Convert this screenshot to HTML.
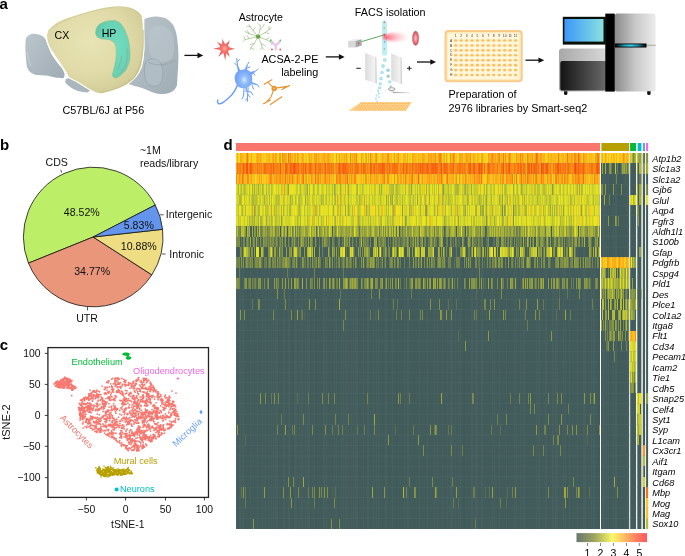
<!DOCTYPE html>
<html><head><meta charset="utf-8"><style>
html,body{margin:0;padding:0;background:#fff;width:685px;height:556px;overflow:hidden}
body{position:relative;font-family:"Liberation Sans", sans-serif;filter:blur(0.3px)}
</style></head><body>
<svg width="685" height="556" viewBox="0 0 685 556" style="position:absolute;left:0;top:0"><rect x="236.0" y="153.0" width="364.00" height="376.0" fill="#425c5c"/><rect x="601.2" y="153.0" width="28.00" height="376.0" fill="#425c5c"/><rect x="630.2" y="153.0" width="5.90" height="376.0" fill="#425c5c"/><rect x="637.3" y="153.0" width="4.20" height="376.0" fill="#425c5c"/><rect x="642.8" y="153.0" width="2.30" height="376.0" fill="#425c5c"/><rect x="646.1" y="153.0" width="2.00" height="376.0" fill="#425c5c"/><path stroke="#475f5f" stroke-width="1" d="M236.5 153.0V529.0M239.5 153.0V529.0M240.5 153.0V529.0M242.5 153.0V529.0M243.5 153.0V529.0M250.5 153.0V529.0M257.5 153.0V529.0M262.5 153.0V529.0M265.5 153.0V529.0M268.5 153.0V529.0M271.5 153.0V529.0M273.5 153.0V529.0M275.5 153.0V529.0M276.5 153.0V529.0M277.5 153.0V529.0M283.5 153.0V529.0M284.5 153.0V529.0M288.5 153.0V529.0M289.5 153.0V529.0M294.5 153.0V529.0M295.5 153.0V529.0M296.5 153.0V529.0M299.5 153.0V529.0M301.5 153.0V529.0M302.5 153.0V529.0M305.5 153.0V529.0M307.5 153.0V529.0M308.5 153.0V529.0M309.5 153.0V529.0M314.5 153.0V529.0M323.5 153.0V529.0M324.5 153.0V529.0M326.5 153.0V529.0M334.5 153.0V529.0M336.5 153.0V529.0M341.5 153.0V529.0M343.5 153.0V529.0M345.5 153.0V529.0M346.5 153.0V529.0M348.5 153.0V529.0M351.5 153.0V529.0M353.5 153.0V529.0M355.5 153.0V529.0M356.5 153.0V529.0M357.5 153.0V529.0M363.5 153.0V529.0M367.5 153.0V529.0M368.5 153.0V529.0M373.5 153.0V529.0M376.5 153.0V529.0M378.5 153.0V529.0M385.5 153.0V529.0M386.5 153.0V529.0M392.5 153.0V529.0M404.5 153.0V529.0M407.5 153.0V529.0M408.5 153.0V529.0M419.5 153.0V529.0M427.5 153.0V529.0M434.5 153.0V529.0M437.5 153.0V529.0M442.5 153.0V529.0M447.5 153.0V529.0M450.5 153.0V529.0M451.5 153.0V529.0M452.5 153.0V529.0M455.5 153.0V529.0M458.5 153.0V529.0M460.5 153.0V529.0M471.5 153.0V529.0M472.5 153.0V529.0M475.5 153.0V529.0M476.5 153.0V529.0M477.5 153.0V529.0M481.5 153.0V529.0M482.5 153.0V529.0M492.5 153.0V529.0M494.5 153.0V529.0M499.5 153.0V529.0M506.5 153.0V529.0M514.5 153.0V529.0M516.5 153.0V529.0M520.5 153.0V529.0M523.5 153.0V529.0M524.5 153.0V529.0M536.5 153.0V529.0M538.5 153.0V529.0M539.5 153.0V529.0M545.5 153.0V529.0M546.5 153.0V529.0M552.5 153.0V529.0M553.5 153.0V529.0M555.5 153.0V529.0M556.5 153.0V529.0M557.5 153.0V529.0M563.5 153.0V529.0M565.5 153.0V529.0M569.5 153.0V529.0M577.5 153.0V529.0M583.5 153.0V529.0M584.5 153.0V529.0M585.5 153.0V529.0M591.5 153.0V529.0M593.5 153.0V529.0M594.5 153.0V529.0M602.5 153.0V529.0M603.5 153.0V529.0M604.5 153.0V529.0M606.5 153.0V529.0M608.5 153.0V529.0M613.5 153.0V529.0M615.5 153.0V529.0M616.5 153.0V529.0M627.5 153.0V529.0M628.5 153.0V529.0M635.5 153.0V529.0"/><path stroke="#405a5a" stroke-width="1" d="M249.5 153.0V529.0M267.5 153.0V529.0M292.5 153.0V529.0M293.5 153.0V529.0M310.5 153.0V529.0M315.5 153.0V529.0M316.5 153.0V529.0M321.5 153.0V529.0M364.5 153.0V529.0M383.5 153.0V529.0M389.5 153.0V529.0M396.5 153.0V529.0M402.5 153.0V529.0M414.5 153.0V529.0M463.5 153.0V529.0M464.5 153.0V529.0M507.5 153.0V529.0M567.5 153.0V529.0M598.5 153.0V529.0M601.5 153.0V529.0M609.5 153.0V529.0M611.5 153.0V529.0M618.5 153.0V529.0M619.5 153.0V529.0M622.5 153.0V529.0"/><path stroke="#fad41c" stroke-width="10.444" shape-rendering="crispEdges" d="M236 158.22h1.0M249 158.22h1.0M253 158.22h1.0M265 158.22h1.0M304 158.22h1.0M335 158.22h1.0M340 158.22h1.0M357 158.22h2.0M373 158.22h1.0M392 158.22h1.0M395 158.22h1.0M401 158.22h2.0M408 158.22h1.0M486 158.22h1.0M513 158.22h1.0M515 158.22h1.0M545 158.22h2.0M588 158.22h1.0M262 179.11h1.0M335 179.11h1.0M364 179.11h1.0M395 179.11h2.0M445 179.11h1.0M457 179.11h1.0M484 179.11h1.0M554 179.11h1.0M589 179.11h1.0M293 189.56h1.0M373 189.56h1.0M439 189.56h1.0M492 189.56h1.0M501 189.56h1.0M339 200.00h1.0M511 200.00h1.0M585 200.00h1.0M372 210.44h1.0M398 210.44h1.0M422 210.44h1.0M440 210.44h1.0M488 210.44h1.0M558 210.44h1.0M572 210.44h1.0M584 210.44h1.0M591 210.44h1.0M329 220.89h1.0M338 220.89h1.0M509 220.89h1.0M511 220.89h1.0M603.2 158.22h1.0M609.2 158.22h1.0M612.2 158.22h1.0M615.2 158.22h1.0M617.2 158.22h1.0M621.2 158.22h1.0M611.2 262.67h1.0M624.2 262.67h1.0M635.1 346.22h1.0"/><path stroke="#fca818" stroke-width="10.444" shape-rendering="crispEdges" d="M237 158.22h1.0M240 158.22h1.0M251 158.22h1.0M260 158.22h1.0M269 158.22h1.0M283 158.22h1.0M294 158.22h2.0M298 158.22h1.0M302 158.22h1.0M311 158.22h1.0M315 158.22h1.0M318 158.22h1.0M327 158.22h1.0M344 158.22h1.0M352 158.22h1.0M368 158.22h1.0M407 158.22h1.0M423 158.22h1.0M430 158.22h1.0M433 158.22h1.0M444 158.22h1.0M446 158.22h1.0M460 158.22h3.0M467 158.22h2.0M473 158.22h1.0M481 158.22h1.0M489 158.22h1.0M493 158.22h1.0M497 158.22h1.0M530 158.22h1.0M548 158.22h1.0M572 158.22h1.0M584 158.22h1.0M596 158.22h1.0M262 168.67h1.0M284 168.67h1.0M466 168.67h1.0M483 168.67h1.0M485 168.67h2.0M552 168.67h1.0M240 179.11h1.0M245 179.11h1.0M275 179.11h1.0M277 179.11h1.0M283 179.11h1.0M291 179.11h1.0M293 179.11h1.0M298 179.11h2.0M301 179.11h1.0M305 179.11h1.0M312 179.11h1.0M326 179.11h2.0M342 179.11h1.0M344 179.11h1.0M363 179.11h1.0M377 179.11h1.0M380 179.11h1.0M398 179.11h1.0M406 179.11h1.0M414 179.11h1.0M431 179.11h1.0M440 179.11h1.0M462 179.11h1.0M466 179.11h1.0M468 179.11h1.0M472 179.11h1.0M488 179.11h2.0M493 179.11h1.0M495 179.11h2.0M508 179.11h1.0M524 179.11h1.0M529 179.11h1.0M531 179.11h1.0M537 179.11h1.0M540 179.11h1.0M566 179.11h1.0M568 179.11h1.0M580 179.11h1.0M592 179.11h1.0M595 179.11h2.0M394 210.44h1.0M605.2 158.22h1.0M624.2 158.22h1.0M602.2 262.67h1.0M615.2 262.67h1.0M618.2 262.67h1.0M626.2 262.67h1.0M631.2 335.78h1.0"/><path stroke="#f1de1f" stroke-width="10.444" shape-rendering="crispEdges" d="M238 158.22h1.0M337 158.22h1.0M359 158.22h2.0M367 158.22h1.0M369 158.22h1.0M442 158.22h1.0M448 158.22h1.0M594 158.22h1.0M458 179.11h1.0M518 179.11h1.0M277 189.56h1.0M308 189.56h1.0M370 189.56h1.0M376 189.56h1.0M407 189.56h1.0M425 189.56h1.0M497 189.56h1.0M511 189.56h1.0M547 189.56h1.0M243 200.00h1.0M247 200.00h1.0M286 200.00h1.0M367 200.00h1.0M430 200.00h1.0M460 200.00h1.0M496 200.00h1.0M508 200.00h1.0M527 200.00h1.0M246 210.44h1.0M272 210.44h1.0M336 210.44h1.0M343 210.44h2.0M362 210.44h2.0M383 210.44h1.0M432 210.44h1.0M436 210.44h1.0M499 210.44h1.0M533 210.44h1.0M542 210.44h1.0M575 210.44h1.0M241 220.89h1.0M306 220.89h1.0M327 220.89h1.0M331 220.89h1.0M347 220.89h1.0M377 220.89h1.0M422 220.89h1.0M433 220.89h1.0M453 220.89h1.0M527 220.89h1.0M491 252.22h2.0M550 252.22h1.0M607.2 158.22h1.0M610.2 158.22h1.0M626.2 273.11h1.0M632.2 200.00h1.0M637.3 398.44h1.1"/><path stroke="#f6d91e" stroke-width="10.444" shape-rendering="crispEdges" d="M239 158.22h1.0M255 158.22h1.0M262 158.22h1.0M278 158.22h1.0M287 158.22h1.0M299 158.22h1.0M348 158.22h2.0M406 158.22h1.0M449 158.22h1.0M457 158.22h2.0M471 158.22h1.0M476 158.22h1.0M526 158.22h1.0M582 158.22h1.0M307 179.11h1.0M362 179.11h1.0M379 179.11h1.0M393 179.11h1.0M420 179.11h1.0M454 179.11h1.0M461 179.11h1.0M513 179.11h1.0M280 189.56h1.0M406 189.56h1.0M433 189.56h1.0M440 189.56h1.0M479 189.56h1.0M481 189.56h1.0M555 189.56h1.0M565 189.56h1.0M572 189.56h1.0M280 200.00h1.0M336 200.00h1.0M423 200.00h1.0M427 200.00h1.0M437 200.00h1.0M470 200.00h1.0M520 200.00h1.0M280 210.44h1.0M324 210.44h1.0M370 210.44h1.0M373 210.44h1.0M376 210.44h1.0M403 210.44h1.0M408 210.44h1.0M424 210.44h1.0M477 210.44h1.0M494 210.44h1.0M597 210.44h1.0M317 220.89h1.0M344 220.89h1.0M356 220.89h1.0M398 220.89h1.0M401 220.89h1.0M414 220.89h1.0M488 220.89h1.0M542 220.89h1.0M598 220.89h1.0M618.2 158.22h1.0M606.2 262.67h1.0M631.2 346.22h1.0"/><path stroke="#fcaf19" stroke-width="10.444" shape-rendering="crispEdges" d="M241 158.22h1.0M248 158.22h1.0M258 158.22h1.0M272 158.22h1.0M276 158.22h1.0M286 158.22h1.0M289 158.22h1.0M292 158.22h1.0M303 158.22h1.0M323 158.22h1.0M355 158.22h1.0M365 158.22h1.0M397 158.22h1.0M404 158.22h2.0M414 158.22h1.0M418 158.22h1.0M424 158.22h1.0M429 158.22h1.0M434 158.22h1.0M452 158.22h1.0M465 158.22h1.0M477 158.22h1.0M494 158.22h1.0M501 158.22h1.0M518 158.22h1.0M523 158.22h1.0M538 158.22h1.0M543 158.22h2.0M551 158.22h1.0M563 158.22h1.0M565 158.22h1.0M568 158.22h2.0M580 158.22h1.0M586 158.22h1.0M589 158.22h1.0M599 158.22h1.0M334 168.67h1.0M540 168.67h1.0M272 179.11h1.0M284 179.11h1.0M286 179.11h1.0M288 179.11h1.0M290 179.11h1.0M294 179.11h1.0M296 179.11h1.0M308 179.11h2.0M316 179.11h1.0M322 179.11h1.0M331 179.11h1.0M333 179.11h1.0M341 179.11h1.0M352 179.11h1.0M361 179.11h1.0M368 179.11h1.0M371 179.11h2.0M378 179.11h1.0M410 179.11h1.0M416 179.11h2.0M419 179.11h1.0M428 179.11h1.0M430 179.11h1.0M433 179.11h1.0M438 179.11h1.0M449 179.11h1.0M451 179.11h2.0M455 179.11h1.0M463 179.11h1.0M475 179.11h1.0M480 179.11h1.0M497 179.11h1.0M519 179.11h1.0M548 179.11h1.0M553 179.11h1.0M557 179.11h1.0M560 179.11h1.0M581 179.11h1.0M590 179.11h1.0M354 210.44h1.0M602.2 158.22h1.0M611.2 158.22h1.0M627.2 158.22h1.0M612.2 262.67h3.0M622.2 262.67h2.0"/><path stroke="#fbb719" stroke-width="10.444" shape-rendering="crispEdges" d="M242 158.22h1.0M256 158.22h1.0M259 158.22h1.0M261 158.22h1.0M266 158.22h1.0M291 158.22h1.0M319 158.22h1.0M321 158.22h2.0M326 158.22h1.0M329 158.22h2.0M332 158.22h1.0M341 158.22h1.0M371 158.22h2.0M383 158.22h1.0M385 158.22h1.0M389 158.22h1.0M391 158.22h1.0M396 158.22h1.0M403 158.22h1.0M413 158.22h1.0M420 158.22h1.0M432 158.22h1.0M443 158.22h1.0M469 158.22h1.0M474 158.22h1.0M490 158.22h1.0M502 158.22h1.0M517 158.22h1.0M521 158.22h1.0M525 158.22h1.0M529 158.22h1.0M531 158.22h1.0M539 158.22h1.0M550 158.22h1.0M554 158.22h2.0M559 158.22h1.0M561 158.22h2.0M570 158.22h1.0M577 158.22h1.0M581 158.22h1.0M585 158.22h1.0M591 158.22h1.0M526 168.67h1.0M237 179.11h2.0M241 179.11h1.0M250 179.11h1.0M254 179.11h1.0M257 179.11h1.0M266 179.11h1.0M268 179.11h1.0M273 179.11h1.0M281 179.11h1.0M313 179.11h1.0M319 179.11h1.0M323 179.11h1.0M328 179.11h1.0M353 179.11h1.0M375 179.11h1.0M381 179.11h1.0M408 179.11h1.0M421 179.11h1.0M424 179.11h1.0M426 179.11h1.0M435 179.11h1.0M450 179.11h1.0M471 179.11h1.0M473 179.11h1.0M492 179.11h1.0M498 179.11h1.0M522 179.11h1.0M539 179.11h1.0M545 179.11h1.0M549 179.11h1.0M559 179.11h1.0M574 179.11h1.0M587 179.11h1.0M591 179.11h1.0M598 179.11h1.0M382 210.44h1.0M430 220.89h1.0M613.2 158.22h1.0M616.2 158.22h1.0M622.2 158.22h1.0M626.2 158.22h1.0M609.2 262.67h1.0M620.2 262.67h1.0M627.2 262.67h1.0M632.2 335.78h1.0"/><path stroke="#fbc51b" stroke-width="10.444" shape-rendering="crispEdges" d="M243 158.22h2.0M263 158.22h1.0M274 158.22h1.0M300 158.22h1.0M305 158.22h1.0M310 158.22h1.0M312 158.22h1.0M317 158.22h1.0M320 158.22h1.0M333 158.22h1.0M338 158.22h1.0M345 158.22h1.0M351 158.22h1.0M377 158.22h2.0M380 158.22h2.0M390 158.22h1.0M400 158.22h1.0M409 158.22h2.0M419 158.22h1.0M425 158.22h1.0M437 158.22h1.0M447 158.22h1.0M464 158.22h1.0M479 158.22h1.0M500 158.22h1.0M504 158.22h1.0M506 158.22h1.0M511 158.22h1.0M533 158.22h1.0M547 158.22h1.0M549 158.22h1.0M556 158.22h1.0M573 158.22h1.0M592 158.22h1.0M244 179.11h1.0M249 179.11h1.0M253 179.11h1.0M258 179.11h1.0M260 179.11h1.0M265 179.11h1.0M267 179.11h1.0M295 179.11h1.0M334 179.11h1.0M356 179.11h1.0M359 179.11h1.0M373 179.11h1.0M385 179.11h2.0M399 179.11h1.0M415 179.11h1.0M444 179.11h1.0M464 179.11h1.0M467 179.11h1.0M490 179.11h2.0M499 179.11h1.0M504 179.11h2.0M515 179.11h1.0M526 179.11h1.0M571 179.11h1.0M584 179.11h1.0M599 179.11h1.0M285 189.56h1.0M349 189.56h1.0M386 189.56h1.0M440 200.00h1.0M253 210.44h1.0M365 210.44h1.0M412 210.44h1.0M439 210.44h1.0M394 220.89h1.0M578 220.89h1.0M601.2 158.22h1.0M628.2 158.22h1.0M621.2 262.67h1.0M628.2 262.67h1.0M633.2 335.78h2.0M646.1 502.89h1.0M646.1 513.33h2.0"/><path stroke="#facd1b" stroke-width="10.444" shape-rendering="crispEdges" d="M245 158.22h1.0M250 158.22h1.0M252 158.22h1.0M254 158.22h1.0M264 158.22h1.0M270 158.22h2.0M277 158.22h1.0M293 158.22h1.0M296 158.22h1.0M313 158.22h1.0M331 158.22h1.0M374 158.22h1.0M393 158.22h1.0M399 158.22h1.0M417 158.22h1.0M421 158.22h1.0M427 158.22h1.0M455 158.22h1.0M463 158.22h1.0M472 158.22h1.0M483 158.22h3.0M507 158.22h1.0M524 158.22h1.0M560 158.22h1.0M564 158.22h1.0M256 179.11h1.0M264 179.11h1.0M300 179.11h1.0M304 179.11h1.0M310 179.11h1.0M314 179.11h1.0M348 179.11h1.0M358 179.11h1.0M367 179.11h1.0M369 179.11h1.0M390 179.11h1.0M392 179.11h1.0M402 179.11h1.0M483 179.11h1.0M485 179.11h2.0M494 179.11h1.0M517 179.11h1.0M534 179.11h1.0M546 179.11h1.0M563 179.11h1.0M570 179.11h1.0M593 179.11h1.0M343 189.56h1.0M423 189.56h1.0M578 189.56h1.0M343 200.00h1.0M363 200.00h1.0M576 200.00h1.0M270 210.44h1.0M294 210.44h1.0M339 210.44h1.0M444 210.44h1.0M453 210.44h1.0M509 210.44h1.0M523 210.44h1.0M590 210.44h1.0M310 220.89h1.0M572 220.89h1.0M583 220.89h1.0M590 220.89h1.0M597 220.89h1.0M604.2 158.22h1.0M625.2 158.22h1.0M601.2 262.67h1.0M603.2 262.67h1.0M605.2 262.67h1.0M625.2 262.67h1.0M647.1 502.89h1.0"/><path stroke="#fca017" stroke-width="10.444" shape-rendering="crispEdges" d="M246 158.22h1.0M257 158.22h1.0M273 158.22h1.0M275 158.22h1.0M279 158.22h1.0M284 158.22h2.0M297 158.22h1.0M309 158.22h1.0M314 158.22h1.0M324 158.22h1.0M328 158.22h1.0M336 158.22h1.0M339 158.22h1.0M346 158.22h1.0M354 158.22h1.0M361 158.22h1.0M366 158.22h1.0M375 158.22h1.0M382 158.22h1.0M412 158.22h1.0M422 158.22h1.0M431 158.22h1.0M438 158.22h1.0M459 158.22h1.0M466 158.22h1.0M482 158.22h1.0M488 158.22h1.0M495 158.22h1.0M508 158.22h1.0M510 158.22h1.0M528 158.22h1.0M541 158.22h1.0M576 158.22h1.0M236 168.67h1.0M323 168.67h1.0M326 168.67h1.0M353 168.67h1.0M366 168.67h1.0M369 168.67h1.0M454 168.67h1.0M500 168.67h1.0M504 168.67h1.0M551 168.67h1.0M586 168.67h1.0M251 179.11h1.0M259 179.11h1.0M261 179.11h1.0M269 179.11h1.0M274 179.11h1.0M278 179.11h1.0M338 179.11h1.0M343 179.11h1.0M346 179.11h1.0M349 179.11h1.0M374 179.11h1.0M376 179.11h1.0M382 179.11h1.0M400 179.11h2.0M403 179.11h1.0M409 179.11h1.0M427 179.11h1.0M434 179.11h1.0M442 179.11h1.0M453 179.11h1.0M470 179.11h1.0M476 179.11h1.0M478 179.11h1.0M509 179.11h1.0M520 179.11h1.0M530 179.11h1.0M542 179.11h1.0M565 179.11h1.0M573 179.11h1.0M582 179.11h1.0M585 179.11h1.0M597 179.11h1.0M608.2 262.67h1.0"/><path stroke="#fa7813" stroke-width="10.444" shape-rendering="crispEdges" d="M247 158.22h1.0M288 158.22h1.0M567 158.22h1.0M237 168.67h1.0M240 168.67h1.0M244 168.67h1.0M261 168.67h1.0M267 168.67h1.0M287 168.67h1.0M292 168.67h1.0M297 168.67h1.0M301 168.67h1.0M311 168.67h1.0M318 168.67h2.0M327 168.67h2.0M333 168.67h1.0M347 168.67h2.0M352 168.67h1.0M355 168.67h1.0M358 168.67h1.0M376 168.67h1.0M379 168.67h1.0M387 168.67h1.0M393 168.67h1.0M407 168.67h1.0M409 168.67h1.0M415 168.67h1.0M424 168.67h1.0M426 168.67h1.0M430 168.67h1.0M434 168.67h1.0M440 168.67h1.0M443 168.67h1.0M452 168.67h1.0M464 168.67h1.0M487 168.67h1.0M493 168.67h1.0M497 168.67h1.0M502 168.67h1.0M517 168.67h1.0M524 168.67h1.0M553 168.67h1.0M567 168.67h1.0M584 168.67h1.0M242 179.11h1.0M285 179.11h1.0M412 179.11h1.0M441 179.11h1.0M447 179.11h1.0M512 179.11h1.0M516 179.11h1.0M521 179.11h1.0M527 179.11h1.0"/><path stroke="#fbbe1a" stroke-width="10.444" shape-rendering="crispEdges" d="M267 158.22h2.0M301 158.22h1.0M306 158.22h1.0M308 158.22h1.0M325 158.22h1.0M342 158.22h2.0M347 158.22h1.0M353 158.22h1.0M362 158.22h2.0M384 158.22h1.0M386 158.22h1.0M415 158.22h2.0M426 158.22h1.0M436 158.22h1.0M451 158.22h1.0M456 158.22h1.0M475 158.22h1.0M478 158.22h1.0M496 158.22h1.0M512 158.22h1.0M514 158.22h1.0M519 158.22h1.0M534 158.22h1.0M542 158.22h1.0M552 158.22h2.0M557 158.22h1.0M566 158.22h1.0M587 158.22h1.0M590 158.22h1.0M593 158.22h1.0M246 179.11h1.0M252 179.11h1.0M263 179.11h1.0M321 179.11h1.0M330 179.11h1.0M332 179.11h1.0M350 179.11h1.0M357 179.11h1.0M360 179.11h1.0M389 179.11h1.0M391 179.11h1.0M404 179.11h1.0M407 179.11h1.0M413 179.11h1.0M423 179.11h1.0M425 179.11h1.0M432 179.11h1.0M436 179.11h1.0M443 179.11h1.0M448 179.11h1.0M460 179.11h1.0M469 179.11h1.0M482 179.11h1.0M501 179.11h1.0M532 179.11h1.0M538 179.11h1.0M544 179.11h1.0M569 179.11h1.0M586 179.11h1.0M588 179.11h1.0M282 189.56h1.0M532 189.56h1.0M456 210.44h1.0M530 210.44h1.0M541 210.44h1.0M578 210.44h1.0M606.2 158.22h1.0M608.2 158.22h1.0M614.2 158.22h1.0M619.2 158.22h2.0M604.2 262.67h1.0M610.2 262.67h1.0M616.2 262.67h1.0M630.2 335.78h1.0"/><path stroke="#fb9816" stroke-width="10.444" shape-rendering="crispEdges" d="M280 158.22h1.0M316 158.22h1.0M387 158.22h1.0M394 158.22h1.0M398 158.22h1.0M428 158.22h1.0M441 158.22h1.0M454 158.22h1.0M491 158.22h1.0M498 158.22h1.0M516 158.22h1.0M522 158.22h1.0M532 158.22h1.0M535 158.22h1.0M540 158.22h1.0M571 158.22h1.0M595 158.22h1.0M241 168.67h1.0M254 168.67h1.0M256 168.67h1.0M281 168.67h2.0M313 168.67h1.0M359 168.67h2.0M362 168.67h1.0M372 168.67h1.0M385 168.67h1.0M398 168.67h2.0M408 168.67h1.0M411 168.67h1.0M442 168.67h1.0M498 168.67h1.0M522 168.67h1.0M530 168.67h1.0M554 168.67h1.0M566 168.67h1.0M571 168.67h1.0M573 168.67h1.0M279 179.11h1.0M282 179.11h1.0M287 179.11h1.0M306 179.11h1.0M317 179.11h1.0M320 179.11h1.0M324 179.11h1.0M337 179.11h1.0M366 179.11h1.0M383 179.11h1.0M422 179.11h1.0M429 179.11h1.0M439 179.11h1.0M446 179.11h1.0M459 179.11h1.0M477 179.11h1.0M507 179.11h1.0M510 179.11h2.0M514 179.11h1.0M523 179.11h1.0M550 179.11h2.0M561 179.11h1.0M572 179.11h1.0M576 179.11h2.0M315 210.44h1.0M607.2 262.67h1.0M619.2 262.67h1.0M644 450.67h1.2"/><path stroke="#e8e822" stroke-width="10.444" shape-rendering="crispEdges" d="M281 158.22h1.0M334 158.22h1.0M411 158.22h1.0M251 189.56h1.0M274 189.56h1.0M292 189.56h1.0M298 189.56h1.0M310 189.56h2.0M315 189.56h1.0M320 189.56h1.0M338 189.56h1.0M365 189.56h1.0M368 189.56h1.0M431 189.56h1.0M435 189.56h1.0M437 189.56h1.0M452 189.56h1.0M503 189.56h1.0M515 189.56h1.0M557 189.56h1.0M561 189.56h1.0M568 189.56h1.0M588 189.56h1.0M242 200.00h1.0M270 200.00h1.0M272 200.00h1.0M297 200.00h1.0M303 200.00h1.0M333 200.00h1.0M352 200.00h1.0M389 200.00h1.0M406 200.00h1.0M422 200.00h1.0M453 200.00h1.0M521 200.00h1.0M559 200.00h1.0M240 210.44h1.0M293 210.44h1.0M295 210.44h1.0M302 210.44h2.0M329 210.44h1.0M331 210.44h1.0M346 210.44h1.0M355 210.44h1.0M374 210.44h1.0M391 210.44h1.0M396 210.44h2.0M417 210.44h1.0M446 210.44h2.0M468 210.44h1.0M506 210.44h1.0M537 210.44h1.0M546 210.44h1.0M565 210.44h1.0M577 210.44h1.0M579 210.44h1.0M583 210.44h1.0M292 220.89h2.0M345 220.89h1.0M400 220.89h1.0M413 220.89h1.0M417 220.89h1.0M423 220.89h1.0M438 220.89h1.0M497 220.89h2.0M514 220.89h1.0M519 220.89h1.0M528 220.89h1.0M546 220.89h1.0M555 220.89h1.0M558 220.89h1.0M565 220.89h1.0M575 220.89h1.0M594 220.89h2.0M257 252.22h1.0M399 252.22h1.0M626.2 283.56h1.0M631.2 262.67h1.0"/><path stroke="#fb8815" stroke-width="10.444" shape-rendering="crispEdges" d="M282 158.22h1.0M350 158.22h1.0M356 158.22h1.0M370 158.22h1.0M439 158.22h1.0M453 158.22h1.0M492 158.22h1.0M509 158.22h1.0M520 158.22h1.0M527 158.22h1.0M574 158.22h1.0M238 168.67h1.0M252 168.67h1.0M255 168.67h1.0M269 168.67h1.0M275 168.67h1.0M278 168.67h2.0M283 168.67h1.0M304 168.67h1.0M312 168.67h1.0M330 168.67h1.0M332 168.67h1.0M336 168.67h1.0M341 168.67h1.0M375 168.67h1.0M377 168.67h1.0M388 168.67h1.0M402 168.67h1.0M413 168.67h2.0M417 168.67h1.0M421 168.67h1.0M429 168.67h1.0M455 168.67h2.0M463 168.67h1.0M471 168.67h2.0M475 168.67h1.0M494 168.67h1.0M505 168.67h1.0M510 168.67h2.0M516 168.67h1.0M519 168.67h1.0M525 168.67h1.0M532 168.67h1.0M537 168.67h1.0M561 168.67h1.0M564 168.67h1.0M585 168.67h1.0M587 168.67h1.0M590 168.67h1.0M594 168.67h2.0M247 179.11h1.0M280 179.11h1.0M289 179.11h1.0M318 179.11h1.0M325 179.11h1.0M339 179.11h2.0M354 179.11h2.0M465 179.11h1.0M474 179.11h1.0M479 179.11h1.0M555 179.11h1.0M575 179.11h1.0M579 179.11h1.0M594 179.11h1.0"/><path stroke="#fb9015" stroke-width="10.444" shape-rendering="crispEdges" d="M290 158.22h1.0M376 158.22h1.0M388 158.22h1.0M435 158.22h1.0M450 158.22h1.0M470 158.22h1.0M505 158.22h1.0M575 158.22h1.0M579 158.22h1.0M583 158.22h1.0M245 168.67h1.0M248 168.67h1.0M258 168.67h1.0M260 168.67h1.0M272 168.67h1.0M288 168.67h1.0M299 168.67h2.0M307 168.67h1.0M314 168.67h1.0M317 168.67h1.0M321 168.67h1.0M335 168.67h1.0M337 168.67h1.0M349 168.67h1.0M351 168.67h1.0M368 168.67h1.0M391 168.67h1.0M401 168.67h1.0M405 168.67h1.0M438 168.67h1.0M448 168.67h2.0M461 168.67h1.0M467 168.67h1.0M477 168.67h1.0M491 168.67h1.0M495 168.67h2.0M499 168.67h1.0M507 168.67h1.0M512 168.67h2.0M515 168.67h1.0M539 168.67h1.0M544 168.67h1.0M549 168.67h1.0M588 168.67h1.0M593 168.67h1.0M236 179.11h1.0M239 179.11h1.0M243 179.11h1.0M248 179.11h1.0M271 179.11h1.0M276 179.11h1.0M302 179.11h1.0M311 179.11h1.0M329 179.11h1.0M345 179.11h1.0M351 179.11h1.0M365 179.11h1.0M370 179.11h1.0M387 179.11h2.0M394 179.11h1.0M397 179.11h1.0M411 179.11h1.0M437 179.11h1.0M456 179.11h1.0M487 179.11h1.0M500 179.11h1.0M502 179.11h2.0M506 179.11h1.0M525 179.11h1.0M528 179.11h1.0M533 179.11h1.0M535 179.11h1.0M543 179.11h1.0M547 179.11h1.0M558 179.11h1.0M562 179.11h1.0M567 179.11h1.0M623.2 158.22h1.0M635.1 335.78h1.0M642.8 450.67h1.2"/><path stroke="#ece320" stroke-width="10.444" shape-rendering="crispEdges" d="M307 158.22h1.0M364 158.22h1.0M379 158.22h1.0M480 158.22h1.0M255 179.11h1.0M239 189.56h1.0M248 189.56h1.0M275 189.56h1.0M289 189.56h1.0M291 189.56h1.0M325 189.56h1.0M346 189.56h1.0M353 189.56h1.0M355 189.56h1.0M358 189.56h1.0M427 189.56h1.0M482 189.56h1.0M499 189.56h1.0M512 189.56h1.0M519 189.56h1.0M574 189.56h1.0M586 189.56h1.0M311 200.00h1.0M330 200.00h1.0M416 200.00h1.0M432 200.00h1.0M461 200.00h1.0M565 200.00h1.0M239 210.44h1.0M261 210.44h1.0M264 210.44h1.0M311 210.44h1.0M321 210.44h2.0M326 210.44h1.0M330 210.44h1.0M335 210.44h1.0M361 210.44h1.0M389 210.44h1.0M399 210.44h1.0M401 210.44h1.0M462 210.44h1.0M470 210.44h1.0M479 210.44h1.0M512 210.44h1.0M527 210.44h1.0M529 210.44h1.0M569 210.44h1.0M237 220.89h1.0M273 220.89h1.0M311 220.89h1.0M325 220.89h1.0M333 220.89h1.0M354 220.89h1.0M382 220.89h1.0M424 220.89h1.0M428 220.89h1.0M439 220.89h1.0M441 220.89h1.0M456 220.89h1.0M530 220.89h1.0M541 220.89h1.0M584 220.89h1.0M343 252.22h2.0M475 252.22h1.0M500 252.22h1.0M512 252.22h1.0M630.2 200.00h1.0M639.4 398.44h1.1"/><path stroke="#fb8014" stroke-width="10.444" shape-rendering="crispEdges" d="M440 158.22h1.0M499 158.22h1.0M503 158.22h1.0M537 158.22h1.0M558 158.22h1.0M597 158.22h2.0M239 168.67h1.0M242 168.67h1.0M249 168.67h1.0M253 168.67h1.0M259 168.67h1.0M263 168.67h1.0M266 168.67h1.0M268 168.67h1.0M274 168.67h1.0M276 168.67h2.0M289 168.67h1.0M302 168.67h1.0M306 168.67h1.0M308 168.67h1.0M316 168.67h1.0M322 168.67h1.0M324 168.67h1.0M354 168.67h1.0M367 168.67h1.0M386 168.67h1.0M390 168.67h1.0M400 168.67h1.0M404 168.67h1.0M410 168.67h1.0M419 168.67h1.0M439 168.67h1.0M451 168.67h1.0M457 168.67h2.0M465 168.67h1.0M476 168.67h1.0M490 168.67h1.0M492 168.67h1.0M548 168.67h1.0M550 168.67h1.0M556 168.67h1.0M559 168.67h1.0M562 168.67h1.0M569 168.67h2.0M572 168.67h1.0M577 168.67h1.0M579 168.67h1.0M581 168.67h1.0M589 168.67h1.0M599 168.67h1.0M270 179.11h1.0M292 179.11h1.0M297 179.11h1.0M336 179.11h1.0M384 179.11h1.0M405 179.11h1.0M536 179.11h1.0M541 179.11h1.0M556 179.11h1.0M564 179.11h1.0M578 179.11h1.0"/><path stroke="#e2e324" stroke-width="10.444" shape-rendering="crispEdges" d="M445 158.22h1.0M487 158.22h1.0M236 189.56h1.0M264 189.56h2.0M267 189.56h1.0M270 189.56h1.0M290 189.56h1.0M294 189.56h1.0M319 189.56h1.0M324 189.56h1.0M352 189.56h1.0M354 189.56h1.0M367 189.56h1.0M385 189.56h1.0M416 189.56h1.0M418 189.56h1.0M461 189.56h1.0M485 189.56h1.0M495 189.56h2.0M528 189.56h1.0M549 189.56h1.0M571 189.56h1.0M583 189.56h2.0M590 189.56h1.0M596 189.56h2.0M599 189.56h1.0M261 200.00h1.0M268 200.00h1.0M294 200.00h1.0M304 200.00h1.0M315 200.00h1.0M324 200.00h1.0M346 200.00h1.0M354 200.00h1.0M365 200.00h1.0M371 200.00h1.0M385 200.00h1.0M393 200.00h1.0M473 200.00h1.0M495 200.00h1.0M503 200.00h1.0M554 200.00h1.0M561 200.00h1.0M580 200.00h1.0M583 200.00h1.0M591 200.00h1.0M247 210.44h1.0M250 210.44h1.0M260 210.44h1.0M282 210.44h1.0M285 210.44h1.0M296 210.44h1.0M306 210.44h1.0M318 210.44h1.0M325 210.44h1.0M353 210.44h1.0M356 210.44h1.0M371 210.44h1.0M377 210.44h1.0M407 210.44h1.0M414 210.44h1.0M431 210.44h1.0M466 210.44h1.0M473 210.44h2.0M484 210.44h1.0M538 210.44h1.0M595 210.44h1.0M246 220.89h1.0M259 220.89h1.0M264 220.89h1.0M301 220.89h2.0M315 220.89h1.0M319 220.89h1.0M324 220.89h1.0M403 220.89h1.0M435 220.89h1.0M437 220.89h1.0M440 220.89h1.0M450 220.89h1.0M470 220.89h1.0M481 220.89h1.0M500 220.89h1.0M517 220.89h1.0M520 220.89h1.0M524 220.89h1.0M532 220.89h1.0M548 220.89h1.0M591 220.89h1.0M596 220.89h1.0M575 231.33h1.0M256 252.22h1.0M258 252.22h1.0M341 252.22h1.0M380 252.22h1.0M402 252.22h1.0M551 252.22h1.0M559 252.22h1.0M617.2 262.67h1.0M635.1 200.00h1.0M630.2 346.22h1.0M632.2 356.67h1.0M640.5 398.44h1.1M647.1 200.00h1.0"/><path stroke="#fa6a12" stroke-width="10.444" shape-rendering="crispEdges" d="M536 158.22h1.0M578 158.22h1.0M264 168.67h1.0M291 168.67h1.0M295 168.67h1.0M298 168.67h1.0M303 168.67h1.0M342 168.67h1.0M344 168.67h1.0M356 168.67h1.0M361 168.67h1.0M380 168.67h1.0M389 168.67h1.0M418 168.67h1.0M428 168.67h1.0M431 168.67h1.0M436 168.67h2.0M445 168.67h2.0M460 168.67h1.0M478 168.67h1.0M484 168.67h1.0M506 168.67h1.0M508 168.67h1.0M521 168.67h1.0M523 168.67h1.0M527 168.67h1.0M533 168.67h1.0M535 168.67h1.0M542 168.67h1.0M545 168.67h1.0M560 168.67h1.0M565 168.67h1.0M568 168.67h1.0M576 168.67h1.0M583 179.11h1.0"/><path stroke="#fa5f11" stroke-width="10.444" shape-rendering="crispEdges" d="M243 168.67h1.0M286 168.67h1.0M290 168.67h1.0M293 168.67h1.0M305 168.67h1.0M310 168.67h1.0M315 168.67h1.0M343 168.67h1.0M403 168.67h1.0M406 168.67h1.0M412 168.67h1.0M427 168.67h1.0M453 168.67h1.0M469 168.67h2.0M474 168.67h1.0M488 168.67h1.0M543 168.67h1.0M546 168.67h1.0M583 168.67h1.0"/><path stroke="#fa5310" stroke-width="10.444" shape-rendering="crispEdges" d="M246 168.67h2.0M250 168.67h1.0M420 168.67h1.0M441 168.67h1.0M479 168.67h1.0M503 168.67h1.0M509 168.67h1.0M531 168.67h1.0"/><path stroke="#fa6411" stroke-width="10.444" shape-rendering="crispEdges" d="M251 168.67h1.0M285 168.67h1.0M345 168.67h1.0M363 168.67h1.0M371 168.67h1.0M374 168.67h1.0M383 168.67h2.0M394 168.67h1.0M432 168.67h1.0M444 168.67h1.0M473 168.67h1.0M520 168.67h1.0M528 168.67h1.0M534 168.67h1.0M536 168.67h1.0M596 168.67h1.0M598 168.67h1.0M418 179.11h1.0"/><path stroke="#fa7012" stroke-width="10.444" shape-rendering="crispEdges" d="M257 168.67h1.0M265 168.67h1.0M270 168.67h2.0M296 168.67h1.0M309 168.67h1.0M320 168.67h1.0M329 168.67h1.0M331 168.67h1.0M338 168.67h1.0M340 168.67h1.0M346 168.67h1.0M350 168.67h1.0M357 168.67h1.0M364 168.67h2.0M373 168.67h1.0M378 168.67h1.0M381 168.67h1.0M392 168.67h1.0M395 168.67h3.0M416 168.67h1.0M423 168.67h1.0M425 168.67h1.0M447 168.67h1.0M450 168.67h1.0M459 168.67h1.0M462 168.67h1.0M468 168.67h1.0M480 168.67h1.0M482 168.67h1.0M489 168.67h1.0M501 168.67h1.0M514 168.67h1.0M518 168.67h1.0M538 168.67h1.0M555 168.67h1.0M563 168.67h1.0M580 168.67h1.0M582 168.67h1.0M591 168.67h2.0M303 179.11h1.0M315 179.11h1.0M347 179.11h1.0M481 179.11h1.0M646.1 492.44h2.0"/><path stroke="#fa5910" stroke-width="10.444" shape-rendering="crispEdges" d="M273 168.67h1.0M280 168.67h1.0M325 168.67h1.0M339 168.67h1.0M370 168.67h1.0M382 168.67h1.0M422 168.67h1.0M433 168.67h1.0M435 168.67h1.0M481 168.67h1.0M529 168.67h1.0M547 168.67h1.0M557 168.67h2.0M574 168.67h1.0M578 168.67h1.0"/><path stroke="#fa480f" stroke-width="10.444" shape-rendering="crispEdges" d="M294 168.67h1.0M575 168.67h1.0"/><path stroke="#fa420e" stroke-width="10.444" shape-rendering="crispEdges" d="M541 168.67h1.0"/><path stroke="#fa4d0f" stroke-width="10.444" shape-rendering="crispEdges" d="M597 168.67h1.0"/><path stroke="#dddf26" stroke-width="10.444" shape-rendering="crispEdges" d="M552 179.11h1.0M250 189.56h1.0M261 189.56h1.0M273 189.56h1.0M279 189.56h1.0M295 189.56h1.0M302 189.56h1.0M312 189.56h1.0M316 189.56h1.0M327 189.56h1.0M331 189.56h1.0M333 189.56h1.0M342 189.56h1.0M344 189.56h1.0M361 189.56h1.0M372 189.56h1.0M377 189.56h2.0M383 189.56h1.0M387 189.56h1.0M394 189.56h1.0M401 189.56h1.0M404 189.56h1.0M413 189.56h1.0M421 189.56h1.0M430 189.56h1.0M441 189.56h1.0M453 189.56h1.0M472 189.56h1.0M488 189.56h2.0M508 189.56h1.0M510 189.56h1.0M518 189.56h1.0M533 189.56h1.0M536 189.56h1.0M540 189.56h2.0M558 189.56h1.0M569 189.56h1.0M236 200.00h1.0M245 200.00h1.0M250 200.00h1.0M258 200.00h1.0M274 200.00h1.0M282 200.00h1.0M285 200.00h1.0M293 200.00h1.0M317 200.00h1.0M327 200.00h1.0M370 200.00h1.0M376 200.00h2.0M382 200.00h1.0M384 200.00h1.0M398 200.00h1.0M407 200.00h1.0M411 200.00h1.0M418 200.00h1.0M436 200.00h1.0M441 200.00h1.0M459 200.00h1.0M469 200.00h1.0M489 200.00h1.0M492 200.00h1.0M525 200.00h1.0M541 200.00h1.0M543 200.00h1.0M562 200.00h1.0M575 200.00h1.0M582 200.00h1.0M594 200.00h1.0M244 210.44h1.0M248 210.44h1.0M269 210.44h1.0M288 210.44h1.0M292 210.44h1.0M323 210.44h1.0M327 210.44h1.0M341 210.44h1.0M351 210.44h1.0M380 210.44h1.0M387 210.44h1.0M416 210.44h1.0M421 210.44h1.0M430 210.44h1.0M452 210.44h1.0M461 210.44h1.0M472 210.44h1.0M521 210.44h1.0M547 210.44h1.0M553 210.44h1.0M566 210.44h1.0M574 210.44h1.0M587 210.44h1.0M592 210.44h1.0M596 210.44h1.0M242 220.89h2.0M245 220.89h1.0M280 220.89h1.0M283 220.89h2.0M291 220.89h1.0M303 220.89h1.0M336 220.89h1.0M341 220.89h1.0M348 220.89h2.0M361 220.89h1.0M374 220.89h1.0M383 220.89h2.0M396 220.89h1.0M411 220.89h2.0M415 220.89h1.0M427 220.89h1.0M434 220.89h1.0M459 220.89h1.0M466 220.89h1.0M468 220.89h2.0M472 220.89h1.0M477 220.89h1.0M504 220.89h1.0M522 220.89h1.0M525 220.89h1.0M535 220.89h1.0M549 220.89h1.0M567 220.89h1.0M580 220.89h1.0M587 220.89h2.0M354 231.33h1.0M461 231.33h1.0M350 252.22h1.0M352 252.22h1.0M494 252.22h1.0M503 252.22h1.0M561 252.22h1.0M620.2 273.11h1.0M608.2 283.56h1.0M620.2 283.56h1.0M630.2 367.11h1.0M646.1 200.00h1.0"/><path stroke="#ccd12c" stroke-width="10.444" shape-rendering="crispEdges" d="M237 189.56h1.0M246 189.56h1.0M257 189.56h1.0M276 189.56h1.0M299 189.56h1.0M321 189.56h1.0M328 189.56h1.0M337 189.56h1.0M341 189.56h1.0M360 189.56h1.0M363 189.56h1.0M371 189.56h1.0M410 189.56h1.0M422 189.56h1.0M424 189.56h1.0M446 189.56h1.0M450 189.56h1.0M463 189.56h1.0M466 189.56h1.0M500 189.56h1.0M520 189.56h1.0M529 189.56h1.0M546 189.56h1.0M556 189.56h1.0M598 189.56h1.0M246 200.00h1.0M259 200.00h1.0M262 200.00h2.0M289 200.00h1.0M296 200.00h1.0M309 200.00h1.0M314 200.00h1.0M320 200.00h1.0M345 200.00h1.0M351 200.00h1.0M375 200.00h1.0M378 200.00h1.0M381 200.00h1.0M394 200.00h1.0M408 200.00h1.0M412 200.00h1.0M451 200.00h1.0M454 200.00h1.0M457 200.00h1.0M465 200.00h1.0M471 200.00h1.0M487 200.00h1.0M494 200.00h1.0M501 200.00h1.0M504 200.00h1.0M528 200.00h1.0M533 200.00h1.0M536 200.00h1.0M539 200.00h1.0M544 200.00h1.0M547 200.00h2.0M551 200.00h1.0M560 200.00h1.0M568 200.00h1.0M572 200.00h1.0M579 200.00h1.0M592 200.00h1.0M597 200.00h2.0M251 210.44h1.0M257 210.44h1.0M262 210.44h2.0M275 210.44h1.0M284 210.44h1.0M297 210.44h1.0M317 210.44h1.0M342 210.44h1.0M347 210.44h1.0M357 210.44h1.0M360 210.44h1.0M368 210.44h1.0M404 210.44h1.0M415 210.44h1.0M435 210.44h1.0M443 210.44h1.0M459 210.44h1.0M489 210.44h2.0M493 210.44h1.0M495 210.44h1.0M511 210.44h1.0M522 210.44h1.0M528 210.44h1.0M540 210.44h1.0M544 210.44h1.0M571 210.44h1.0M576 210.44h1.0M588 210.44h2.0M255 220.89h1.0M265 220.89h1.0M278 220.89h1.0M286 220.89h1.0M288 220.89h2.0M304 220.89h1.0M309 220.89h1.0M322 220.89h1.0M332 220.89h1.0M363 220.89h1.0M365 220.89h1.0M378 220.89h1.0M389 220.89h1.0M399 220.89h1.0M443 220.89h1.0M457 220.89h1.0M467 220.89h1.0M478 220.89h1.0M480 220.89h1.0M485 220.89h1.0M491 220.89h2.0M501 220.89h1.0M505 220.89h1.0M510 220.89h1.0M515 220.89h2.0M531 220.89h1.0M551 220.89h1.0M553 220.89h1.0M568 220.89h1.0M592 220.89h1.0M318 231.33h1.0M420 231.33h1.0M536 231.33h1.0M598 231.33h1.0M244 252.22h1.0M296 252.22h1.0M421 252.22h2.0M424 252.22h1.0M463 252.22h2.0M535 252.22h1.0M626.2 314.89h1.0M631.2 200.00h1.0M634.1 346.22h1.0M642.8 482.00h1.2"/><path stroke="#abb537" stroke-width="10.444" shape-rendering="crispEdges" d="M238 189.56h1.0M252 189.56h1.0M262 189.56h1.0M357 189.56h1.0M442 189.56h1.0M457 189.56h1.0M577 189.56h1.0M240 200.00h1.0M252 200.00h2.0M264 200.00h1.0M269 200.00h1.0M321 200.00h1.0M335 200.00h1.0M348 200.00h1.0M359 200.00h1.0M388 200.00h1.0M425 200.00h1.0M438 200.00h1.0M507 200.00h1.0M524 200.00h1.0M537 200.00h1.0M258 210.44h1.0M271 210.44h1.0M290 210.44h1.0M299 210.44h1.0M340 210.44h1.0M369 210.44h1.0M420 210.44h1.0M434 210.44h1.0M445 210.44h1.0M457 210.44h1.0M525 210.44h2.0M552 210.44h1.0M554 210.44h1.0M249 220.89h1.0M258 220.89h1.0M260 220.89h2.0M271 220.89h1.0M300 220.89h1.0M387 220.89h1.0M406 220.89h1.0M560 220.89h1.0M249 231.33h1.0M302 231.33h1.0M308 231.33h1.0M322 231.33h1.0M339 231.33h1.0M344 231.33h1.0M357 231.33h1.0M361 231.33h1.0M363 231.33h1.0M416 231.33h1.0M433 231.33h1.0M469 231.33h1.0M497 231.33h1.0M501 231.33h1.0M503 231.33h1.0M533 231.33h1.0M537 231.33h1.0M540 231.33h2.0M543 231.33h1.0M546 231.33h1.0M548 231.33h1.0M552 231.33h1.0M588 231.33h1.0M591 231.33h2.0M344 241.78h1.0M441 241.78h1.0M584 241.78h1.0M279 252.22h1.0M314 252.22h1.0M367 252.22h1.0M409 252.22h1.0M593 252.22h1.0M339 283.56h1.0M622.2 273.11h1.0M615.2 283.56h1.0M601.2 294.00h1.0M608.2 294.00h1.0M610.2 304.44h1.0M619.2 314.89h1.0M626.2 325.33h1.0M635.1 158.22h1.0M630.2 304.44h1.0M631.2 314.89h1.0M634.1 367.11h1.0M640.5 189.56h1.1M637.3 440.22h1.1"/><path stroke="#c7cc2e" stroke-width="10.444" shape-rendering="crispEdges" d="M240 189.56h1.0M272 189.56h1.0M296 189.56h2.0M304 189.56h1.0M314 189.56h1.0M322 189.56h1.0M329 189.56h1.0M347 189.56h1.0M369 189.56h1.0M374 189.56h1.0M395 189.56h1.0M398 189.56h2.0M408 189.56h1.0M415 189.56h1.0M428 189.56h1.0M436 189.56h1.0M447 189.56h1.0M451 189.56h1.0M454 189.56h1.0M462 189.56h1.0M468 189.56h1.0M475 189.56h3.0M487 189.56h1.0M493 189.56h1.0M516 189.56h1.0M524 189.56h1.0M531 189.56h1.0M542 189.56h1.0M559 189.56h1.0M576 189.56h1.0M592 189.56h1.0M251 200.00h1.0M257 200.00h1.0M265 200.00h3.0M284 200.00h1.0M287 200.00h1.0M291 200.00h1.0M308 200.00h1.0M313 200.00h1.0M316 200.00h1.0M325 200.00h1.0M341 200.00h1.0M357 200.00h1.0M395 200.00h1.0M399 200.00h2.0M404 200.00h1.0M415 200.00h1.0M439 200.00h1.0M446 200.00h1.0M452 200.00h1.0M474 200.00h2.0M477 200.00h1.0M490 200.00h1.0M506 200.00h1.0M509 200.00h1.0M517 200.00h1.0M529 200.00h1.0M538 200.00h1.0M542 200.00h1.0M586 200.00h1.0M588 200.00h1.0M595 200.00h1.0M268 210.44h1.0M278 210.44h1.0M309 210.44h1.0M313 210.44h2.0M328 210.44h1.0M367 210.44h1.0M381 210.44h1.0M395 210.44h1.0M406 210.44h1.0M491 210.44h1.0M531 210.44h1.0M539 210.44h1.0M545 210.44h1.0M549 210.44h1.0M240 220.89h1.0M244 220.89h1.0M256 220.89h2.0M277 220.89h1.0M295 220.89h1.0M308 220.89h1.0M313 220.89h1.0M328 220.89h1.0M339 220.89h1.0M346 220.89h1.0M351 220.89h1.0M360 220.89h1.0M373 220.89h1.0M379 220.89h1.0M409 220.89h1.0M419 220.89h1.0M421 220.89h1.0M429 220.89h1.0M449 220.89h1.0M455 220.89h1.0M460 220.89h1.0M476 220.89h1.0M483 220.89h1.0M495 220.89h2.0M506 220.89h1.0M518 220.89h1.0M521 220.89h1.0M538 220.89h1.0M545 220.89h1.0M554 220.89h1.0M561 220.89h1.0M589 220.89h1.0M291 231.33h1.0M355 231.33h1.0M412 231.33h1.0M525 231.33h1.0M558 231.33h1.0M565 231.33h1.0M574 231.33h1.0M309 252.22h1.0M340 252.22h1.0M351 252.22h1.0M401 252.22h1.0M423 252.22h1.0M474 252.22h1.0M495 252.22h1.0M502 252.22h1.0M505 252.22h1.0M510 252.22h1.0M522 252.22h1.0M569 252.22h1.0M610.2 273.11h1.0M623.2 273.11h1.0M608.2 314.89h1.0M623.2 314.89h1.0M630.2 158.22h1.0M634.1 200.00h1.0M633.2 367.11h1.0M637.3 158.22h1.1M640.5 200.00h1.1M639.4 419.33h2.1M639.4 429.78h1.1"/><path stroke="#b6be33" stroke-width="10.444" shape-rendering="crispEdges" d="M241 189.56h1.0M271 189.56h1.0M326 189.56h1.0M332 189.56h1.0M335 189.56h1.0M362 189.56h1.0M391 189.56h2.0M397 189.56h1.0M405 189.56h1.0M409 189.56h1.0M417 189.56h1.0M429 189.56h1.0M484 189.56h1.0M517 189.56h1.0M522 189.56h1.0M526 189.56h1.0M537 189.56h1.0M543 189.56h2.0M553 189.56h1.0M241 200.00h1.0M256 200.00h1.0M271 200.00h1.0M276 200.00h1.0M278 200.00h1.0M292 200.00h1.0M295 200.00h1.0M307 200.00h1.0M323 200.00h1.0M380 200.00h1.0M391 200.00h1.0M396 200.00h1.0M413 200.00h1.0M420 200.00h1.0M483 200.00h1.0M513 200.00h1.0M515 200.00h1.0M518 200.00h1.0M549 200.00h2.0M574 200.00h1.0M245 210.44h1.0M252 210.44h1.0M259 210.44h1.0M289 210.44h1.0M319 210.44h1.0M358 210.44h1.0M378 210.44h1.0M386 210.44h1.0M388 210.44h1.0M464 210.44h1.0M519 210.44h1.0M269 220.89h1.0M275 220.89h1.0M321 220.89h1.0M362 220.89h1.0M380 220.89h1.0M393 220.89h1.0M402 220.89h1.0M445 220.89h1.0M471 220.89h1.0M487 220.89h1.0M490 220.89h1.0M552 220.89h1.0M569 220.89h1.0M586 220.89h1.0M237 231.33h1.0M242 231.33h1.0M273 231.33h1.0M289 231.33h1.0M309 231.33h1.0M350 231.33h1.0M384 231.33h1.0M386 231.33h1.0M406 231.33h1.0M421 231.33h2.0M431 231.33h1.0M439 231.33h1.0M452 231.33h1.0M473 231.33h1.0M492 231.33h1.0M499 231.33h1.0M554 231.33h1.0M247 252.22h1.0M312 252.22h1.0M373 252.22h1.0M395 252.22h1.0M417 252.22h1.0M472 252.22h1.0M511 252.22h1.0M532 252.22h1.0M557 252.22h1.0M560 252.22h1.0M595 252.22h1.0M610.2 283.56h1.0M612.2 283.56h1.0M614.2 283.56h1.0M621.2 294.00h1.0M602.2 304.44h1.0M608.2 304.44h1.0M620.2 304.44h1.0M626.2 304.44h1.0M614.2 314.89h1.0M633.2 356.67h1.0M640.5 429.78h1.1M647.1 523.78h1.0"/><path stroke="#d7da28" stroke-width="10.444" shape-rendering="crispEdges" d="M242 189.56h1.0M247 189.56h1.0M255 189.56h1.0M259 189.56h1.0M283 189.56h1.0M301 189.56h1.0M330 189.56h1.0M336 189.56h1.0M339 189.56h1.0M350 189.56h1.0M359 189.56h1.0M364 189.56h1.0M384 189.56h1.0M388 189.56h1.0M403 189.56h1.0M414 189.56h1.0M449 189.56h1.0M460 189.56h1.0M507 189.56h1.0M509 189.56h1.0M525 189.56h1.0M527 189.56h1.0M530 189.56h1.0M554 189.56h1.0M562 189.56h1.0M566 189.56h1.0M580 189.56h1.0M591 189.56h1.0M595 189.56h1.0M248 200.00h1.0M273 200.00h1.0M281 200.00h1.0M288 200.00h1.0M306 200.00h1.0M310 200.00h1.0M328 200.00h1.0M331 200.00h1.0M342 200.00h1.0M347 200.00h1.0M349 200.00h1.0M353 200.00h1.0M355 200.00h1.0M368 200.00h1.0M373 200.00h1.0M379 200.00h1.0M401 200.00h1.0M403 200.00h1.0M405 200.00h1.0M419 200.00h1.0M428 200.00h1.0M431 200.00h1.0M433 200.00h1.0M435 200.00h1.0M444 200.00h1.0M456 200.00h1.0M482 200.00h1.0M484 200.00h1.0M488 200.00h1.0M512 200.00h1.0M530 200.00h1.0M534 200.00h1.0M555 200.00h1.0M558 200.00h1.0M566 200.00h2.0M569 200.00h1.0M573 200.00h1.0M590 200.00h1.0M237 210.44h1.0M243 210.44h1.0M249 210.44h1.0M273 210.44h1.0M277 210.44h1.0M286 210.44h1.0M291 210.44h1.0M301 210.44h1.0M305 210.44h1.0M308 210.44h1.0M312 210.44h1.0M334 210.44h1.0M385 210.44h1.0M390 210.44h1.0M400 210.44h1.0M418 210.44h1.0M428 210.44h1.0M433 210.44h1.0M438 210.44h1.0M441 210.44h1.0M448 210.44h2.0M454 210.44h1.0M460 210.44h1.0M471 210.44h1.0M478 210.44h1.0M503 210.44h1.0M510 210.44h1.0M517 210.44h1.0M532 210.44h1.0M551 210.44h1.0M555 210.44h1.0M560 210.44h1.0M562 210.44h1.0M567 210.44h1.0M593 210.44h1.0M236 220.89h1.0M248 220.89h1.0M263 220.89h1.0M290 220.89h1.0M294 220.89h1.0M299 220.89h1.0M320 220.89h1.0M330 220.89h1.0M350 220.89h1.0M355 220.89h1.0M364 220.89h1.0M367 220.89h1.0M369 220.89h1.0M372 220.89h1.0M376 220.89h1.0M386 220.89h1.0M395 220.89h1.0M397 220.89h1.0M407 220.89h2.0M410 220.89h1.0M418 220.89h1.0M425 220.89h1.0M431 220.89h1.0M447 220.89h1.0M461 220.89h2.0M465 220.89h1.0M475 220.89h1.0M493 220.89h1.0M523 220.89h1.0M529 220.89h1.0M536 220.89h1.0M539 220.89h1.0M543 220.89h1.0M547 220.89h1.0M550 220.89h1.0M559 220.89h1.0M574 220.89h1.0M577 220.89h1.0M581 220.89h1.0M585 220.89h1.0M593 220.89h1.0M310 231.33h1.0M329 231.33h1.0M337 231.33h1.0M245 252.22h1.0M271 252.22h1.0M310 252.22h1.0M490 252.22h1.0M501 252.22h1.0M520 252.22h1.0M533 252.22h1.0M570 252.22h1.0M599 252.22h1.0M623.2 283.56h1.0M632.2 346.22h1.0M631.2 367.11h1.0M631.2 377.56h1.0M637.3 408.89h1.1M640.5 408.89h1.1"/><path stroke="#c1c730" stroke-width="10.444" shape-rendering="crispEdges" d="M243 189.56h1.0M245 189.56h1.0M256 189.56h1.0M260 189.56h1.0M269 189.56h1.0M278 189.56h1.0M281 189.56h1.0M305 189.56h1.0M317 189.56h1.0M375 189.56h1.0M389 189.56h2.0M419 189.56h1.0M432 189.56h1.0M444 189.56h1.0M474 189.56h1.0M480 189.56h1.0M490 189.56h2.0M498 189.56h1.0M506 189.56h1.0M538 189.56h1.0M545 189.56h1.0M548 189.56h1.0M563 189.56h1.0M570 189.56h1.0M573 189.56h1.0M589 189.56h1.0M244 200.00h1.0M260 200.00h1.0M275 200.00h1.0M300 200.00h2.0M312 200.00h1.0M322 200.00h1.0M360 200.00h2.0M366 200.00h1.0M374 200.00h1.0M409 200.00h1.0M421 200.00h1.0M424 200.00h1.0M434 200.00h1.0M445 200.00h1.0M450 200.00h1.0M462 200.00h2.0M472 200.00h1.0M478 200.00h1.0M500 200.00h1.0M505 200.00h1.0M510 200.00h1.0M526 200.00h1.0M532 200.00h1.0M540 200.00h1.0M545 200.00h1.0M556 200.00h1.0M563 200.00h1.0M599 200.00h1.0M238 210.44h1.0M241 210.44h1.0M266 210.44h1.0M300 210.44h1.0M338 210.44h1.0M349 210.44h1.0M359 210.44h1.0M364 210.44h1.0M410 210.44h1.0M413 210.44h1.0M427 210.44h1.0M442 210.44h1.0M455 210.44h1.0M469 210.44h1.0M485 210.44h1.0M501 210.44h1.0M508 210.44h1.0M534 210.44h2.0M557 210.44h1.0M559 210.44h1.0M570 210.44h1.0M573 210.44h1.0M580 210.44h1.0M586 210.44h1.0M247 220.89h1.0M250 220.89h2.0M262 220.89h1.0M267 220.89h1.0M282 220.89h1.0M298 220.89h1.0M314 220.89h1.0M323 220.89h1.0M340 220.89h1.0M352 220.89h1.0M357 220.89h1.0M375 220.89h1.0M385 220.89h1.0M388 220.89h1.0M446 220.89h1.0M448 220.89h1.0M464 220.89h1.0M482 220.89h1.0M499 220.89h1.0M562 220.89h2.0M570 220.89h1.0M582 220.89h1.0M294 231.33h1.0M373 231.33h1.0M441 231.33h1.0M474 231.33h1.0M494 231.33h1.0M547 231.33h1.0M549 231.33h1.0M564 231.33h1.0M270 252.22h1.0M308 252.22h1.0M342 252.22h1.0M418 252.22h1.0M451 252.22h1.0M513 252.22h1.0M534 252.22h1.0M547 252.22h1.0M615.2 168.67h1.0M613.2 273.11h1.0M628.2 283.56h1.0M612.2 294.00h1.0M623.2 304.44h1.0M602.2 314.89h1.0M624.2 314.89h1.0M631.2 356.67h1.0M634.1 356.67h1.0M635.1 367.11h1.0M635.1 377.56h1.0"/><path stroke="#b1b935" stroke-width="10.444" shape-rendering="crispEdges" d="M244 189.56h1.0M266 189.56h1.0M284 189.56h1.0M300 189.56h1.0M309 189.56h1.0M313 189.56h1.0M393 189.56h1.0M396 189.56h1.0M438 189.56h1.0M448 189.56h1.0M455 189.56h2.0M458 189.56h1.0M464 189.56h1.0M467 189.56h1.0M502 189.56h1.0M505 189.56h1.0M581 189.56h1.0M239 200.00h1.0M299 200.00h1.0M337 200.00h1.0M340 200.00h1.0M364 200.00h1.0M397 200.00h1.0M402 200.00h1.0M410 200.00h1.0M448 200.00h1.0M468 200.00h1.0M491 200.00h1.0M522 200.00h1.0M570 200.00h1.0M593 200.00h1.0M242 210.44h1.0M255 210.44h1.0M274 210.44h1.0M276 210.44h1.0M281 210.44h1.0M283 210.44h1.0M352 210.44h1.0M411 210.44h1.0M451 210.44h1.0M463 210.44h1.0M475 210.44h1.0M492 210.44h1.0M515 210.44h1.0M518 210.44h1.0M543 210.44h1.0M556 210.44h1.0M297 220.89h1.0M307 220.89h1.0M318 220.89h1.0M326 220.89h1.0M359 220.89h1.0M370 220.89h1.0M381 220.89h1.0M392 220.89h1.0M426 220.89h1.0M503 220.89h1.0M507 220.89h1.0M544 220.89h1.0M571 220.89h1.0M247 231.33h1.0M296 231.33h1.0M312 231.33h2.0M326 231.33h1.0M331 231.33h1.0M378 231.33h1.0M390 231.33h1.0M395 231.33h1.0M398 231.33h1.0M423 231.33h1.0M435 231.33h1.0M451 231.33h1.0M453 231.33h1.0M472 231.33h1.0M481 231.33h1.0M490 231.33h1.0M496 231.33h1.0M523 231.33h1.0M560 231.33h1.0M583 231.33h1.0M361 241.78h1.0M527 241.78h1.0M246 252.22h1.0M262 252.22h1.0M307 252.22h1.0M374 252.22h1.0M379 252.22h1.0M392 252.22h1.0M432 252.22h1.0M443 252.22h1.0M483 252.22h1.0M507 252.22h1.0M571 252.22h1.0M346 283.56h1.0M398 283.56h1.0M403 492.44h1.0M602.2 273.11h3.0M612.2 273.11h1.0M628.2 273.11h1.0M601.2 283.56h1.0M622.2 283.56h1.0M603.2 304.44h1.0M617.2 304.44h1.0M621.2 304.44h1.0M612.2 314.89h2.0M625.2 314.89h1.0M633.2 200.00h1.0M633.2 262.67h1.0M630.2 377.56h1.0M639.4 168.67h1.1M642.8 461.11h1.2"/><path stroke="#bcc331" stroke-width="10.444" shape-rendering="crispEdges" d="M249 189.56h1.0M263 189.56h1.0M268 189.56h1.0M287 189.56h1.0M306 189.56h1.0M318 189.56h1.0M345 189.56h1.0M356 189.56h1.0M420 189.56h1.0M434 189.56h1.0M494 189.56h1.0M504 189.56h1.0M534 189.56h2.0M539 189.56h1.0M560 189.56h1.0M567 189.56h1.0M582 189.56h1.0M249 200.00h1.0M254 200.00h2.0M277 200.00h1.0M279 200.00h1.0M283 200.00h1.0M298 200.00h1.0M326 200.00h1.0M329 200.00h1.0M332 200.00h1.0M334 200.00h1.0M344 200.00h1.0M356 200.00h1.0M369 200.00h1.0M372 200.00h1.0M443 200.00h1.0M449 200.00h1.0M455 200.00h1.0M480 200.00h2.0M485 200.00h1.0M546 200.00h1.0M557 200.00h1.0M571 200.00h1.0M581 200.00h1.0M587 200.00h1.0M265 210.44h1.0M267 210.44h1.0M287 210.44h1.0M298 210.44h1.0M304 210.44h1.0M307 210.44h1.0M316 210.44h1.0M337 210.44h1.0M375 210.44h1.0M392 210.44h1.0M467 210.44h1.0M481 210.44h1.0M500 210.44h1.0M514 210.44h1.0M516 210.44h1.0M524 210.44h1.0M548 210.44h1.0M561 210.44h1.0M568 210.44h1.0M585 210.44h1.0M594 210.44h1.0M238 220.89h1.0M253 220.89h1.0M272 220.89h1.0M276 220.89h1.0M279 220.89h1.0M312 220.89h1.0M334 220.89h1.0M342 220.89h1.0M353 220.89h1.0M368 220.89h1.0M390 220.89h1.0M416 220.89h1.0M436 220.89h1.0M454 220.89h1.0M473 220.89h2.0M484 220.89h1.0M526 220.89h1.0M533 220.89h1.0M540 220.89h1.0M566 220.89h1.0M573 220.89h1.0M599 220.89h1.0M241 231.33h1.0M243 231.33h1.0M259 231.33h1.0M282 231.33h1.0M285 231.33h1.0M304 231.33h1.0M315 231.33h1.0M323 231.33h1.0M330 231.33h1.0M367 231.33h1.0M372 231.33h1.0M382 231.33h1.0M389 231.33h1.0M392 231.33h1.0M394 231.33h1.0M397 231.33h1.0M529 231.33h1.0M531 231.33h1.0M576 231.33h2.0M579 231.33h1.0M261 252.22h1.0M403 252.22h1.0M489 252.22h1.0M521 252.22h1.0M531 252.22h1.0M548 252.22h2.0M615.2 273.11h1.0M602.2 283.56h1.0M632.2 367.11h1.0M640.5 158.22h1.1M638.3 398.44h1.1M638.3 419.33h1.1M637.3 429.78h1.1M644 461.11h1.2M646.1 523.78h1.0"/><path stroke="#d2d52a" stroke-width="10.444" shape-rendering="crispEdges" d="M253 189.56h1.0M286 189.56h1.0M303 189.56h1.0M323 189.56h1.0M351 189.56h1.0M366 189.56h1.0M380 189.56h1.0M382 189.56h1.0M400 189.56h1.0M402 189.56h1.0M412 189.56h1.0M445 189.56h1.0M459 189.56h1.0M469 189.56h2.0M473 189.56h1.0M478 189.56h1.0M483 189.56h1.0M514 189.56h1.0M523 189.56h1.0M550 189.56h2.0M564 189.56h1.0M575 189.56h1.0M585 189.56h1.0M587 189.56h1.0M593 189.56h2.0M237 200.00h2.0M302 200.00h1.0M318 200.00h2.0M338 200.00h1.0M350 200.00h1.0M358 200.00h1.0M362 200.00h1.0M383 200.00h1.0M387 200.00h1.0M414 200.00h1.0M426 200.00h1.0M447 200.00h1.0M458 200.00h1.0M464 200.00h1.0M466 200.00h1.0M476 200.00h1.0M493 200.00h1.0M497 200.00h2.0M514 200.00h1.0M516 200.00h1.0M519 200.00h1.0M523 200.00h1.0M531 200.00h1.0M535 200.00h1.0M552 200.00h2.0M564 200.00h1.0M577 200.00h2.0M584 200.00h1.0M589 200.00h1.0M596 200.00h1.0M236 210.44h1.0M256 210.44h1.0M279 210.44h1.0M310 210.44h1.0M320 210.44h1.0M332 210.44h1.0M350 210.44h1.0M379 210.44h1.0M384 210.44h1.0M405 210.44h1.0M419 210.44h1.0M423 210.44h1.0M429 210.44h1.0M450 210.44h1.0M458 210.44h1.0M487 210.44h1.0M496 210.44h3.0M507 210.44h1.0M520 210.44h1.0M536 210.44h1.0M564 210.44h1.0M582 210.44h1.0M598 210.44h2.0M239 220.89h1.0M268 220.89h1.0M270 220.89h1.0M274 220.89h1.0M285 220.89h1.0M287 220.89h1.0M296 220.89h1.0M305 220.89h1.0M316 220.89h1.0M337 220.89h1.0M343 220.89h1.0M366 220.89h1.0M371 220.89h1.0M391 220.89h1.0M404 220.89h1.0M420 220.89h1.0M432 220.89h1.0M442 220.89h1.0M451 220.89h2.0M463 220.89h1.0M479 220.89h1.0M489 220.89h1.0M508 220.89h1.0M512 220.89h1.0M534 220.89h1.0M537 220.89h1.0M556 220.89h2.0M564 220.89h1.0M576 220.89h1.0M579 220.89h1.0M528 231.33h1.0M555 231.33h1.0M557 231.33h1.0M294 252.22h2.0M375 252.22h1.0M377 252.22h1.0M393 252.22h1.0M400 252.22h1.0M415 252.22h2.0M433 252.22h1.0M504 252.22h1.0M506 252.22h1.0M536 252.22h1.0M558 252.22h1.0M562 252.22h1.0M605.2 283.56h1.0M611.2 283.56h1.0M631.2 158.22h1.0M633.2 346.22h1.0M630.2 356.67h1.0M635.1 356.67h1.0M638.3 408.89h2.1M644 482.00h1.2"/><path stroke="#a6b039" stroke-width="10.444" shape-rendering="crispEdges" d="M254 189.56h1.0M258 189.56h1.0M340 189.56h1.0M348 189.56h1.0M379 189.56h1.0M381 189.56h1.0M426 189.56h1.0M471 189.56h1.0M486 189.56h1.0M579 189.56h1.0M290 200.00h1.0M390 200.00h1.0M442 200.00h1.0M467 200.00h1.0M479 200.00h1.0M499 200.00h1.0M333 210.44h1.0M366 210.44h1.0M409 210.44h1.0M437 210.44h1.0M476 210.44h1.0M505 210.44h1.0M252 220.89h1.0M254 220.89h1.0M266 220.89h1.0M335 220.89h1.0M494 220.89h1.0M252 231.33h1.0M257 231.33h1.0M270 231.33h2.0M274 231.33h1.0M279 231.33h1.0M303 231.33h1.0M325 231.33h1.0M417 231.33h1.0M427 231.33h1.0M440 231.33h1.0M454 231.33h1.0M457 231.33h1.0M459 231.33h1.0M466 231.33h1.0M505 231.33h1.0M508 231.33h1.0M512 231.33h1.0M521 231.33h1.0M532 231.33h1.0M542 231.33h1.0M556 231.33h1.0M561 231.33h2.0M567 231.33h1.0M582 231.33h1.0M590 231.33h1.0M374 241.78h1.0M523 241.78h1.0M536 241.78h1.0M419 252.22h1.0M428 252.22h1.0M438 252.22h1.0M589 252.22h1.0M302 283.56h1.0M372 283.56h1.0M423 283.56h1.0M433 283.56h1.0M435 283.56h1.0M339 304.44h1.0M605.2 168.67h1.0M604.2 200.00h1.0M621.2 273.11h1.0M609.2 283.56h1.0M617.2 283.56h1.0M621.2 283.56h1.0M628.2 304.44h1.0M618.2 335.78h1.0M632.2 158.22h1.0M630.2 262.67h1.0M635.1 304.44h1.0M637.3 200.00h1.1M638.3 440.22h1.1M647.1 168.67h1.0"/><path stroke="#95a23f" stroke-width="10.444" shape-rendering="crispEdges" d="M288 189.56h1.0M443 189.56h1.0M254 210.44h1.0M425 210.44h1.0M281 220.89h1.0M458 220.89h1.0M277 231.33h1.0M281 231.33h1.0M307 231.33h1.0M321 231.33h1.0M328 231.33h1.0M336 231.33h1.0M340 231.33h1.0M353 231.33h1.0M381 231.33h1.0M404 231.33h1.0M409 231.33h1.0M424 231.33h1.0M448 231.33h1.0M470 231.33h1.0M491 231.33h1.0M506 231.33h1.0M553 231.33h1.0M573 231.33h1.0M285 241.78h1.0M294 241.78h1.0M324 241.78h1.0M407 241.78h1.0M422 241.78h1.0M431 241.78h1.0M472 241.78h1.0M530 241.78h1.0M533 241.78h1.0M575 241.78h2.0M597 241.78h1.0M291 252.22h1.0M311 252.22h1.0M336 252.22h1.0M353 252.22h1.0M358 252.22h1.0M385 252.22h1.0M407 252.22h1.0M412 252.22h1.0M430 252.22h1.0M439 252.22h1.0M441 252.22h1.0M450 252.22h1.0M482 252.22h1.0M508 252.22h1.0M523 252.22h2.0M529 252.22h1.0M541 252.22h1.0M546 252.22h1.0M259 262.67h1.0M285 262.67h1.0M413 262.67h1.0M421 262.67h1.0M495 262.67h1.0M508 262.67h1.0M523 262.67h1.0M528 262.67h1.0M574 262.67h1.0M291 283.56h1.0M295 283.56h1.0M333 283.56h1.0M345 283.56h1.0M354 283.56h1.0M382 283.56h1.0M386 283.56h1.0M392 283.56h1.0M427 283.56h1.0M430 283.56h1.0M439 283.56h1.0M532 283.56h1.0M548 283.56h1.0M551 283.56h1.0M554 283.56h1.0M578 283.56h1.0M489 314.89h1.0M285 429.78h1.0M492 492.44h1.0M626.2 168.67h1.0M615.2 220.89h1.0M601.2 273.11h1.0M617.2 273.11h1.0M625.2 273.11h1.0M603.2 283.56h1.0M620.2 294.00h1.0M605.2 304.44h1.0M605.2 314.89h1.0M618.2 314.89h1.0M627.2 314.89h1.0M610.2 335.78h1.0M613.2 335.78h2.0M632.2 262.67h1.0M634.1 262.67h1.0M632.2 283.56h1.0M631.2 304.44h1.0M639.4 158.22h1.1M637.3 168.67h1.1M639.4 252.22h1.1M640.5 440.22h1.1"/><path stroke="#a0ab3b" stroke-width="10.444" shape-rendering="crispEdges" d="M307 189.56h1.0M513 189.56h1.0M521 189.56h1.0M305 200.00h1.0M386 200.00h1.0M429 200.00h1.0M348 210.44h1.0M393 210.44h1.0M482 210.44h1.0M486 210.44h1.0M550 210.44h1.0M358 220.89h1.0M444 220.89h1.0M502 220.89h1.0M263 231.33h2.0M298 231.33h1.0M301 231.33h1.0M333 231.33h1.0M343 231.33h1.0M345 231.33h1.0M347 231.33h1.0M351 231.33h1.0M356 231.33h1.0M368 231.33h1.0M371 231.33h1.0M374 231.33h1.0M377 231.33h1.0M380 231.33h1.0M415 231.33h1.0M428 231.33h1.0M430 231.33h1.0M432 231.33h1.0M447 231.33h1.0M460 231.33h1.0M479 231.33h1.0M489 231.33h1.0M502 231.33h1.0M511 231.33h1.0M515 231.33h1.0M522 231.33h1.0M527 231.33h1.0M530 231.33h1.0M534 231.33h1.0M550 231.33h1.0M568 231.33h1.0M572 231.33h1.0M584 231.33h1.0M594 231.33h1.0M250 241.78h1.0M301 241.78h1.0M308 241.78h1.0M376 241.78h1.0M415 241.78h1.0M468 241.78h1.0M547 241.78h1.0M599 241.78h1.0M328 252.22h1.0M332 252.22h1.0M364 252.22h1.0M376 252.22h1.0M394 252.22h1.0M429 252.22h1.0M497 252.22h1.0M538 252.22h1.0M329 262.67h1.0M363 262.67h1.0M373 262.67h1.0M527 262.67h1.0M329 283.56h1.0M352 283.56h1.0M355 283.56h1.0M367 283.56h1.0M371 283.56h1.0M437 283.56h1.0M452 283.56h1.0M488 283.56h1.0M501 283.56h1.0M515 283.56h1.0M525 283.56h1.0M541 283.56h1.0M543 283.56h1.0M564 492.44h1.0M614.2 273.11h1.0M624.2 273.11h1.0M627.2 273.11h1.0M604.2 283.56h1.0M607.2 283.56h1.0M616.2 283.56h1.0M624.2 283.56h2.0M627.2 283.56h1.0M620.2 314.89h1.0M628.2 314.89h1.0M605.2 325.33h1.0M620.2 325.33h1.0M633.2 377.56h1.0M638.3 158.22h1.1M637.3 189.56h1.1M639.4 200.00h1.1M637.3 419.33h1.1"/><path stroke="#9ba73d" stroke-width="10.444" shape-rendering="crispEdges" d="M334 189.56h1.0M411 189.56h1.0M465 189.56h1.0M392 200.00h1.0M417 200.00h1.0M486 200.00h1.0M502 200.00h1.0M345 210.44h1.0M465 210.44h1.0M480 210.44h1.0M483 210.44h1.0M563 210.44h1.0M581 210.44h1.0M244 231.33h1.0M266 231.33h1.0M283 231.33h1.0M286 231.33h1.0M288 231.33h1.0M314 231.33h1.0M338 231.33h1.0M342 231.33h1.0M348 231.33h1.0M360 231.33h1.0M365 231.33h2.0M369 231.33h1.0M387 231.33h1.0M401 231.33h1.0M411 231.33h1.0M414 231.33h1.0M418 231.33h1.0M446 231.33h1.0M450 231.33h1.0M482 231.33h1.0M544 231.33h1.0M581 231.33h1.0M589 231.33h1.0M256 241.78h1.0M349 241.78h1.0M442 241.78h1.0M462 241.78h1.0M275 252.22h1.0M286 252.22h1.0M366 252.22h1.0M431 252.22h1.0M462 252.22h1.0M477 252.22h1.0M544 252.22h1.0M572 252.22h1.0M596 252.22h1.0M286 262.67h1.0M318 262.67h1.0M370 262.67h1.0M285 283.56h1.0M294 283.56h1.0M350 283.56h1.0M412 283.56h1.0M440 283.56h1.0M469 283.56h1.0M510 283.56h1.0M523 283.56h1.0M527 283.56h1.0M557 283.56h1.0M297 314.89h1.0M565 314.89h1.0M441 398.44h1.0M594 398.44h1.0M374 419.33h1.0M303 482.00h1.0M372 492.44h1.0M435 492.44h1.0M565 492.44h1.0M578 492.44h1.0M602.2 168.67h1.0M622.2 168.67h1.0M624.2 168.67h1.0M606.2 283.56h1.0M613.2 283.56h1.0M619.2 283.56h1.0M605.2 294.00h1.0M609.2 294.00h3.0M614.2 294.00h1.0M616.2 294.00h1.0M618.2 294.00h1.0M615.2 304.44h1.0M622.2 314.89h1.0M601.2 325.33h1.0M615.2 325.33h1.0M614.2 482.00h1.0M634.1 158.22h1.0M632.2 314.89h1.0M639.4 189.56h1.1M637.3 210.44h1.1M638.3 429.78h1.1M646.1 168.67h1.0"/><path stroke="#8f9d41" stroke-width="10.444" shape-rendering="crispEdges" d="M552 189.56h1.0M402 210.44h1.0M426 210.44h1.0M504 210.44h1.0M405 220.89h1.0M236 231.33h1.0M248 231.33h1.0M254 231.33h1.0M272 231.33h1.0M290 231.33h1.0M293 231.33h1.0M305 231.33h2.0M311 231.33h1.0M320 231.33h1.0M349 231.33h1.0M376 231.33h1.0M403 231.33h1.0M413 231.33h1.0M437 231.33h1.0M443 231.33h1.0M455 231.33h1.0M458 231.33h1.0M462 231.33h2.0M471 231.33h1.0M475 231.33h1.0M477 231.33h1.0M498 231.33h1.0M500 231.33h1.0M509 231.33h1.0M513 231.33h1.0M518 231.33h1.0M563 231.33h1.0M569 231.33h1.0M593 231.33h1.0M253 241.78h1.0M270 241.78h1.0M303 241.78h1.0M310 241.78h1.0M347 241.78h1.0M375 241.78h1.0M413 241.78h1.0M417 241.78h1.0M430 241.78h1.0M440 241.78h1.0M501 241.78h2.0M537 241.78h1.0M541 241.78h2.0M550 241.78h1.0M572 241.78h1.0M589 241.78h1.0M243 252.22h1.0M248 252.22h2.0M254 252.22h1.0M274 252.22h1.0M304 252.22h1.0M319 252.22h1.0M479 252.22h1.0M516 252.22h1.0M554 252.22h1.0M574 252.22h1.0M241 262.67h1.0M243 262.67h1.0M246 262.67h1.0M260 262.67h1.0M296 262.67h1.0M302 262.67h1.0M418 262.67h1.0M431 262.67h1.0M468 262.67h1.0M498 262.67h1.0M537 262.67h1.0M558 262.67h1.0M564 262.67h2.0M246 283.56h1.0M258 283.56h1.0M260 283.56h1.0M274 283.56h1.0M297 283.56h1.0M319 283.56h1.0M343 283.56h1.0M347 283.56h1.0M361 283.56h1.0M411 283.56h1.0M416 283.56h1.0M419 283.56h1.0M481 283.56h1.0M512 283.56h1.0M529 283.56h1.0M531 283.56h1.0M553 283.56h1.0M584 283.56h1.0M586 283.56h1.0M537 304.44h1.0M240 314.89h1.0M440 314.89h1.0M435 429.78h1.0M264 492.44h1.0M456 492.44h1.0M623.2 168.67h1.0M628.2 168.67h1.0M605.2 189.56h1.0M608.2 220.89h1.0M611.2 273.11h1.0M618.2 283.56h1.0M613.2 294.00h1.0M623.2 294.00h1.0M611.2 304.44h1.0M613.2 346.22h1.0M635.1 262.67h1.0M632.2 294.00h1.0M632.2 388.00h1.0M635.1 388.00h1.0M644 168.67h1.2M646.1 158.22h1.0M646.1 398.44h1.0"/><path stroke="#798b49" stroke-width="10.444" shape-rendering="crispEdges" d="M502 210.44h1.0M260 231.33h1.0M297 231.33h1.0M335 231.33h1.0M385 231.33h1.0M388 231.33h1.0M393 231.33h1.0M429 231.33h1.0M467 231.33h1.0M514 231.33h1.0M587 231.33h1.0M595 231.33h1.0M237 241.78h2.0M243 241.78h2.0M254 241.78h1.0M264 241.78h1.0M272 241.78h1.0M288 241.78h1.0M306 241.78h1.0M326 241.78h1.0M332 241.78h1.0M345 241.78h2.0M352 241.78h1.0M365 241.78h1.0M367 241.78h1.0M370 241.78h1.0M382 241.78h1.0M385 241.78h1.0M388 241.78h1.0M395 241.78h1.0M403 241.78h1.0M425 241.78h1.0M450 241.78h1.0M455 241.78h1.0M482 241.78h1.0M488 241.78h1.0M516 241.78h1.0M538 241.78h1.0M569 241.78h1.0M574 241.78h1.0M596 241.78h1.0M369 252.22h1.0M408 252.22h1.0M446 252.22h1.0M564 252.22h1.0M236 262.67h1.0M239 262.67h1.0M270 262.67h1.0M272 262.67h2.0M279 262.67h1.0M284 262.67h1.0M307 262.67h1.0M374 262.67h1.0M376 262.67h1.0M378 262.67h1.0M392 262.67h1.0M415 262.67h1.0M434 262.67h1.0M442 262.67h1.0M457 262.67h1.0M475 262.67h2.0M487 262.67h1.0M512 262.67h1.0M515 262.67h1.0M535 262.67h1.0M543 262.67h1.0M555 262.67h1.0M560 262.67h2.0M578 262.67h1.0M589 262.67h1.0M479 273.11h1.0M249 283.56h1.0M264 283.56h1.0M298 283.56h1.0M330 283.56h1.0M356 283.56h1.0M364 283.56h1.0M424 283.56h1.0M497 283.56h1.0M530 283.56h1.0M558 283.56h1.0M580 283.56h1.0M587 283.56h1.0M597 283.56h1.0M259 304.44h1.0M484 304.44h1.0M490 304.44h1.0M273 314.89h1.0M409 314.89h1.0M422 314.89h1.0M505 314.89h1.0M539 314.89h1.0M343 325.33h1.0M265 398.44h1.0M278 398.44h1.0M334 398.44h1.0M557 398.44h1.0M534 408.89h1.0M303 419.33h1.0M506 419.33h1.0M590 419.33h1.0M294 429.78h1.0M312 429.78h1.0M374 429.78h1.0M587 429.78h1.0M558 440.22h1.0M451 450.67h1.0M533 450.67h1.0M560 450.67h1.0M432 482.00h1.0M573 482.00h1.0M298 492.44h1.0M312 492.44h1.0M321 492.44h1.0M548 492.44h1.0M625.2 168.67h1.0M616.2 220.89h1.0M608.2 273.11h1.0M609.2 325.33h1.0M623.2 325.33h1.0M625.2 325.33h1.0M621.2 346.22h1.0M633.2 158.22h1.0M634.1 304.44h1.0M642.8 471.56h1.2"/><path stroke="#7f8f47" stroke-width="10.444" shape-rendering="crispEdges" d="M513 210.44h1.0M238 231.33h2.0M255 231.33h1.0M262 231.33h1.0M269 231.33h1.0M278 231.33h1.0M383 231.33h1.0M400 231.33h1.0M425 231.33h2.0M438 231.33h1.0M504 231.33h1.0M526 231.33h1.0M570 231.33h1.0M236 241.78h1.0M239 241.78h1.0M260 241.78h1.0M268 241.78h1.0M280 241.78h1.0M300 241.78h1.0M322 241.78h1.0M404 241.78h1.0M418 241.78h1.0M421 241.78h1.0M496 241.78h1.0M498 241.78h1.0M505 241.78h1.0M508 241.78h1.0M514 241.78h1.0M540 241.78h1.0M564 241.78h1.0M578 241.78h1.0M582 241.78h1.0M240 252.22h1.0M252 252.22h1.0M263 252.22h1.0M269 252.22h1.0M290 252.22h1.0M297 252.22h1.0M299 252.22h1.0M362 252.22h1.0M386 252.22h1.0M389 252.22h1.0M398 252.22h1.0M444 252.22h1.0M509 252.22h1.0M518 252.22h1.0M540 252.22h1.0M247 262.67h1.0M252 262.67h1.0M255 262.67h3.0M275 262.67h1.0M287 262.67h1.0M294 262.67h1.0M303 262.67h1.0M316 262.67h1.0M325 262.67h1.0M350 262.67h1.0M368 262.67h1.0M382 262.67h1.0M398 262.67h1.0M424 262.67h1.0M464 262.67h1.0M470 262.67h1.0M492 262.67h1.0M502 262.67h1.0M534 262.67h1.0M548 262.67h1.0M556 262.67h1.0M566 262.67h1.0M572 262.67h1.0M597 262.67h1.0M238 283.56h1.0M250 283.56h1.0M259 283.56h1.0M310 283.56h1.0M314 283.56h1.0M317 283.56h1.0M323 283.56h1.0M326 283.56h1.0M332 283.56h1.0M365 283.56h2.0M368 283.56h1.0M370 283.56h1.0M380 283.56h2.0M448 283.56h1.0M464 283.56h1.0M479 283.56h1.0M566 283.56h1.0M585 283.56h1.0M589 283.56h1.0M501 294.00h1.0M579 294.00h1.0M258 304.44h1.0M285 304.44h1.0M315 304.44h1.0M439 304.44h1.0M244 314.89h1.0M291 314.89h1.0M378 314.89h1.0M322 398.44h1.0M472 398.44h1.0M561 398.44h1.0M590 398.44h1.0M530 408.89h1.0M548 419.33h1.0M325 429.78h1.0M559 429.78h1.0M423 450.67h1.0M293 482.00h1.0M283 492.44h1.0M314 492.44h1.0M327 492.44h1.0M415 492.44h1.0M334 502.89h1.0M602.2 189.56h1.0M619.2 273.11h1.0M622.2 294.00h1.0M603.2 325.33h1.0M605.2 335.78h1.0M611.2 335.78h1.0M622.2 335.78h1.0M628.2 335.78h1.0M617.2 492.44h1.0M630.2 388.00h1.0M633.2 388.00h1.0M647.1 158.22h1.0"/><path stroke="#849445" stroke-width="10.444" shape-rendering="crispEdges" d="M486 220.89h1.0M513 220.89h1.0M265 231.33h1.0M268 231.33h1.0M276 231.33h1.0M324 231.33h1.0M370 231.33h1.0M405 231.33h1.0M407 231.33h2.0M442 231.33h1.0M464 231.33h1.0M510 231.33h1.0M520 231.33h1.0M524 231.33h1.0M535 231.33h1.0M538 231.33h2.0M559 231.33h1.0M571 231.33h1.0M585 231.33h1.0M266 241.78h1.0M273 241.78h1.0M276 241.78h1.0M292 241.78h1.0M298 241.78h1.0M315 241.78h1.0M325 241.78h1.0M363 241.78h1.0M379 241.78h1.0M393 241.78h1.0M439 241.78h1.0M478 241.78h1.0M503 241.78h1.0M510 241.78h1.0M546 241.78h1.0M554 241.78h1.0M562 241.78h1.0M268 252.22h1.0M282 252.22h1.0M333 252.22h1.0M360 252.22h1.0M368 252.22h1.0M396 252.22h1.0M461 252.22h1.0M465 252.22h1.0M471 252.22h1.0M539 252.22h1.0M553 252.22h1.0M567 252.22h1.0M598 252.22h1.0M250 262.67h1.0M269 262.67h1.0M288 262.67h1.0M332 262.67h1.0M339 262.67h1.0M343 262.67h1.0M347 262.67h1.0M385 262.67h1.0M391 262.67h1.0M394 262.67h1.0M397 262.67h1.0M429 262.67h1.0M440 262.67h1.0M519 262.67h1.0M544 262.67h1.0M557 262.67h1.0M562 262.67h1.0M575 262.67h3.0M580 262.67h1.0M237 283.56h1.0M245 283.56h1.0M288 283.56h1.0M306 283.56h1.0M351 283.56h1.0M353 283.56h1.0M357 283.56h1.0M375 283.56h2.0M390 283.56h1.0M395 283.56h1.0M418 283.56h1.0M472 283.56h1.0M476 283.56h1.0M535 283.56h1.0M538 283.56h1.0M540 283.56h1.0M564 283.56h1.0M579 283.56h1.0M596 283.56h1.0M277 294.00h1.0M430 304.44h1.0M494 304.44h1.0M526 304.44h1.0M345 314.89h1.0M441 314.89h1.0M451 314.89h1.0M535 314.89h1.0M274 398.44h1.0M237 429.78h1.0M430 429.78h1.0M572 429.78h1.0M576 429.78h1.0M288 482.00h1.0M319 492.44h1.0M414 492.44h1.0M567 492.44h1.0M331 523.78h1.0M339 523.78h1.0M609.2 168.67h1.0M621.2 189.56h1.0M605.2 273.11h1.0M603.2 294.00h1.0M607.2 294.00h1.0M612.2 325.33h1.0M616.2 325.33h1.0M618.2 325.33h1.0M609.2 335.78h1.0M620.2 335.78h1.0M625.2 335.78h1.0M630.2 294.00h2.0M633.2 294.00h2.0M633.2 304.44h1.0M634.1 314.89h1.0M638.3 220.89h1.1M637.3 304.44h1.1M646.1 189.56h1.0"/><path stroke="#6e814d" stroke-width="10.444" shape-rendering="crispEdges" d="M240 231.33h1.0M261 231.33h1.0M295 231.33h1.0M379 231.33h1.0M248 241.78h1.0M271 241.78h1.0M305 241.78h1.0M333 241.78h1.0M359 241.78h2.0M364 241.78h1.0M380 241.78h2.0M398 241.78h1.0M406 241.78h1.0M428 241.78h1.0M432 241.78h1.0M447 241.78h1.0M451 241.78h1.0M507 241.78h1.0M511 241.78h1.0M521 241.78h1.0M525 241.78h1.0M532 241.78h1.0M561 241.78h1.0M277 252.22h1.0M280 252.22h1.0M322 252.22h1.0M338 252.22h1.0M349 252.22h1.0M381 252.22h1.0M383 252.22h2.0M468 252.22h2.0M517 252.22h1.0M543 252.22h1.0M237 262.67h1.0M258 262.67h1.0M264 262.67h1.0M268 262.67h1.0M274 262.67h1.0M280 262.67h1.0M292 262.67h1.0M315 262.67h1.0M320 262.67h1.0M326 262.67h2.0M330 262.67h1.0M344 262.67h1.0M349 262.67h1.0M351 262.67h1.0M416 262.67h1.0M437 262.67h1.0M456 262.67h1.0M458 262.67h2.0M479 262.67h1.0M490 262.67h1.0M493 262.67h1.0M505 262.67h1.0M511 262.67h1.0M563 262.67h1.0M568 262.67h1.0M570 262.67h1.0M586 262.67h1.0M588 262.67h1.0M590 262.67h1.0M254 283.56h1.0M267 283.56h1.0M311 283.56h2.0M336 283.56h1.0M349 283.56h1.0M385 283.56h1.0M388 283.56h1.0M396 283.56h1.0M425 283.56h1.0M445 283.56h1.0M457 283.56h1.0M475 283.56h1.0M502 283.56h1.0M536 283.56h1.0M571 283.56h1.0M573 283.56h1.0M284 294.00h1.0M393 304.44h1.0M559 304.44h1.0M592 304.44h1.0M302 314.89h1.0M396 314.89h1.0M400 398.44h1.0M568 408.89h1.0M497 419.33h1.0M342 429.78h1.0M544 429.78h1.0M436 492.44h1.0M512 492.44h1.0M314 502.89h1.0M500 502.89h1.0M617.2 168.67h1.0M609.2 200.00h1.0M627.2 304.44h1.0M635.1 294.00h1.0M638.3 210.44h1.1M642.8 158.22h1.2"/><path stroke="#8a9943" stroke-width="10.444" shape-rendering="crispEdges" d="M245 231.33h1.0M300 231.33h1.0M317 231.33h1.0M327 231.33h1.0M334 231.33h1.0M341 231.33h1.0M346 231.33h1.0M352 231.33h1.0M358 231.33h1.0M362 231.33h1.0M364 231.33h1.0M375 231.33h1.0M391 231.33h1.0M410 231.33h1.0M436 231.33h1.0M476 231.33h1.0M478 231.33h1.0M483 231.33h2.0M487 231.33h2.0M493 231.33h1.0M495 231.33h1.0M507 231.33h1.0M566 231.33h1.0M580 231.33h1.0M586 231.33h1.0M597 231.33h1.0M247 241.78h1.0M263 241.78h1.0M282 241.78h1.0M302 241.78h1.0M311 241.78h1.0M383 241.78h1.0M434 241.78h1.0M469 241.78h1.0M528 241.78h1.0M555 241.78h1.0M558 241.78h2.0M579 241.78h1.0M590 241.78h1.0M595 241.78h1.0M251 252.22h1.0M272 252.22h1.0M289 252.22h1.0M293 252.22h1.0M300 252.22h1.0M334 252.22h1.0M365 252.22h1.0M449 252.22h1.0M460 252.22h1.0M478 252.22h1.0M485 252.22h1.0M487 252.22h1.0M530 252.22h1.0M566 252.22h1.0M590 252.22h1.0M277 262.67h1.0M283 262.67h1.0M312 262.67h1.0M346 262.67h1.0M355 262.67h1.0M361 262.67h1.0M367 262.67h1.0M371 262.67h2.0M427 262.67h1.0M438 262.67h2.0M444 262.67h1.0M466 262.67h1.0M499 262.67h1.0M501 262.67h1.0M529 262.67h1.0M541 262.67h1.0M567 262.67h1.0M583 262.67h1.0M585 262.67h1.0M236 283.56h1.0M268 283.56h1.0M276 283.56h1.0M282 283.56h1.0M324 283.56h1.0M344 283.56h1.0M415 283.56h1.0M429 283.56h1.0M434 283.56h1.0M441 283.56h1.0M444 283.56h1.0M471 283.56h1.0M473 283.56h2.0M491 283.56h1.0M511 283.56h1.0M556 283.56h1.0M562 283.56h1.0M567 283.56h1.0M576 283.56h1.0M379 294.00h1.0M309 304.44h1.0M446 314.89h1.0M503 314.89h1.0M488 335.78h1.0M551 335.78h1.0M465 346.22h1.0M260 398.44h1.0M398 398.44h1.0M530 398.44h1.0M584 398.44h1.0M561 419.33h1.0M536 429.78h1.0M599 429.78h1.0M388 440.22h1.0M418 440.22h1.0M243 492.44h1.0M290 492.44h1.0M324 492.44h1.0M384 492.44h1.0M515 492.44h1.0M291 502.89h1.0M565 502.89h1.0M253 523.78h1.0M610.2 168.67h1.0M613.2 189.56h1.0M614.2 304.44h1.0M625.2 304.44h1.0M606.2 314.89h1.0M613.2 325.33h1.0M608.2 346.22h1.0M632.2 304.44h1.0M630.2 314.89h1.0M633.2 314.89h1.0M632.2 377.56h1.0M631.2 388.00h1.0M642.8 168.67h1.2M647.1 398.44h1.0"/><path stroke="#4d6558" stroke-width="10.444" shape-rendering="crispEdges" d="M256 231.33h1.0M332 231.33h1.0M297 241.78h1.0M321 241.78h1.0M362 241.78h1.0M373 241.78h1.0M464 241.78h1.0M526 241.78h1.0M545 241.78h1.0M585 241.78h1.0M335 262.67h1.0M362 262.67h1.0M411 262.67h1.0M486 262.67h1.0M552 262.67h1.0M304 314.89h1.0M375 314.89h1.0M486 314.89h1.0M332 492.44h1.0M625.2 179.11h1.0"/><path stroke="#697d4e" stroke-width="10.444" shape-rendering="crispEdges" d="M258 231.33h1.0M292 231.33h1.0M402 231.33h1.0M419 231.33h1.0M434 231.33h1.0M445 231.33h1.0M480 231.33h1.0M516 231.33h1.0M519 231.33h1.0M545 231.33h1.0M275 241.78h1.0M279 241.78h1.0M319 241.78h1.0M327 241.78h1.0M338 241.78h1.0M342 241.78h1.0M356 241.78h1.0M368 241.78h1.0M378 241.78h1.0M402 241.78h1.0M424 241.78h1.0M435 241.78h2.0M446 241.78h1.0M453 241.78h1.0M456 241.78h1.0M474 241.78h2.0M479 241.78h1.0M481 241.78h1.0M518 241.78h1.0M548 241.78h1.0M568 241.78h1.0M571 241.78h1.0M281 252.22h1.0M298 252.22h1.0M346 252.22h1.0M476 252.22h1.0M575 252.22h1.0M238 262.67h1.0M248 262.67h2.0M251 262.67h1.0M261 262.67h1.0M305 262.67h1.0M314 262.67h1.0M342 262.67h1.0M356 262.67h1.0M366 262.67h1.0M389 262.67h1.0M400 262.67h1.0M404 262.67h1.0M433 262.67h1.0M449 262.67h1.0M489 262.67h1.0M494 262.67h1.0M517 262.67h1.0M522 262.67h1.0M530 262.67h1.0M598 262.67h1.0M239 273.11h1.0M287 273.11h1.0M343 273.11h1.0M248 283.56h1.0M334 283.56h1.0M362 283.56h1.0M400 283.56h1.0M410 283.56h1.0M417 283.56h1.0M449 283.56h1.0M454 283.56h1.0M465 283.56h1.0M503 283.56h1.0M411 294.00h1.0M543 304.44h1.0M370 314.89h1.0M476 314.89h1.0M570 314.89h1.0M527 325.33h1.0M271 398.44h1.0M308 398.44h1.0M409 398.44h1.0M510 398.44h1.0M281 419.33h1.0M292 429.78h1.0M332 429.78h1.0M364 429.78h1.0M413 429.78h1.0M451 429.78h1.0M491 429.78h1.0M462 450.67h1.0M409 482.00h1.0M308 492.44h1.0M473 492.44h2.0M245 502.89h1.0M453 502.89h1.0M475 523.78h1.0M611.2 168.67h1.0M602.2 294.00h1.0M619.2 294.00h1.0M625.2 294.00h1.0M612.2 335.78h1.0M607.2 346.22h1.0M647.1 189.56h1.0"/><path stroke="#74864b" stroke-width="10.444" shape-rendering="crispEdges" d="M267 231.33h1.0M275 231.33h1.0M284 231.33h1.0M299 231.33h1.0M319 231.33h1.0M449 231.33h1.0M468 231.33h1.0M517 231.33h1.0M596 231.33h1.0M599 231.33h1.0M246 241.78h1.0M265 241.78h1.0M277 241.78h1.0M312 241.78h1.0M329 241.78h1.0M339 241.78h1.0M384 241.78h1.0M396 241.78h1.0M399 241.78h1.0M408 241.78h1.0M410 241.78h1.0M412 241.78h1.0M420 241.78h1.0M463 241.78h1.0M470 241.78h1.0M473 241.78h1.0M497 241.78h1.0M520 241.78h1.0M543 241.78h1.0M588 241.78h1.0M241 252.22h1.0M329 252.22h1.0M388 252.22h1.0M480 252.22h1.0M591 252.22h1.0M266 262.67h1.0M282 262.67h1.0M289 262.67h1.0M293 262.67h1.0M308 262.67h1.0M310 262.67h1.0M319 262.67h1.0M336 262.67h1.0M338 262.67h1.0M353 262.67h1.0M390 262.67h1.0M409 262.67h1.0M432 262.67h1.0M443 262.67h1.0M448 262.67h1.0M450 262.67h1.0M482 262.67h1.0M496 262.67h1.0M521 262.67h1.0M526 262.67h1.0M549 262.67h1.0M571 262.67h1.0M587 262.67h1.0M592 262.67h1.0M314 273.11h1.0M239 283.56h1.0M244 283.56h1.0M252 283.56h1.0M255 283.56h1.0M278 283.56h1.0M296 283.56h1.0M337 283.56h1.0M377 283.56h1.0M406 283.56h1.0M420 283.56h1.0M443 283.56h1.0M492 283.56h1.0M507 283.56h1.0M522 283.56h1.0M542 283.56h1.0M563 283.56h1.0M595 283.56h1.0M371 294.00h1.0M485 304.44h1.0M519 304.44h1.0M401 314.89h1.0M420 314.89h1.0M474 314.89h1.0M525 314.89h1.0M328 398.44h1.0M367 398.44h1.0M473 398.44h1.0M519 398.44h1.0M528 398.44h1.0M548 398.44h1.0M335 419.33h1.0M348 419.33h1.0M277 429.78h1.0M338 429.78h1.0M436 429.78h1.0M545 429.78h1.0M567 429.78h1.0M553 440.22h1.0M557 440.22h1.0M543 450.67h1.0M452 482.00h1.0M406 492.44h1.0M576 492.44h1.0M579 492.44h1.0M616.2 179.11h1.0M601.2 189.56h1.0M618.2 220.89h1.0M617.2 294.00h1.0M626.2 294.00h1.0M610.2 325.33h2.0M628.2 325.33h1.0M607.2 335.78h1.0M619.2 335.78h1.0M626.2 346.22h1.0M614.2 356.67h1.0M634.1 377.56h1.0M640.5 179.11h1.1M637.3 294.00h1.1"/><path stroke="#536a56" stroke-width="10.444" shape-rendering="crispEdges" d="M316 231.33h1.0M249 241.78h1.0M262 241.78h1.0M337 241.78h1.0M348 241.78h1.0M350 241.78h1.0M355 241.78h1.0M414 241.78h1.0M438 241.78h1.0M477 241.78h1.0M539 241.78h1.0M573 241.78h1.0M359 262.67h1.0M364 262.67h1.0M445 262.67h1.0M513 262.67h1.0M518 262.67h1.0M256 283.56h1.0M262 283.56h1.0M513 283.56h1.0M476 294.00h1.0M587 440.22h1.0M507 492.44h1.0M606.2 325.33h1.0M627.2 325.33h1.0M616.2 335.78h1.0"/><path stroke="#5e7352" stroke-width="10.444" shape-rendering="crispEdges" d="M359 231.33h1.0M241 241.78h1.0M252 241.78h1.0M257 241.78h2.0M267 241.78h1.0M274 241.78h1.0M281 241.78h1.0M284 241.78h1.0M296 241.78h1.0M304 241.78h1.0M328 241.78h1.0M334 241.78h1.0M392 241.78h1.0M401 241.78h1.0M416 241.78h1.0M429 241.78h1.0M458 241.78h1.0M486 241.78h1.0M494 241.78h1.0M504 241.78h1.0M512 241.78h1.0M544 241.78h1.0M556 241.78h1.0M566 241.78h2.0M570 241.78h1.0M581 241.78h1.0M354 252.22h1.0M414 252.22h1.0M527 252.22h1.0M254 262.67h1.0M278 262.67h1.0M290 262.67h1.0M297 262.67h1.0M313 262.67h1.0M341 262.67h1.0M348 262.67h1.0M377 262.67h1.0M380 262.67h1.0M419 262.67h1.0M426 262.67h1.0M441 262.67h1.0M454 262.67h1.0M500 262.67h1.0M539 262.67h1.0M404 283.56h1.0M534 283.56h1.0M448 304.44h1.0M456 304.44h1.0M241 492.44h1.0M489 492.44h1.0M589 492.44h1.0M640.5 294.00h1.1M644 158.22h1.2"/><path stroke="#586f54" stroke-width="10.444" shape-rendering="crispEdges" d="M396 231.33h1.0M486 231.33h1.0M261 241.78h1.0M289 241.78h1.0M316 241.78h1.0M343 241.78h1.0M353 241.78h1.0M394 241.78h1.0M397 241.78h1.0M400 241.78h1.0M459 241.78h1.0M467 241.78h1.0M480 241.78h1.0M493 241.78h1.0M517 241.78h1.0M519 241.78h1.0M552 241.78h2.0M557 241.78h1.0M594 241.78h1.0M359 252.22h1.0M488 252.22h1.0M262 262.67h1.0M295 262.67h1.0M300 262.67h1.0M304 262.67h1.0M323 262.67h1.0M381 262.67h1.0M384 262.67h1.0M420 262.67h1.0M469 262.67h1.0M484 262.67h1.0M582 262.67h1.0M253 283.56h1.0M451 283.56h1.0M485 283.56h1.0M526 283.56h1.0M559 294.00h1.0M556 314.89h1.0M458 335.78h1.0M297 398.44h1.0M395 429.78h1.0M500 429.78h1.0M245 440.22h1.0M335 492.44h1.0M485 492.44h1.0M458 502.89h1.0M506 502.89h1.0M627.2 294.00h1.0M616.2 304.44h1.0M621.2 335.78h1.0"/><path stroke="#48615a" stroke-width="10.444" shape-rendering="crispEdges" d="M255 241.78h1.0M278 241.78h1.0M309 241.78h1.0M351 241.78h1.0M457 241.78h1.0M563 241.78h1.0M399 262.67h1.0M281 283.56h1.0M458 283.56h1.0M249 492.44h1.0M366 492.44h1.0"/><path stroke="#637850" stroke-width="10.444" shape-rendering="crispEdges" d="M269 241.78h1.0M291 241.78h1.0M293 241.78h1.0M295 241.78h1.0M323 241.78h1.0M366 241.78h1.0M390 241.78h1.0M405 241.78h1.0M411 241.78h1.0M433 241.78h1.0M476 241.78h1.0M487 241.78h1.0M560 241.78h1.0M591 241.78h1.0M456 252.22h1.0M245 262.67h1.0M265 262.67h1.0M281 262.67h1.0M334 262.67h1.0M369 262.67h1.0M395 262.67h1.0M478 262.67h1.0M550 262.67h1.0M595 262.67h1.0M277 283.56h1.0M409 283.56h1.0M483 283.56h1.0M559 283.56h1.0M588 283.56h1.0M590 283.56h1.0M340 294.00h1.0M567 294.00h1.0M252 304.44h1.0M397 304.44h1.0M301 314.89h1.0M593 398.44h1.0M357 429.78h1.0M434 429.78h1.0M448 429.78h1.0M245 492.44h1.0M621.2 168.67h1.0M627.2 168.67h1.0M604.2 294.00h1.0M607.2 325.33h1.0M606.2 346.22h1.0M639.4 179.11h1.1"/><path stroke="#6a8080" stroke-opacity="0.25" stroke-width="0.6" d="M236 163.44H648.1M236 173.89H648.1M236 184.33H648.1M236 194.78H648.1M236 205.22H648.1M236 215.67H648.1M236 226.11H648.1M236 236.56H648.1M236 247.00H648.1M236 257.44H648.1M236 267.89H648.1M236 278.33H648.1M236 288.78H648.1M236 299.22H648.1M236 309.67H648.1M236 320.11H648.1M236 330.56H648.1M236 341.00H648.1M236 351.44H648.1M236 361.89H648.1M236 372.33H648.1M236 382.78H648.1M236 393.22H648.1M236 403.67H648.1M236 414.11H648.1M236 424.56H648.1M236 435.00H648.1M236 445.44H648.1M236 455.89H648.1M236 466.33H648.1M236 476.78H648.1M236 487.22H648.1M236 497.67H648.1M236 508.11H648.1M236 518.56H648.1"/><rect x="641.5" y="153.0" width="1.3" height="376.0" fill="#dcd6d0"/><rect x="236.0" y="143" width="364.00" height="8" fill="#f8766d"/><rect x="601.4" y="143" width="27.70" height="8" fill="#b79f00"/><rect x="630.1" y="143" width="5.90" height="8" fill="#00ba38"/><rect x="637.6" y="143" width="3.80" height="8" fill="#00bfc4"/><rect x="642.9" y="143" width="2.10" height="8" fill="#619cff"/><rect x="646.1" y="143" width="2.00" height="8" fill="#f564e3"/><text transform="translate(652.3,161.84) scale(0.95,1)" font-family='"Liberation Sans", sans-serif' font-style="italic" font-size="9.7" fill="#000">Atp1b2</text><text transform="translate(652.3,172.29) scale(0.95,1)" font-family='"Liberation Sans", sans-serif' font-style="italic" font-size="9.7" fill="#000">Slc1a3</text><text transform="translate(652.3,182.73) scale(0.95,1)" font-family='"Liberation Sans", sans-serif' font-style="italic" font-size="9.7" fill="#000">Slc1a2</text><text transform="translate(652.3,193.18) scale(0.95,1)" font-family='"Liberation Sans", sans-serif' font-style="italic" font-size="9.7" fill="#000">Gjb6</text><text transform="translate(652.3,203.62) scale(0.95,1)" font-family='"Liberation Sans", sans-serif' font-style="italic" font-size="9.7" fill="#000">Glul</text><text transform="translate(652.3,214.07) scale(0.95,1)" font-family='"Liberation Sans", sans-serif' font-style="italic" font-size="9.7" fill="#000">Aqp4</text><text transform="translate(652.3,224.51) scale(0.95,1)" font-family='"Liberation Sans", sans-serif' font-style="italic" font-size="9.7" fill="#000">Fgfr3</text><text transform="translate(652.3,234.96) scale(0.95,1)" font-family='"Liberation Sans", sans-serif' font-style="italic" font-size="9.7" fill="#000">Aldh1l1</text><text transform="translate(652.3,245.40) scale(0.95,1)" font-family='"Liberation Sans", sans-serif' font-style="italic" font-size="9.7" fill="#000">S100b</text><text transform="translate(652.3,255.84) scale(0.95,1)" font-family='"Liberation Sans", sans-serif' font-style="italic" font-size="9.7" fill="#000">Gfap</text><text transform="translate(652.3,266.29) scale(0.95,1)" font-family='"Liberation Sans", sans-serif' font-style="italic" font-size="9.7" fill="#000">Pdgfrb</text><text transform="translate(652.3,276.73) scale(0.95,1)" font-family='"Liberation Sans", sans-serif' font-style="italic" font-size="9.7" fill="#000">Cspg4</text><text transform="translate(652.3,287.18) scale(0.95,1)" font-family='"Liberation Sans", sans-serif' font-style="italic" font-size="9.7" fill="#000">Pld1</text><text transform="translate(652.3,297.62) scale(0.95,1)" font-family='"Liberation Sans", sans-serif' font-style="italic" font-size="9.7" fill="#000">Des</text><text transform="translate(652.3,308.07) scale(0.95,1)" font-family='"Liberation Sans", sans-serif' font-style="italic" font-size="9.7" fill="#000">Plce1</text><text transform="translate(652.3,318.51) scale(0.95,1)" font-family='"Liberation Sans", sans-serif' font-style="italic" font-size="9.7" fill="#000">Col1a2</text><text transform="translate(652.3,328.96) scale(0.95,1)" font-family='"Liberation Sans", sans-serif' font-style="italic" font-size="9.7" fill="#000">Itga8</text><text transform="translate(652.3,339.40) scale(0.95,1)" font-family='"Liberation Sans", sans-serif' font-style="italic" font-size="9.7" fill="#000">Flt1</text><text transform="translate(652.3,349.84) scale(0.95,1)" font-family='"Liberation Sans", sans-serif' font-style="italic" font-size="9.7" fill="#000">Cd34</text><text transform="translate(652.3,360.29) scale(0.95,1)" font-family='"Liberation Sans", sans-serif' font-style="italic" font-size="9.7" fill="#000">Pecam1</text><text transform="translate(652.3,370.73) scale(0.95,1)" font-family='"Liberation Sans", sans-serif' font-style="italic" font-size="9.7" fill="#000">Icam2</text><text transform="translate(652.3,381.18) scale(0.95,1)" font-family='"Liberation Sans", sans-serif' font-style="italic" font-size="9.7" fill="#000">Tie1</text><text transform="translate(652.3,391.62) scale(0.95,1)" font-family='"Liberation Sans", sans-serif' font-style="italic" font-size="9.7" fill="#000">Cdh5</text><text transform="translate(652.3,402.07) scale(0.95,1)" font-family='"Liberation Sans", sans-serif' font-style="italic" font-size="9.7" fill="#000">Snap25</text><text transform="translate(652.3,412.51) scale(0.95,1)" font-family='"Liberation Sans", sans-serif' font-style="italic" font-size="9.7" fill="#000">Celf4</text><text transform="translate(652.3,422.96) scale(0.95,1)" font-family='"Liberation Sans", sans-serif' font-style="italic" font-size="9.7" fill="#000">Syt1</text><text transform="translate(652.3,433.40) scale(0.95,1)" font-family='"Liberation Sans", sans-serif' font-style="italic" font-size="9.7" fill="#000">Syp</text><text transform="translate(652.3,443.84) scale(0.95,1)" font-family='"Liberation Sans", sans-serif' font-style="italic" font-size="9.7" fill="#000">L1cam</text><text transform="translate(652.3,454.29) scale(0.95,1)" font-family='"Liberation Sans", sans-serif' font-style="italic" font-size="9.7" fill="#000">Cx3cr1</text><text transform="translate(652.3,464.73) scale(0.95,1)" font-family='"Liberation Sans", sans-serif' font-style="italic" font-size="9.7" fill="#000">Aif1</text><text transform="translate(652.3,475.18) scale(0.95,1)" font-family='"Liberation Sans", sans-serif' font-style="italic" font-size="9.7" fill="#000">Itgam</text><text transform="translate(652.3,485.62) scale(0.95,1)" font-family='"Liberation Sans", sans-serif' font-style="italic" font-size="9.7" fill="#000">Cd68</text><text transform="translate(652.3,496.07) scale(0.95,1)" font-family='"Liberation Sans", sans-serif' font-style="italic" font-size="9.7" fill="#000">Mbp</text><text transform="translate(652.3,506.51) scale(0.95,1)" font-family='"Liberation Sans", sans-serif' font-style="italic" font-size="9.7" fill="#000">Mog</text><text transform="translate(652.3,516.96) scale(0.95,1)" font-family='"Liberation Sans", sans-serif' font-style="italic" font-size="9.7" fill="#000">Mag</text><text transform="translate(652.3,527.40) scale(0.95,1)" font-family='"Liberation Sans", sans-serif' font-style="italic" font-size="9.7" fill="#000">Sox10</text><defs><linearGradient id="cb" x1="0" x2="1" y1="0" y2="0"><stop offset="0" stop-color="#6a7570"/><stop offset="0.25" stop-color="#9ea45e"/><stop offset="0.51" stop-color="#f8f86a"/><stop offset="0.7" stop-color="#ffb462"/><stop offset="0.86" stop-color="#ff7a62"/><stop offset="1" stop-color="#ff5a5a"/></linearGradient></defs><rect x="576.5" y="533.1" width="70.5" height="9" fill="url(#cb)"/><line x1="587.5" x2="587.5" y1="543" y2="546" stroke="#333" stroke-width="0.6"/><text x="587.5" y="557.3" text-anchor="middle" font-family='"Liberation Sans", sans-serif' font-size="10.5" fill="#000">1</text><line x1="600.5" x2="600.5" y1="543" y2="546" stroke="#333" stroke-width="0.6"/><text x="600.5" y="557.3" text-anchor="middle" font-family='"Liberation Sans", sans-serif' font-size="10.5" fill="#000">2</text><line x1="613.4" x2="613.4" y1="543" y2="546" stroke="#333" stroke-width="0.6"/><text x="613.4" y="557.3" text-anchor="middle" font-family='"Liberation Sans", sans-serif' font-size="10.5" fill="#000">3</text><line x1="626.5" x2="626.5" y1="543" y2="546" stroke="#333" stroke-width="0.6"/><text x="626.5" y="557.3" text-anchor="middle" font-family='"Liberation Sans", sans-serif' font-size="10.5" fill="#000">4</text><line x1="639.3" x2="639.3" y1="543" y2="546" stroke="#333" stroke-width="0.6"/><text x="639.3" y="557.3" text-anchor="middle" font-family='"Liberation Sans", sans-serif' font-size="10.5" fill="#000">5</text><defs>
<radialGradient id="cxg" cx="0.45" cy="0.4" r="0.72"><stop offset="0" stop-color="#e8e4b4"/><stop offset="0.5" stop-color="#e0dba8"/><stop offset="0.8" stop-color="#d4cf9a"/><stop offset="1" stop-color="#beb880"/></radialGradient>
<linearGradient id="gyg" x1="0" y1="0" x2="1" y2="1"><stop offset="0" stop-color="#bac6cc"/><stop offset="1" stop-color="#a0acb3"/></linearGradient>
<radialGradient id="hpg" cx="0.6" cy="0.45" r="0.7"><stop offset="0" stop-color="#74dcc0"/><stop offset="0.7" stop-color="#66d2b2"/><stop offset="1" stop-color="#5cc2a0"/></radialGradient>
<linearGradient id="scr" x1="0" x2="1"><stop offset="0" stop-color="#3a98f8"/><stop offset="1" stop-color="#8ae0e2"/></linearGradient>
<linearGradient id="cab" x1="0" x2="1"><stop offset="0" stop-color="#8a8a8a"/><stop offset="0.5" stop-color="#c8c8c8"/><stop offset="1" stop-color="#ececec"/></linearGradient>
<linearGradient id="lowt" x1="0" x2="1"><stop offset="0" stop-color="#a8a8a8"/><stop offset="1" stop-color="#d8d8d8"/></linearGradient>
<linearGradient id="lowd" x1="0" x2="1"><stop offset="0" stop-color="#141414"/><stop offset="1" stop-color="#6a6a6a"/></linearGradient>
<radialGradient id="slot" cx="0.5" cy="0.5" r="0.5"><stop offset="0" stop-color="#40d0e8"/><stop offset="0.6" stop-color="#107080"/><stop offset="1" stop-color="#000"/></radialGradient>
<radialGradient id="redg" cx="0.05" cy="0.5" r="0.95"><stop offset="0" stop-color="#ff4058" stop-opacity="0.95"/><stop offset="0.5" stop-color="#ff8090" stop-opacity="0.5"/><stop offset="1" stop-color="#ffa0b0" stop-opacity="0"/></radialGradient><filter id="bl1" x="-20%" y="-50%" width="140%" height="200%"><feGaussianBlur stdDeviation="1.2"/></filter>
<radialGradient id="ell" cx="0.5" cy="0.5" r="0.5"><stop offset="0" stop-color="#ffd0d0"/><stop offset="0.7" stop-color="#f06070"/><stop offset="1" stop-color="#c04050"/></radialGradient>
<radialGradient id="neu" cx="0.42" cy="0.55" r="0.5"><stop offset="0" stop-color="#d0ecff"/><stop offset="0.3" stop-color="#92bcfa"/><stop offset="0.7" stop-color="#74a4f6"/><stop offset="1" stop-color="#6c9ef4"/></radialGradient>
<radialGradient id="redc" cx="0.5" cy="0.5" r="0.5"><stop offset="0" stop-color="#ffb090"/><stop offset="0.6" stop-color="#f67a70"/><stop offset="1" stop-color="#f46666"/></radialGradient>
</defs>
<!-- brain -->
<path d="M26.1,37.8 C28.5,35 31,33.8 33.5,33.8 C36.5,33.8 38.5,34.4 40.2,35.1 C42.5,36 44,37.2 45,38.5 C46.5,41 47,43.5 47.8,45.5 C49,48.5 51,53.3 51,53.3 C53,57 56.4,61.4 56.4,61.4 L61.8,68.2 C63.2,70 64.5,73.6 64.5,73.6 C64.8,75.5 64.2,77.5 63.2,78.3 C60,78.2 57.5,78 55.1,77.6 C52,77 49.5,76 47,75.6 C43,75 39.5,75.3 36.2,74.9 C32,74 29.5,71.8 28.1,69.5 C26.5,66.5 26.3,63.5 26.1,60.1 C25.6,55 25.2,50 25.4,45.2 C25.5,42 25.6,39.5 26.1,37.8 Z" fill="url(#gyg)"/>
<path d="M27,52 C28,58 29,63 31,66" stroke="#c2ced4" stroke-width="2" fill="none" opacity="0.6"/>
<path d="M65.9,79 L71.3,77.6 C74,78.8 77,80.2 79.4,81.7 C83,84.5 87,87.5 90.2,89.8 C89.6,91 88.6,92 87.5,92.5 C84,92.3 81,91.8 78,91.1 C74.5,89.6 71,87.8 68.6,85.7 C66.8,84.3 65.5,82.8 65.2,81.7 Z" fill="#aab6bd"/>
<path d="M144.4,18.9 C148,17.5 152,16.5 155.7,16.5 C160,16.6 164,17.3 167,18.9 C171,21.5 174,25.5 175.2,29.4 C176.6,33.5 177.3,38 177.6,42.4 C178.2,48 178.5,53 178.4,58.5 C178.3,64 178,69.5 177.6,74.7 C177.3,79 177.3,82.5 176.8,86 C175.2,89.5 173,91.5 170.3,92.5 C167,93.8 164,94.2 160.6,94.1 C156.5,93.6 152.5,92.3 149.3,90.9 C146.5,89.8 144,88.6 141.2,87.7 C139,87.1 136.8,86.5 134.7,86 C132,85.4 129.5,84.6 127.4,83.6 L131.5,81.2 C134.5,78 137.5,74.5 139.6,71.5 C141.5,67 143,62.5 143.6,58.5 C144.3,53 144.5,47.5 144.4,42.4 C144.4,34 144.3,26 144.4,18.9 Z" fill="url(#gyg)"/>
<path d="M150,30 C154,24 166,24 171,32 C175,40 175,52 172,58 C168,63 158,63 153,58 C148,52 147,38 150,30 Z" fill="#bcc8ce" opacity="0.55"/>
<path d="M146,62 C150,57 158,58 161,64 C164,71 163,80 160,84 C156,88 149,86 146.5,82 C144,76 143.5,67 146,62 Z" fill="#b2bec5" stroke="#94a0a8" stroke-width="0.7" opacity="0.9"/>
<path d="M148,62 C155,66 166,66 176,60" stroke="#8e9aa2" stroke-width="0.8" fill="none" opacity="0.7"/>
<path d="M46.4,35.3 C46.8,33.5 47.2,32 48,30.5 C50.5,27 53,24.5 56,22.5 C61,19.5 66.5,17.6 72.1,16 C77.5,14.2 83,12.6 88.2,11.2 C93.5,9.6 99,8.2 104.2,7.2 C108.5,6.5 113,6.1 117.1,6.1 C121.5,6.1 126,6.4 130,7.2 C133.5,8.2 136,9.6 138,11.2 C140,13 141.3,14.5 142,16 C142.8,18.5 143,21.5 143.2,24.1 C143.7,32 144,40 143.9,48.2 C143.6,55 142.8,61 141.6,66.6 C140,71 138,74.5 135.5,77.3 C132.5,80.5 129.5,82.8 126.3,85 C122.8,87 119.3,88.4 115.6,89.5 C111.5,90.8 107.5,92 103.3,93.3 C100,93.7 97,93.5 95,92.5 C92,91.2 89.8,89.8 87.5,88.4 C84,86.2 80.3,84 76.7,81.7 C73.5,80 70.8,78.8 68.6,77.6 C67.6,76 66.8,74 65.9,72.2 C64,69.5 62.3,66.8 60.5,64.1 C58.7,61.5 56.8,58.8 55,56 C53,52.8 50.8,49.8 49,46.6 C48,44.5 47.4,42 47,39.8 C46.7,38.3 46.5,36.8 46.4,35.3 Z" fill="url(#cxg)" stroke="#fff" stroke-width="1.1"/>
<path d="M48,31 C60,20 90,10 117,6.5 C128,6.4 138,9.5 142.2,17" stroke="#c8c28a" stroke-width="0.8" fill="none" opacity="0.7"/>
<path d="M143.5,30 C144,50 142,66 134,78 C125,86 112,91 100,93" stroke="#c0ba84" stroke-width="1.2" fill="none" opacity="0.6"/>
<path d="M96.5,28.3 C97.5,26 98.8,24.8 100.3,23.8 C102.8,22.2 105.3,21.4 107.9,21 C110.5,20.6 113,20.5 115.6,20.7 C117.8,21.3 119.5,22.3 120.9,23.8 C122.8,26 124.3,28.6 125.5,31.4 C126.8,34.4 127.9,37.5 128.6,40.6 C129.5,44.6 130,48.6 130.1,52.8 C130.2,56 130,59 129.3,62 C128.5,64.8 127.5,67.3 126.3,69.6 C124.5,72 122.4,74.1 120.2,75.7 C118.8,76.8 117.2,77.7 115.6,78 C114.2,78 113.1,77 112.5,75.7 C112.3,74.2 112.7,72.7 113.3,71.2 C114.3,67.8 115.1,64 115.6,60.5 C116.1,57 116.4,53.4 116.3,49.8 C116.1,47.6 115.6,45.5 114.8,43.6 C113.3,41.6 111.5,40.4 109.5,39.8 C107,39.2 104.4,39 101.8,39 C100,38.5 98.3,37.8 97.2,36.8 C96.2,35.6 95.8,34.4 95.7,33 C95.7,31.3 96,29.7 96.5,28.3 Z" fill="url(#hpg)" stroke="#9ab88a" stroke-width="0.8" stroke-opacity="0.7"/>
<path d="M127,48.2 C127.5,54 127.2,59 126.3,63.5 C124.5,68.5 122,72 119.4,74.2 M121.7,55.9 C121,61 119.8,65.5 117.9,69.6" stroke="#8aa890" stroke-width="0.9" fill="none" opacity="0.8"/>
<text x="54.6" y="39" font-size="10.6" font-family='"Liberation Sans", sans-serif'>CX</text>
<text x="101.7" y="36.9" font-size="10.6" font-family='"Liberation Sans", sans-serif'>HP</text>
<text x="62.5" y="113.7" font-size="10.8" font-family='"Liberation Sans", sans-serif'>C57BL/6J at P56</text>
<!-- arrows -->
<g stroke="#111" stroke-width="1.3" fill="#111">
<line x1="184.4" y1="55.4" x2="200" y2="55.4"/><path d="M203.2,55.4 L197.5,52.6 L197.5,58.2 Z" stroke="none"/>
<line x1="325.8" y1="56.9" x2="341.5" y2="56.9"/><path d="M344.6,56.9 L338.9,54.1 L338.9,59.7 Z" stroke="none"/>
<line x1="417" y1="62" x2="433" y2="62"/><path d="M436,62 L430.3,59.2 L430.3,64.8 Z" stroke="none"/>
<line x1="525.5" y1="60.2" x2="541" y2="60.2"/><path d="M544.2,60.2 L538.5,57.4 L538.5,63 Z" stroke="none"/>
</g>
<!-- cells -->
<text x="238.7" y="20.8" font-size="10.6" font-family='"Liberation Sans", sans-serif'>Astrocyte</text>
<text x="318.4" y="63" text-anchor="end" font-size="10.8" font-family='"Liberation Sans", sans-serif'>ACSA-2-PE</text>
<text x="318.4" y="75.5" text-anchor="end" font-size="10.8" font-family='"Liberation Sans", sans-serif'>labeling</text>
<!-- red cell -->
<polygon points="222.1,45.0 222.2,38.8 225.1,44.2 225.4,44.3 229.9,40.3 228.0,46.0 228.5,47.1 235.2,49.1 228.3,50.2 227.9,50.9 229.9,57.1 225.2,52.5 226.3,52.2 225.3,60.5 223.2,52.4 223.5,52.5 218.4,57.1 221.0,50.7 220.6,50.1 213.1,48.7 220.6,46.9 220.5,47.0 216.9,41.8 222.6,44.7" fill="#f46666"/>
<circle cx="224.5" cy="48.4" r="4.6" fill="url(#redc)"/>
<!-- green astrocyte -->
<g transform="translate(258.1,36.6)" stroke="#8cb068" stroke-width="0.6" fill="none" stroke-linecap="round">
<path d="M0,0 L-5,-6 L-8,-10 L-9,-12 M-5,-6 L-3,-9 M-8,-10 L-11,-10 M0,0 L2,-7 L2,-11 M2,-7 L5,-10 L6,-12 M2,-11 L0,-13 M0,0 L7,-4 L11,-7 L13,-9 M7,-4 L11,-3 M11,-7 L11,-10 M0,0 L8,3 L12,5 L14,8 M8,3 L11,1 M12,5 L13,3 M0,0 L3,7 L4,11 L6,13 M3,7 L7,9 M4,11 L2,13 M0,0 L-4,7 L-7,11 L-8,13 M-4,7 L-8,8 M-7,11 L-4,13 M0,0 L-9,2 L-13,3 L-15,5 M-9,2 L-11,-1 M-13,3 L-14,0 M0,0 L-9,-3 L-13,-5 M-9,-3 L-11,-6"/>
<circle r="2.2" fill="#66a448" stroke="none"/>
</g>
<!-- antibody -->
<g transform="translate(275.7,45.6)" fill="none" stroke-linecap="round">
<path d="M0,4 L0,0 L-4,-4 M0,0 L4,-4" stroke="#e2c6ea" stroke-width="2.2"/>
<circle cx="-5" cy="-5.3" r="0.9" fill="#50c070"/><circle cx="4.6" cy="-5.3" r="0.9" fill="#50c070"/>
<circle cx="-3.8" cy="3.9" r="0.95" fill="#f05a5a"/><circle cx="4.6" cy="3.9" r="0.95" fill="#f05a5a"/>
</g>
<!-- blue neuron -->
<g stroke="#6c9ef4" stroke-width="1" fill="none" stroke-linecap="round">
<path d="M239,75 L237.5,66 L236.7,58.6 M237.5,66 L234.5,63 M237,62 L239.5,59.5 M245,74 L247.4,64.7 L249,62 M247.4,68 L250,67 M249,77 L255.8,70.8 L258,69 M253,73 L255,75 M249.5,83 L257.4,84.6 L259,87 M248.2,87.7 L247.6,95 L247.4,101.4 M247.6,94 L250,97 M247.8,98 L245.5,100 M244,88 L243.5,96 L242,99 M245,91 L251,92 L253,95 M252,85 L253.5,89"/>
<path d="M237.5,85 C235.5,90 233,94 229.9,96.8 C227,99.5 224.5,101.8 222.2,103 C220.5,103.8 219,103.9 218.2,103.3 C217.4,102.5 217.4,101 217.8,100" stroke-width="1.5"/>
</g>
<path d="M234.6,78.5 C234.5,75.5 236,72.5 238.3,70.8 L237.2,64 L240.2,70.2 C241.5,69.6 243,69.4 244.5,69.5 L247.2,64.5 L246.6,69.8 C248.2,70.2 249.6,71 250.5,72 L255.8,70.6 L251.5,74.6 C252.3,76.8 252.4,79.5 252,82 L257.5,84.6 L251.3,84 C250.3,85.8 248.8,87 247,87.7 L247.6,93 L245,88.1 C243,88.4 241,88.1 239.2,87.2 C236.8,85.5 235,82.5 234.6,78.5 Z" fill="url(#neu)"/>
<!-- orange cell -->
<g stroke="#e8922c" stroke-width="1.1" fill="none" stroke-linecap="round">
<path d="M274.2,88.4 L268,82.3 M264.2,84.3 L271.9,79.8 M274.2,88.4 L288.7,86.1 M281.8,89.4 L289.5,85.4 M274.2,88.4 L271.1,96.8 L265.8,102.9 M263.5,103.7 L270.4,99.9 M270.4,104.5 L281.8,96.8"/>
</g>
<circle cx="274.2" cy="88.4" r="2.7" fill="#e8922c"/>
<circle cx="274.2" cy="88.4" r="1.1" fill="#f4b860"/>
<!-- FACS -->
<text x="354.8" y="15.5" font-size="10.8" font-family='"Liberation Sans", sans-serif'>FACS isolation</text>
<rect x="382" y="20.2" width="5" height="35.5" rx="2.5" fill="#bdeff3"/>
<circle cx="384.4" cy="22.4" r="0.8" fill="#f06060"/><circle cx="384.3" cy="28" r="0.9" fill="#e8b060"/><circle cx="384.6" cy="42" r="0.8" fill="#7090f0"/><circle cx="384.4" cy="49" r="0.8" fill="#90c080"/>
<path d="M348.1,41 L355.5,41 L355.5,47.5 L348.1,47.5 Z" fill="#d8d8d8"/>
<path d="M348.1,41 L354.5,39 L361.7,39.2 L355.5,41 Z" fill="#ececec"/>
<path d="M355.5,41 L361.7,39.2 L361.7,45.5 L355.5,47.5 Z" fill="#a8a8a8"/>
<circle cx="358.6" cy="43.2" r="0.8" fill="#e04040"/>
<line x1="361.7" y1="41.6" x2="384.5" y2="34.8" stroke="#4aa04a" stroke-width="0.9"/>
<ellipse cx="396" cy="37.2" rx="13" ry="4.6" fill="url(#redg)" filter="url(#bl1)"/>
<ellipse cx="415.6" cy="38.3" rx="3.2" ry="7.2" fill="url(#ell)" stroke="#b0a0a0" stroke-width="0.6"/>
<circle cx="384.5" cy="34.8" r="1" fill="#e04040"/>
<defs><linearGradient id="plt" x1="0" x2="1"><stop offset="0" stop-color="#dcdcdc"/><stop offset="0.8" stop-color="#f2f2f2"/><stop offset="1" stop-color="#c4c4c4"/></linearGradient>
<radialGradient id="drp" cx="0.5" cy="0.5" r="0.5"><stop offset="0" stop-color="#d4f4f4"/><stop offset="0.6" stop-color="#a0e4e8"/><stop offset="1" stop-color="#74d2da"/></radialGradient>
<linearGradient id="shd" x1="0" x2="1"><stop offset="0" stop-color="#a0a0a0"/><stop offset="1" stop-color="#e8e8e8"/></linearGradient></defs>
<path d="M365.1,53 L376.3,56.9 L376.8,83.7 L365.1,79.7 Z" fill="url(#plt)"/>
<path d="M391.2,53.5 L401.6,57.4 L402.1,84.2 L391.2,80.2 Z" fill="url(#plt)"/>
<line x1="356.3" y1="68.3" x2="360.8" y2="68.3" stroke="#222" stroke-width="1"/>
<path d="M407,68.3 h4.6 M409.3,66 v4.6" stroke="#222" stroke-width="1"/>
<g fill="url(#drp)"><circle cx="384.8" cy="59.9" r="1.7"/><circle cx="383" cy="66" r="1.7"/><circle cx="382" cy="72.6" r="1.7"/><circle cx="381" cy="78.7" r="1.6"/><circle cx="380.3" cy="83.7" r="1.5"/><circle cx="379.6" cy="87.9" r="1.4"/><circle cx="378.1" cy="91.1" r="1.0"/><circle cx="378.8" cy="93.6" r="1.0"/><circle cx="376.6" cy="95.5" r="0.9"/><circle cx="378.8" cy="97.3" r="0.9"/><circle cx="375.8" cy="98.7" r="0.9"/><circle cx="377.3" cy="101.5" r="0.9"/><circle cx="388" cy="70.3" r="1.7"/><circle cx="388.2" cy="76.2" r="1.6"/><circle cx="389.7" cy="81.7" r="1.5"/><circle cx="390.7" cy="86.4" r="1.1"/></g>
<circle cx="388" cy="70.3" r="0.6" fill="#7090f0"/><circle cx="388.2" cy="76.2" r="0.6" fill="#e05a50"/><circle cx="390.7" cy="86.2" r="0.4" fill="#e05a50"/>
<path d="M392.7,91.8 L410,92.2 L410,93.2 L392.7,93 Z" fill="url(#shd)"/>
<path d="M388.4,89.1 L390.5,92 L393,92 L395,89.1 Z" fill="#e8e8e8"/>
<ellipse cx="391.7" cy="89.1" rx="3.4" ry="1.4" fill="#fafafa" stroke="#777" stroke-width="0.7"/>
<path d="M361.4,101.9 L411.8,101.9 L405.8,110.7 L348.3,110.7 Z" fill="#fdd08a"/>
<g stroke="#f8b050" stroke-width="0.9" stroke-dasharray="1.6 1.2">
<path d="M360,103.6 L410.6,103.6 M358.3,105.8 L409.1,105.8 M356.6,108 L407.6,108 M354.8,110 L406.1,110"/>
</g>
<!-- plate -->
<rect x="445.5" y="31.1" width="76.2" height="50.1" rx="3" fill="#fdebc0" stroke="#f8cc88" stroke-width="2"/>
<rect x="448" y="33.5" width="71" height="45.5" rx="1.5" fill="#fff6dc"/>
<g fill="#fbc060"><ellipse cx="455.70" cy="40.50" rx="1.75" ry="1.3"/><ellipse cx="455.70" cy="45.43" rx="1.75" ry="1.3"/><ellipse cx="455.70" cy="50.36" rx="1.75" ry="1.3"/><ellipse cx="455.70" cy="55.29" rx="1.75" ry="1.3"/><ellipse cx="455.70" cy="60.22" rx="1.75" ry="1.3"/><ellipse cx="455.70" cy="65.15" rx="1.75" ry="1.3"/><ellipse cx="455.70" cy="70.08" rx="1.75" ry="1.3"/><ellipse cx="455.70" cy="75.01" rx="1.75" ry="1.3"/><ellipse cx="461.14" cy="40.50" rx="1.75" ry="1.3"/><ellipse cx="461.14" cy="45.43" rx="1.75" ry="1.3"/><ellipse cx="461.14" cy="50.36" rx="1.75" ry="1.3"/><ellipse cx="461.14" cy="55.29" rx="1.75" ry="1.3"/><ellipse cx="461.14" cy="60.22" rx="1.75" ry="1.3"/><ellipse cx="461.14" cy="65.15" rx="1.75" ry="1.3"/><ellipse cx="461.14" cy="70.08" rx="1.75" ry="1.3"/><ellipse cx="461.14" cy="75.01" rx="1.75" ry="1.3"/><ellipse cx="466.58" cy="40.50" rx="1.75" ry="1.3"/><ellipse cx="466.58" cy="45.43" rx="1.75" ry="1.3"/><ellipse cx="466.58" cy="50.36" rx="1.75" ry="1.3"/><ellipse cx="466.58" cy="55.29" rx="1.75" ry="1.3"/><ellipse cx="466.58" cy="60.22" rx="1.75" ry="1.3"/><ellipse cx="466.58" cy="65.15" rx="1.75" ry="1.3"/><ellipse cx="466.58" cy="70.08" rx="1.75" ry="1.3"/><ellipse cx="466.58" cy="75.01" rx="1.75" ry="1.3"/><ellipse cx="472.02" cy="40.50" rx="1.75" ry="1.3"/><ellipse cx="472.02" cy="45.43" rx="1.75" ry="1.3"/><ellipse cx="472.02" cy="50.36" rx="1.75" ry="1.3"/><ellipse cx="472.02" cy="55.29" rx="1.75" ry="1.3"/><ellipse cx="472.02" cy="60.22" rx="1.75" ry="1.3"/><ellipse cx="472.02" cy="65.15" rx="1.75" ry="1.3"/><ellipse cx="472.02" cy="70.08" rx="1.75" ry="1.3"/><ellipse cx="472.02" cy="75.01" rx="1.75" ry="1.3"/><ellipse cx="477.46" cy="40.50" rx="1.75" ry="1.3"/><ellipse cx="477.46" cy="45.43" rx="1.75" ry="1.3"/><ellipse cx="477.46" cy="50.36" rx="1.75" ry="1.3"/><ellipse cx="477.46" cy="55.29" rx="1.75" ry="1.3"/><ellipse cx="477.46" cy="60.22" rx="1.75" ry="1.3"/><ellipse cx="477.46" cy="65.15" rx="1.75" ry="1.3"/><ellipse cx="477.46" cy="70.08" rx="1.75" ry="1.3"/><ellipse cx="477.46" cy="75.01" rx="1.75" ry="1.3"/><ellipse cx="482.90" cy="40.50" rx="1.75" ry="1.3"/><ellipse cx="482.90" cy="45.43" rx="1.75" ry="1.3"/><ellipse cx="482.90" cy="50.36" rx="1.75" ry="1.3"/><ellipse cx="482.90" cy="55.29" rx="1.75" ry="1.3"/><ellipse cx="482.90" cy="60.22" rx="1.75" ry="1.3"/><ellipse cx="482.90" cy="65.15" rx="1.75" ry="1.3"/><ellipse cx="482.90" cy="70.08" rx="1.75" ry="1.3"/><ellipse cx="482.90" cy="75.01" rx="1.75" ry="1.3"/><ellipse cx="488.34" cy="40.50" rx="1.75" ry="1.3"/><ellipse cx="488.34" cy="45.43" rx="1.75" ry="1.3"/><ellipse cx="488.34" cy="50.36" rx="1.75" ry="1.3"/><ellipse cx="488.34" cy="55.29" rx="1.75" ry="1.3"/><ellipse cx="488.34" cy="60.22" rx="1.75" ry="1.3"/><ellipse cx="488.34" cy="65.15" rx="1.75" ry="1.3"/><ellipse cx="488.34" cy="70.08" rx="1.75" ry="1.3"/><ellipse cx="488.34" cy="75.01" rx="1.75" ry="1.3"/><ellipse cx="493.78" cy="40.50" rx="1.75" ry="1.3"/><ellipse cx="493.78" cy="45.43" rx="1.75" ry="1.3"/><ellipse cx="493.78" cy="50.36" rx="1.75" ry="1.3"/><ellipse cx="493.78" cy="55.29" rx="1.75" ry="1.3"/><ellipse cx="493.78" cy="60.22" rx="1.75" ry="1.3"/><ellipse cx="493.78" cy="65.15" rx="1.75" ry="1.3"/><ellipse cx="493.78" cy="70.08" rx="1.75" ry="1.3"/><ellipse cx="493.78" cy="75.01" rx="1.75" ry="1.3"/><ellipse cx="499.22" cy="40.50" rx="1.75" ry="1.3"/><ellipse cx="499.22" cy="45.43" rx="1.75" ry="1.3"/><ellipse cx="499.22" cy="50.36" rx="1.75" ry="1.3"/><ellipse cx="499.22" cy="55.29" rx="1.75" ry="1.3"/><ellipse cx="499.22" cy="60.22" rx="1.75" ry="1.3"/><ellipse cx="499.22" cy="65.15" rx="1.75" ry="1.3"/><ellipse cx="499.22" cy="70.08" rx="1.75" ry="1.3"/><ellipse cx="499.22" cy="75.01" rx="1.75" ry="1.3"/><ellipse cx="504.66" cy="40.50" rx="1.75" ry="1.3"/><ellipse cx="504.66" cy="45.43" rx="1.75" ry="1.3"/><ellipse cx="504.66" cy="50.36" rx="1.75" ry="1.3"/><ellipse cx="504.66" cy="55.29" rx="1.75" ry="1.3"/><ellipse cx="504.66" cy="60.22" rx="1.75" ry="1.3"/><ellipse cx="504.66" cy="65.15" rx="1.75" ry="1.3"/><ellipse cx="504.66" cy="70.08" rx="1.75" ry="1.3"/><ellipse cx="504.66" cy="75.01" rx="1.75" ry="1.3"/><ellipse cx="510.10" cy="40.50" rx="1.75" ry="1.3"/><ellipse cx="510.10" cy="45.43" rx="1.75" ry="1.3"/><ellipse cx="510.10" cy="50.36" rx="1.75" ry="1.3"/><ellipse cx="510.10" cy="55.29" rx="1.75" ry="1.3"/><ellipse cx="510.10" cy="60.22" rx="1.75" ry="1.3"/><ellipse cx="510.10" cy="65.15" rx="1.75" ry="1.3"/><ellipse cx="510.10" cy="70.08" rx="1.75" ry="1.3"/><ellipse cx="510.10" cy="75.01" rx="1.75" ry="1.3"/><ellipse cx="515.54" cy="40.50" rx="1.75" ry="1.3"/><ellipse cx="515.54" cy="45.43" rx="1.75" ry="1.3"/><ellipse cx="515.54" cy="50.36" rx="1.75" ry="1.3"/><ellipse cx="515.54" cy="55.29" rx="1.75" ry="1.3"/><ellipse cx="515.54" cy="60.22" rx="1.75" ry="1.3"/><ellipse cx="515.54" cy="65.15" rx="1.75" ry="1.3"/><ellipse cx="515.54" cy="70.08" rx="1.75" ry="1.3"/><ellipse cx="515.54" cy="75.01" rx="1.75" ry="1.3"/></g><g font-family='"Liberation Sans", sans-serif' font-size="3.3" fill="#333"><text x="455.70" y="37.2" text-anchor="middle">1</text><text x="461.14" y="37.2" text-anchor="middle">2</text><text x="466.58" y="37.2" text-anchor="middle">3</text><text x="472.02" y="37.2" text-anchor="middle">4</text><text x="477.46" y="37.2" text-anchor="middle">5</text><text x="482.90" y="37.2" text-anchor="middle">6</text><text x="488.34" y="37.2" text-anchor="middle">7</text><text x="493.78" y="37.2" text-anchor="middle">8</text><text x="499.22" y="37.2" text-anchor="middle">9</text><text x="504.66" y="37.2" text-anchor="middle">10</text><text x="510.10" y="37.2" text-anchor="middle">11</text><text x="515.54" y="37.2" text-anchor="middle">12</text><text x="451.2" y="41.70" text-anchor="middle">A</text><text x="451.2" y="46.63" text-anchor="middle">B</text><text x="451.2" y="51.56" text-anchor="middle">C</text><text x="451.2" y="56.49" text-anchor="middle">D</text><text x="451.2" y="61.42" text-anchor="middle">E</text><text x="451.2" y="66.35" text-anchor="middle">F</text><text x="451.2" y="71.28" text-anchor="middle">G</text><text x="451.2" y="76.21" text-anchor="middle">H</text></g>
<text x="448.6" y="98.4" font-size="10.8" font-family='"Liberation Sans", sans-serif'>Preparation of</text>
<text x="448.6" y="111.6" font-size="10.85" font-family='"Liberation Sans", sans-serif'>2976 libraries by Smart-seq2</text>
<!-- sequencer -->
<rect x="614.8" y="13.6" width="40.8" height="78" rx="2.5" fill="url(#cab)"/>
<line x1="614.8" y1="45.3" x2="655.6" y2="45.3" stroke="#777" stroke-width="0.6"/>
<rect x="614.8" y="43.5" width="31.7" height="4" fill="url(#slot)"/>
<rect x="559" y="48.4" width="48" height="43.2" rx="3" fill="url(#lowt)"/>
<rect x="560.3" y="61" width="46" height="29.5" rx="2" fill="url(#lowd)"/>
<rect x="562.8" y="16.8" width="43" height="27.8" fill="#061006"/>
<rect x="564.4" y="19" width="39.1" height="22.6" fill="url(#scr)"/>
<rect x="605.3" y="13.6" width="9.5" height="78" fill="#000"/>
<path d="M564,91.2 h3.4 v2.2 a1.7,1.7 0 0 1 -3.4,0 Z" fill="#111"/>
<path d="M647.2,91.2 h3.4 v2.2 a1.7,1.7 0 0 1 -3.4,0 Z" fill="#111"/>
<g font-family='"Liberation Sans", sans-serif' font-weight="bold" font-size="15">
<text x="-0.6" y="8.6">a</text><text x="0" y="149.6">b</text><text x="-0.3" y="350.2">c</text><text x="223.6" y="149.6">d</text>
</g>
<!-- pie -->
<g stroke="#111" stroke-width="0.8" stroke-linejoin="round">
<path d="M93.2,237.0 L155.23,204.99 A69.8,69.8 0 0 0 28.47,263.12 Z" fill="#bcee68"/><path d="M93.2,237.0 L28.47,263.12 A69.8,69.8 0 0 0 151.83,274.87 Z" fill="#e9967a"/><path d="M93.2,237.0 L151.83,274.87 A69.8,69.8 0 0 0 162.58,229.33 Z" fill="#eedd82"/><path d="M93.2,237.0 L162.58,229.33 A69.8,69.8 0 0 0 155.23,204.99 Z" fill="#6495ed"/>
</g>
<g font-family='"Liberation Sans", sans-serif' font-size="10.6" fill="#111">
<text x="45.5" y="165.7">CDS</text>
<text x="139.9" y="154.4">~1M</text>
<text x="139.9" y="167.3">reads/library</text>
<text x="165.7" y="218.3">Intergenic</text>
<text x="169.3" y="258.1">Intronic</text>
<text x="76.2" y="322.1">UTR</text>
<text x="81.8" y="215.6" text-anchor="middle">48.52%</text>
<text x="138.8" y="229.4" text-anchor="middle">5.83%</text>
<text x="138.8" y="250.1" text-anchor="middle">10.88%</text>
<text x="92.2" y="274.6" text-anchor="middle">34.77%</text>
</g>
<g stroke="#111" stroke-width="0.7">
<line x1="60.8" y1="169.8" x2="61.6" y2="172.5"/>
<line x1="160" y1="214.8" x2="163.7" y2="214.8"/>
<line x1="162" y1="254" x2="165.7" y2="254"/>
<line x1="87.5" y1="306.9" x2="87.5" y2="310.5"/>
</g>
<!-- tSNE -->
<rect x="47.9" y="347.6" width="160.6" height="149.8" fill="none" stroke="#222" stroke-width="1.3"/>
<g stroke="#111" stroke-width="0.8">
<path d="M44.8 353.4H47.8M44.8 384.4H47.8M44.8 415.4H47.8M44.8 446.3H47.8M44.8 477.6H47.8"/>
<path d="M86.4 497V500.5M125.6 497V500.5M165.5 497V500.5M204.4 497V500.5"/>
</g>
<g font-family='"Liberation Sans", sans-serif' font-size="10.4" fill="#111">
<text x="40.6" y="357" text-anchor="end">100</text>
<text x="40.6" y="388" text-anchor="end">50</text>
<text x="40.6" y="419" text-anchor="end">0</text>
<text x="40.6" y="450" text-anchor="end">−50</text>
<text x="40.6" y="481.2" text-anchor="end">−100</text>
<text x="86.4" y="513" text-anchor="middle">−50</text>
<text x="125.6" y="513" text-anchor="middle">0</text>
<text x="165.5" y="513" text-anchor="middle">50</text>
<text x="204.4" y="513" text-anchor="middle">100</text>
<text x="127.8" y="528.2" text-anchor="middle">tSNE-1</text>
<text transform="translate(9.7,422.1) rotate(-90)" text-anchor="middle" font-size="11">tSNE-2</text>
</g>
<path d="M62.8 383.0h.01M57.2 386.9h.01M73.9 387.4h.01M68.1 387.2h.01M66.0 378.4h.01M65.7 385.5h.01M63.9 385.6h.01M63.1 380.6h.01M68.9 388.0h.01M70.5 388.0h.01M61.5 384.9h.01M73.5 386.7h.01M54.0 383.9h.01M69.3 387.8h.01M71.5 384.5h.01M66.4 385.2h.01M73.9 386.9h.01M63.1 384.2h.01M58.6 386.1h.01M57.4 385.2h.01M73.4 388.7h.01M72.0 388.7h.01M55.3 382.3h.01M68.1 384.8h.01M58.0 384.7h.01M63.7 387.8h.01M59.9 384.3h.01M58.9 383.8h.01M66.7 381.3h.01M71.5 384.2h.01M60.2 387.7h.01M70.7 387.6h.01M66.8 382.4h.01M63.0 384.2h.01M71.7 386.1h.01M55.4 386.1h.01M72.1 390.0h.01M69.9 387.5h.01M63.7 386.5h.01M55.7 383.3h.01M63.7 384.2h.01M58.8 383.5h.01M66.6 378.5h.01M66.4 378.3h.01M64.1 381.3h.01M69.4 382.8h.01M60.6 381.8h.01M68.9 387.3h.01M71.7 384.4h.01M58.9 384.3h.01M71.6 384.9h.01M58.6 387.6h.01M72.4 387.9h.01M71.4 388.7h.01M66.1 380.1h.01M66.8 383.4h.01M56.4 384.7h.01M69.2 382.6h.01M62.7 379.1h.01M65.0 378.8h.01M68.4 379.7h.01M70.4 380.3h.01M71.8 390.0h.01M63.0 386.0h.01M63.5 383.2h.01M64.6 386.0h.01M67.1 381.3h.01M66.4 381.0h.01M62.3 381.9h.01M61.6 380.0h.01M69.8 380.3h.01M63.5 379.8h.01M59.0 387.2h.01M58.4 383.7h.01M65.8 384.8h.01M67.8 386.6h.01M68.0 383.9h.01M74.0 387.5h.01M58.7 385.0h.01M73.6 386.3h.01M72.8 390.0h.01M62.0 382.8h.01M55.8 382.2h.01M56.7 385.7h.01M66.9 388.1h.01M56.7 383.1h.01M60.8 385.9h.01M61.3 379.9h.01M60.8 387.5h.01M60.0 382.4h.01M71.2 381.2h.01M73.2 388.6h.01M61.9 385.1h.01M68.9 385.4h.01M66.2 383.5h.01M57.5 383.5h.01M62.6 381.0h.01M71.2 384.4h.01M62.4 379.3h.01M59.2 386.8h.01M67.3 383.5h.01M67.5 380.1h.01M60.6 383.5h.01M70.7 381.3h.01M67.0 379.8h.01M67.6 378.3h.01M67.9 383.7h.01M73.0 385.7h.01M58.9 383.7h.01M62.0 384.6h.01M67.7 387.0h.01M65.9 385.8h.01M62.1 380.0h.01M70.6 382.2h.01M69.0 384.6h.01M67.0 387.9h.01M60.9 386.4h.01M63.8 384.3h.01M56.0 383.0h.01M64.2 384.7h.01M58.0 384.7h.01M65.7 378.7h.01M68.5 382.5h.01M70.4 382.6h.01M56.9 381.4h.01M69.3 384.1h.01M67.4 382.9h.01M64.1 378.2h.01M63.9 386.2h.01M57.6 387.0h.01M67.6 381.5h.01M63.1 386.4h.01M64.7 384.9h.01M60.2 380.6h.01M66.9 384.5h.01M67.7 386.7h.01M60.4 386.6h.01M57.8 381.1h.01M62.7 379.2h.01M72.5 388.9h.01M64.1 379.5h.01M64.9 387.8h.01M63.7 386.1h.01M69.8 382.7h.01M61.1 384.1h.01M76.0 387.3h.01M56.6 382.5h.01M62.4 384.3h.01M70.0 379.4h.01M64.5 383.3h.01M64.3 384.3h.01M59.0 381.8h.01M59.8 385.5h.01M73.0 386.3h.01M61.9 382.3h.01M63.5 386.9h.01M67.3 383.2h.01M59.2 385.1h.01M75.3 388.5h.01M64.0 379.5h.01M66.5 378.6h.01M65.2 385.0h.01M62.4 380.4h.01M56.7 385.8h.01M67.8 387.6h.01M64.9 377.1h.01M69.0 388.4h.01M73.2 388.4h.01M62.9 380.3h.01M66.7 382.1h.01M67.9 378.7h.01M66.3 382.0h.01M74.4 386.3h.01M74.9 386.8h.01M69.0 385.0h.01M57.2 386.2h.01M55.6 385.3h.01M71.7 387.8h.01M70.2 388.2h.01M63.1 381.4h.01M65.4 378.7h.01M69.0 386.0h.01M69.4 381.3h.01M63.1 384.2h.01M67.4 383.1h.01M68.5 386.8h.01M68.3 380.6h.01M69.5 379.1h.01M58.8 385.9h.01M72.0 380.7h.01M67.7 378.7h.01M62.1 387.7h.01M70.9 388.6h.01M58.1 383.5h.01M67.3 381.3h.01M73.6 388.2h.01M66.5 378.0h.01M66.1 383.5h.01M66.6 382.3h.01M70.2 381.5h.01M70.6 381.4h.01M63.7 378.6h.01M61.3 384.8h.01M70.0 384.9h.01M65.6 381.7h.01M64.2 382.7h.01M68.5 385.4h.01M63.7 388.1h.01M67.8 385.6h.01M62.8 381.3h.01" stroke="#f8766d" stroke-width="1.75" stroke-linecap="round" fill="none"/>
<path d="M114.9 471.1h.01M104.8 469.6h.01M107.0 469.0h.01M124.2 472.3h.01M103.7 473.3h.01M108.7 468.9h.01M123.3 473.5h.01M111.0 473.3h.01M110.6 473.2h.01M111.6 469.4h.01M113.5 472.6h.01M123.1 470.3h.01M123.1 469.9h.01M97.5 469.6h.01M129.5 473.6h.01M106.0 476.3h.01M117.3 473.9h.01M123.3 471.8h.01M108.4 469.2h.01M102.3 472.3h.01M104.5 475.4h.01M97.0 470.0h.01M125.0 472.5h.01M119.4 469.9h.01M114.0 474.9h.01M121.0 474.7h.01M125.0 474.2h.01M118.3 474.3h.01M116.7 470.0h.01M105.9 472.4h.01M97.3 469.0h.01M106.0 474.2h.01M123.6 471.6h.01M106.6 474.8h.01M109.4 468.9h.01M102.3 471.1h.01M98.4 470.3h.01M98.9 468.5h.01M121.4 472.5h.01M123.3 474.0h.01M111.1 474.7h.01M109.4 474.8h.01M118.8 470.4h.01M107.7 469.1h.01M111.1 471.6h.01M117.2 470.5h.01M119.6 471.5h.01M100.3 473.6h.01M109.9 474.8h.01M118.6 474.6h.01M117.4 470.4h.01M108.6 467.4h.01M100.7 471.9h.01M120.9 472.9h.01M120.3 473.5h.01M105.0 472.3h.01M103.8 473.0h.01M132.3 473.3h.01M103.3 473.0h.01M119.8 470.6h.01M108.0 474.5h.01M109.4 473.1h.01M99.6 467.6h.01M108.7 475.9h.01M100.4 470.4h.01M114.1 469.4h.01M111.9 468.3h.01M97.9 470.9h.01M98.4 470.2h.01M104.1 476.2h.01M104.6 471.0h.01M122.4 474.8h.01M113.0 470.3h.01M110.5 469.8h.01M114.0 471.4h.01M110.6 473.5h.01M127.8 468.4h.01M119.0 469.9h.01M101.4 474.9h.01M131.0 471.9h.01M119.9 469.8h.01M131.5 473.1h.01M124.9 472.8h.01M123.3 472.4h.01M130.2 473.1h.01M108.8 475.6h.01M115.6 472.3h.01M99.0 468.9h.01M109.3 469.0h.01M113.5 469.3h.01M113.8 470.7h.01M113.1 473.9h.01M121.8 473.8h.01M107.1 472.8h.01M111.2 472.8h.01M113.8 473.2h.01M100.6 472.9h.01M128.3 470.9h.01M99.5 474.1h.01M106.5 469.7h.01M104.0 474.6h.01M114.3 471.0h.01M115.3 470.2h.01M125.2 473.2h.01M110.1 471.3h.01M99.5 470.4h.01M100.0 474.3h.01M109.6 471.1h.01M126.8 469.6h.01M103.4 470.6h.01M102.0 471.5h.01M122.2 471.0h.01M125.6 470.8h.01M105.6 474.0h.01M118.1 471.4h.01M117.7 470.4h.01M100.1 469.8h.01M99.0 473.2h.01M113.6 469.7h.01M98.5 470.7h.01M117.4 474.7h.01M127.2 468.8h.01M129.1 473.2h.01M121.0 474.8h.01M116.5 473.5h.01M127.3 471.5h.01M97.4 472.4h.01M118.9 473.2h.01M102.8 474.5h.01M122.6 474.5h.01M107.1 468.0h.01M99.6 468.0h.01M112.9 469.5h.01M126.4 469.7h.01M113.7 471.0h.01M120.4 470.8h.01M98.6 468.2h.01M113.7 470.1h.01M107.0 469.5h.01M107.2 471.7h.01M108.5 467.2h.01M122.2 474.4h.01M118.9 470.4h.01M125.2 470.1h.01M104.5 475.9h.01M127.5 472.3h.01M118.2 474.2h.01M110.8 467.7h.01M104.0 469.8h.01M114.2 473.7h.01M111.8 473.8h.01M122.9 474.4h.01M103.7 476.0h.01M118.1 474.1h.01M103.2 474.5h.01M107.1 472.8h.01M100.2 468.6h.01M120.9 475.1h.01M111.8 473.2h.01M113.1 473.6h.01M106.1 468.0h.01M116.3 471.1h.01M127.1 471.7h.01M108.0 475.9h.01M132.2 473.5h.01M108.2 470.9h.01M123.2 472.8h.01M112.4 475.0h.01M99.4 473.6h.01M98.1 473.2h.01M110.2 475.7h.01M122.8 469.7h.01M102.2 473.1h.01M100.6 474.7h.01M98.6 471.7h.01M111.9 472.2h.01M124.3 472.6h.01M112.3 474.9h.01M122.6 469.7h.01M99.0 472.9h.01M115.9 474.2h.01M114.3 471.9h.01M102.5 470.6h.01M117.0 474.9h.01M107.9 466.6h.01M105.3 467.6h.01M117.2 474.9h.01M99.8 468.6h.01M119.1 470.3h.01M123.9 474.4h.01M106.9 469.2h.01M115.6 471.9h.01M120.7 470.1h.01M101.6 471.4h.01M111.2 473.5h.01M106.6 468.1h.01M102.2 475.2h.01M108.9 475.2h.01M116.0 473.4h.01M99.4 472.2h.01M116.6 472.0h.01M100.3 470.6h.01M126.4 473.9h.01M105.1 475.9h.01M106.3 470.2h.01M104.9 476.4h.01M124.1 473.6h.01M104.4 473.3h.01M97.1 471.0h.01M100.2 470.3h.01M115.4 470.6h.01M111.7 468.5h.01M124.4 473.6h.01M109.0 470.9h.01M109.0 471.8h.01M102.9 469.1h.01M128.5 469.5h.01M98.0 471.3h.01M114.7 471.5h.01M112.2 474.7h.01M98.5 471.2h.01M127.8 471.0h.01M103.3 473.9h.01M115.7 469.9h.01M128.9 472.6h.01M119.7 473.1h.01M97.3 468.9h.01M129.3 470.0h.01M108.1 472.2h.01M102.5 472.3h.01M105.9 471.2h.01M127.0 473.2h.01M124.0 471.4h.01M121.6 470.2h.01M109.0 468.5h.01M118.6 473.2h.01M107.0 469.9h.01M122.2 471.2h.01M121.1 473.9h.01M120.5 475.0h.01M127.4 472.7h.01M103.7 474.1h.01M116.2 470.8h.01M110.6 475.0h.01M105.8 475.6h.01M103.0 473.6h.01M117.0 470.7h.01M125.9 471.2h.01M100.9 475.0h.01M124.6 470.7h.01M113.4 474.3h.01M110.8 474.5h.01M129.2 470.4h.01M114.2 474.5h.01M130.9 473.6h.01M105.4 475.8h.01M109.7 470.6h.01M98.4 469.6h.01M111.3 472.2h.01M118.3 473.0h.01" stroke="#b79f00" stroke-width="1.75" stroke-linecap="round" fill="none"/>
<path opacity="0" d="M53.8,384 L56,381.5 L61,380 L64.5,376.9 L67.5,378.2 L72.5,380.2 L71,383.3 L72.5,385.5 L76.8,386.8 L75.5,389.2 L71.5,390.4 L69,388.5 L65,388.6 L60,387.8 L55,387.3 L53.8,386 Z" fill="#f8766d"/>
<path d="M111.2 406.2h.01M109.4 418.0h.01M133.1 395.3h.01M147.7 394.9h.01M141.4 382.2h.01M136.2 381.5h.01M122.3 384.5h.01M159.1 430.5h.01M155.8 417.5h.01M85.7 397.0h.01M173.7 412.4h.01M99.8 394.6h.01M91.7 408.0h.01M91.9 428.0h.01M136.6 420.0h.01M111.7 433.7h.01M105.1 403.3h.01M158.0 394.7h.01M160.0 425.6h.01M138.7 379.9h.01M132.5 438.6h.01M177.3 416.5h.01M136.0 411.9h.01M83.7 416.8h.01M169.2 402.8h.01M119.5 392.4h.01M124.7 399.2h.01M97.1 409.7h.01M92.8 416.7h.01M134.4 439.8h.01M156.3 429.7h.01M90.5 393.5h.01M91.2 397.6h.01M157.6 391.8h.01M119.9 400.3h.01M109.0 407.1h.01M89.0 409.0h.01M128.4 382.5h.01M133.0 413.8h.01M162.4 403.4h.01M149.2 386.3h.01M144.4 421.3h.01M93.8 422.6h.01M162.8 415.3h.01M122.6 392.4h.01M142.5 417.9h.01M127.4 448.6h.01M149.3 437.9h.01M133.5 411.2h.01M97.3 404.2h.01M134.3 422.8h.01M79.1 410.2h.01M93.0 398.6h.01M163.4 415.7h.01M127.4 413.6h.01M167.0 424.1h.01M89.2 409.4h.01M121.9 425.3h.01M142.3 400.5h.01M95.5 417.7h.01M114.4 428.4h.01M137.5 423.1h.01M84.1 399.8h.01M129.5 421.9h.01M168.0 427.8h.01M150.4 386.8h.01M121.7 400.9h.01M105.0 388.9h.01M139.7 408.3h.01M78.9 408.8h.01M81.7 405.7h.01M94.1 406.4h.01M132.1 426.2h.01M143.7 382.2h.01M84.5 412.0h.01M122.6 418.2h.01M127.6 400.8h.01M93.9 405.2h.01M128.6 442.2h.01M108.8 392.9h.01M117.9 382.1h.01M100.0 428.2h.01M141.5 431.5h.01M138.8 377.5h.01M104.4 401.1h.01M135.4 384.1h.01M126.8 408.1h.01M107.1 387.0h.01M128.2 438.5h.01M105.9 404.6h.01M132.7 435.2h.01M82.8 403.4h.01M142.2 439.7h.01M81.6 406.6h.01M165.4 413.8h.01M154.0 430.5h.01M109.4 418.3h.01M87.5 423.6h.01M157.0 419.3h.01M149.5 413.8h.01M129.0 393.9h.01M127.4 440.4h.01M115.1 383.8h.01M96.0 418.6h.01M137.2 402.8h.01M127.8 413.9h.01M89.3 408.1h.01M151.0 388.1h.01M165.1 430.3h.01M156.5 410.0h.01M100.5 424.6h.01M125.7 447.7h.01M97.1 423.5h.01M96.1 392.0h.01M98.4 408.9h.01M119.9 414.0h.01M156.1 390.1h.01M157.2 431.3h.01M167.4 405.5h.01M108.1 381.7h.01M118.1 383.6h.01M101.2 428.8h.01M97.9 429.3h.01M127.7 423.7h.01M81.4 400.4h.01M103.8 426.6h.01M89.2 407.6h.01M144.8 419.1h.01M162.5 433.7h.01M142.7 422.1h.01M168.7 398.1h.01M160.9 399.3h.01M97.7 410.7h.01M131.5 425.2h.01M140.0 389.4h.01M173.1 405.9h.01M85.1 407.7h.01M125.3 401.2h.01M105.8 413.5h.01M97.7 409.4h.01M92.5 416.8h.01M133.4 396.4h.01M80.8 415.9h.01M133.9 413.6h.01M126.2 398.5h.01M82.6 410.9h.01M158.4 408.1h.01M109.5 416.0h.01M136.2 415.7h.01M133.9 424.1h.01M113.7 403.7h.01M135.4 383.3h.01M141.3 416.8h.01M110.4 425.0h.01M135.6 443.7h.01M89.5 410.1h.01M129.7 431.0h.01M88.3 407.4h.01M151.1 389.3h.01M101.7 407.2h.01M143.0 427.3h.01M173.7 404.7h.01M111.0 410.1h.01M138.5 394.5h.01M171.8 403.4h.01M135.8 420.7h.01M146.3 389.0h.01M98.0 395.0h.01M143.6 447.2h.01M150.8 384.6h.01M151.4 384.2h.01M84.7 407.4h.01M137.5 437.7h.01M143.8 435.0h.01M172.2 404.2h.01M146.1 387.8h.01M97.0 409.7h.01M125.3 445.7h.01M154.3 388.2h.01M155.3 428.0h.01M135.9 397.4h.01M142.8 398.8h.01M136.8 418.2h.01M146.5 445.4h.01M140.9 412.7h.01M98.7 419.7h.01M161.4 412.0h.01M158.3 394.6h.01M93.7 429.0h.01M147.5 421.0h.01M175.3 420.6h.01M144.2 422.3h.01M122.1 444.6h.01M123.3 402.7h.01M80.5 408.6h.01M163.6 424.8h.01M164.7 405.4h.01M154.5 390.1h.01M89.6 407.9h.01M136.7 447.1h.01M178.0 419.1h.01M88.9 398.9h.01M94.5 392.0h.01M145.3 435.0h.01M161.9 418.5h.01M128.4 450.6h.01M142.7 412.2h.01M95.5 397.9h.01M106.0 426.1h.01M148.6 388.2h.01M118.4 379.4h.01M172.8 408.5h.01M109.8 417.0h.01M167.8 417.4h.01M143.6 392.1h.01M138.2 407.3h.01M178.6 419.5h.01M156.2 438.6h.01M111.9 396.9h.01M83.1 422.1h.01M151.8 418.5h.01M159.3 430.2h.01M151.3 402.8h.01M129.8 418.1h.01M85.9 407.1h.01M115.2 385.8h.01M125.8 436.0h.01M149.1 389.0h.01M84.4 408.5h.01M126.5 399.0h.01M172.7 401.0h.01M89.7 408.1h.01M173.7 410.6h.01M108.8 424.6h.01M100.4 418.7h.01M97.8 403.9h.01M134.3 433.3h.01M146.2 396.5h.01M132.2 398.4h.01M149.6 416.2h.01M162.6 429.1h.01M111.7 389.7h.01M163.2 418.6h.01M88.4 423.3h.01M85.8 414.2h.01M161.7 399.1h.01M147.7 401.6h.01M132.1 396.7h.01M145.3 387.8h.01M82.3 419.2h.01M155.0 407.3h.01M98.5 423.7h.01M117.1 378.3h.01M135.5 420.1h.01M143.8 414.1h.01M133.0 450.6h.01M80.2 405.2h.01M92.2 400.8h.01M173.9 401.8h.01M110.1 398.0h.01M158.1 433.0h.01M90.6 428.0h.01M157.4 430.5h.01M159.3 397.5h.01M138.4 414.7h.01M116.6 422.8h.01M122.4 432.6h.01M175.1 412.1h.01M119.4 384.2h.01M90.9 425.7h.01M105.8 425.1h.01M147.2 381.0h.01M125.0 398.6h.01M123.5 418.6h.01M149.7 436.9h.01M131.4 435.6h.01M105.6 415.9h.01M99.4 414.8h.01M151.7 418.4h.01M110.3 418.7h.01M83.8 412.3h.01M112.8 390.2h.01M114.1 398.3h.01M157.8 393.8h.01M144.4 432.2h.01M174.1 421.8h.01M174.7 405.6h.01M97.7 419.2h.01M104.7 406.6h.01M134.3 406.1h.01M175.4 418.7h.01M145.6 403.2h.01M119.8 442.9h.01M154.9 435.4h.01M111.3 437.4h.01M143.8 380.6h.01M133.4 408.1h.01M114.4 407.7h.01M158.0 422.5h.01M142.7 395.7h.01M117.5 441.9h.01M87.0 426.0h.01M144.0 430.4h.01M87.1 406.6h.01M140.6 445.0h.01M143.0 401.5h.01M110.6 433.5h.01M134.8 416.6h.01M173.0 425.0h.01M140.0 402.2h.01M149.2 440.0h.01M150.5 411.8h.01M170.9 414.8h.01M133.6 421.3h.01M163.5 430.4h.01M109.9 396.8h.01M151.3 417.1h.01M139.0 450.2h.01M152.2 417.1h.01M135.0 399.0h.01M88.3 405.8h.01M91.0 424.8h.01M141.1 406.4h.01M138.2 446.2h.01M101.3 397.0h.01M113.1 434.3h.01M145.7 414.3h.01M124.7 398.5h.01M117.8 384.3h.01M134.5 445.8h.01M114.3 422.4h.01M163.3 424.6h.01M81.9 408.5h.01M133.6 403.8h.01M134.4 434.2h.01M95.0 431.2h.01M106.0 434.6h.01M111.7 396.3h.01M147.3 412.9h.01M154.7 390.6h.01M104.0 405.6h.01M115.9 413.2h.01M100.3 424.0h.01M157.9 416.7h.01M142.7 436.7h.01M139.2 430.0h.01M131.8 387.6h.01M86.1 406.8h.01M145.0 405.5h.01M172.3 404.8h.01M82.4 408.9h.01M81.9 415.4h.01M132.7 440.1h.01M118.5 389.7h.01M139.4 431.0h.01M91.5 418.6h.01M129.9 413.0h.01M90.9 404.2h.01M96.4 426.5h.01M96.5 409.4h.01M154.0 436.8h.01M149.4 396.4h.01M144.4 412.6h.01M155.2 411.8h.01M148.7 416.7h.01M174.1 408.4h.01M114.9 400.6h.01M129.4 394.0h.01M159.4 413.1h.01M91.4 394.0h.01M129.9 411.4h.01M134.8 434.7h.01M93.4 405.5h.01M90.6 425.6h.01M155.7 438.6h.01M153.3 391.7h.01M110.1 415.9h.01M171.4 424.1h.01M131.3 385.6h.01M127.1 400.5h.01M105.7 422.7h.01M135.1 415.8h.01M140.1 433.7h.01M156.6 412.4h.01M140.4 427.3h.01M96.3 403.5h.01M84.8 400.6h.01M129.0 435.2h.01M144.7 418.1h.01M99.5 408.9h.01M99.0 396.4h.01M150.6 387.6h.01M148.8 416.7h.01M142.9 445.9h.01M150.5 398.8h.01M125.2 445.7h.01M142.9 445.7h.01M95.0 422.9h.01M125.8 418.3h.01M126.4 437.7h.01M161.8 398.7h.01M137.3 447.7h.01M93.0 391.8h.01M170.5 425.0h.01M118.4 417.1h.01M166.4 402.2h.01M153.5 435.5h.01M162.0 399.7h.01M120.3 425.5h.01M86.8 418.5h.01M90.5 416.0h.01M155.2 415.1h.01M96.5 424.7h.01M106.4 426.4h.01M155.9 415.7h.01M150.2 413.2h.01M117.5 378.3h.01M158.2 431.4h.01M133.9 449.9h.01M157.7 412.9h.01M123.6 412.1h.01M80.0 409.0h.01M114.9 406.7h.01M100.3 430.0h.01M136.7 449.9h.01M155.9 407.4h.01M128.1 418.6h.01M141.3 433.6h.01M143.4 414.6h.01M134.3 397.7h.01M89.0 426.9h.01M92.2 419.4h.01M148.2 426.8h.01M107.9 429.7h.01M88.9 420.1h.01M92.4 408.3h.01M125.0 412.9h.01M105.3 412.0h.01M128.1 438.2h.01M151.5 439.8h.01M135.5 415.7h.01M109.3 391.7h.01M134.8 391.3h.01M149.3 397.6h.01M91.8 392.7h.01M101.5 429.5h.01M117.8 378.9h.01M96.6 421.8h.01M145.0 378.3h.01M127.8 449.3h.01M149.9 439.4h.01M135.1 403.3h.01M131.8 407.0h.01M149.4 426.4h.01M116.2 410.1h.01M146.4 378.7h.01M93.5 398.8h.01M157.6 411.5h.01M124.0 381.7h.01M151.9 416.9h.01M130.0 388.2h.01M128.7 395.0h.01M141.9 417.3h.01M110.4 416.9h.01M102.1 386.1h.01M138.5 413.6h.01M99.4 418.1h.01M81.9 405.9h.01M178.9 418.8h.01M93.8 394.6h.01M156.6 412.5h.01M121.4 419.4h.01M129.4 443.2h.01M148.7 413.7h.01M135.2 385.6h.01M134.1 440.7h.01M92.6 417.5h.01M170.0 417.5h.01M145.7 379.8h.01M150.8 389.1h.01M145.6 401.1h.01M147.5 426.4h.01M144.6 405.5h.01M156.1 402.8h.01M91.5 417.2h.01M151.6 396.0h.01M137.2 407.2h.01M145.8 410.7h.01M109.9 433.4h.01M111.0 412.3h.01M92.6 416.7h.01M151.1 385.8h.01M79.6 410.4h.01M128.9 400.4h.01M139.6 429.0h.01M113.2 405.8h.01M158.1 409.7h.01M150.7 419.3h.01M114.7 438.7h.01M128.8 435.3h.01M107.9 418.6h.01M147.0 409.8h.01M127.3 436.1h.01M99.8 430.2h.01M159.2 412.7h.01M129.5 432.5h.01M142.6 436.3h.01M164.8 396.8h.01M113.0 429.5h.01M139.2 418.4h.01M79.8 415.6h.01M121.7 430.9h.01M152.8 405.9h.01M98.6 428.5h.01M166.3 415.5h.01M152.6 387.4h.01M132.6 450.1h.01M112.4 415.9h.01M117.7 409.3h.01M85.4 404.2h.01M86.6 406.6h.01M117.3 390.7h.01M148.4 389.6h.01M104.8 406.0h.01M120.5 386.6h.01M103.2 404.0h.01M130.2 396.2h.01M98.2 397.6h.01M116.9 409.6h.01M175.3 409.7h.01M106.7 394.0h.01M132.6 409.3h.01M157.9 436.7h.01M113.0 390.5h.01M135.7 444.2h.01M148.5 437.3h.01M153.2 420.6h.01M142.5 422.5h.01M143.2 442.6h.01M155.3 416.6h.01M148.6 393.9h.01M159.5 434.3h.01M122.8 427.4h.01M124.1 426.3h.01M126.4 417.2h.01M105.4 413.8h.01M83.3 415.4h.01M133.7 381.3h.01M119.1 442.1h.01M133.2 386.2h.01M169.8 421.1h.01M154.2 407.5h.01M110.6 394.9h.01M92.3 417.9h.01M82.8 415.0h.01M147.7 430.6h.01M149.6 439.7h.01M136.6 397.0h.01M109.0 436.3h.01M126.2 447.2h.01M125.4 409.6h.01M96.4 395.5h.01M162.9 420.9h.01M90.5 393.9h.01M168.8 424.2h.01M87.5 409.5h.01M83.6 417.1h.01M157.5 415.5h.01M111.9 409.1h.01M140.0 436.9h.01M80.3 409.3h.01M152.0 409.7h.01M106.2 411.2h.01M82.8 407.3h.01M141.9 440.7h.01M152.5 437.2h.01M125.9 433.5h.01M100.3 421.2h.01M140.8 433.7h.01M129.6 417.6h.01M96.9 393.8h.01M148.4 425.0h.01M137.8 401.2h.01M145.0 402.3h.01M167.2 416.1h.01M98.1 397.3h.01M125.2 419.6h.01M115.9 396.1h.01M166.3 401.3h.01M129.6 434.6h.01M171.6 406.4h.01M147.0 404.9h.01M111.5 425.2h.01M124.3 411.7h.01M114.2 437.7h.01M171.5 414.0h.01M136.8 450.9h.01M141.4 439.1h.01M153.2 411.6h.01M135.2 383.7h.01M115.1 395.7h.01M95.5 426.0h.01M149.6 426.0h.01M122.9 402.9h.01M157.2 417.3h.01M142.9 386.3h.01M80.7 415.7h.01M112.8 426.0h.01M168.4 401.2h.01M123.7 400.5h.01M146.5 393.2h.01M104.5 433.1h.01M158.7 427.7h.01M134.9 448.1h.01M88.7 394.2h.01M155.5 429.4h.01M144.0 391.9h.01M106.3 413.5h.01M95.2 427.2h.01M139.5 431.0h.01M139.2 428.0h.01M112.3 421.9h.01M123.3 412.0h.01M114.7 422.0h.01M125.7 436.7h.01M95.8 409.4h.01M84.6 410.5h.01M155.1 423.9h.01M106.8 418.2h.01M119.3 383.0h.01M82.8 412.5h.01M161.9 433.3h.01M138.8 399.9h.01M153.1 387.5h.01M124.1 444.8h.01M168.8 412.8h.01M170.5 415.9h.01M109.1 410.6h.01M129.1 420.0h.01M160.7 424.9h.01M112.9 399.5h.01M165.5 402.8h.01M115.0 378.4h.01M125.3 410.1h.01M144.8 388.7h.01M92.6 401.2h.01M135.1 409.3h.01M147.6 393.6h.01M171.0 414.0h.01M150.1 399.6h.01M107.8 410.8h.01M162.0 403.9h.01M100.4 429.6h.01M154.0 404.7h.01M132.7 446.7h.01M136.6 449.5h.01M160.4 399.6h.01M130.9 393.1h.01M153.5 419.7h.01M158.8 430.4h.01M149.2 411.9h.01M135.5 416.0h.01M121.7 436.8h.01M112.9 432.8h.01M137.7 393.2h.01M89.7 412.1h.01M138.5 388.8h.01M138.9 422.9h.01M136.7 417.5h.01M152.4 397.6h.01M80.1 417.9h.01M126.6 408.6h.01M167.5 423.6h.01M88.9 409.7h.01M100.0 404.5h.01M108.1 430.8h.01M98.4 408.9h.01M116.1 421.0h.01M101.0 420.6h.01M145.4 439.4h.01M151.9 413.6h.01M105.0 421.5h.01M146.7 395.2h.01M121.1 435.4h.01M145.8 444.1h.01M90.0 411.6h.01M160.8 427.1h.01M83.5 408.2h.01M161.2 430.0h.01M147.4 400.2h.01M117.2 386.8h.01M137.3 403.5h.01M112.4 433.5h.01M170.7 404.0h.01M137.9 414.4h.01M138.6 416.4h.01M147.0 417.0h.01M162.7 407.3h.01M98.5 400.6h.01M157.4 413.0h.01M152.2 426.2h.01M94.1 417.9h.01M145.5 416.3h.01M122.8 420.5h.01M101.7 399.3h.01M123.8 379.3h.01M139.5 426.7h.01M151.5 413.3h.01M136.9 449.4h.01M165.5 397.8h.01M91.0 394.6h.01M160.4 417.5h.01M124.3 414.6h.01M151.7 419.2h.01M130.6 440.2h.01M141.0 418.8h.01M120.8 421.1h.01M141.6 413.4h.01M134.9 413.7h.01M145.3 387.5h.01M167.5 400.3h.01M166.0 416.2h.01M172.1 421.8h.01M156.1 411.9h.01M136.9 379.8h.01M151.9 428.0h.01M146.4 382.7h.01M142.1 397.3h.01M154.2 418.4h.01M137.3 445.9h.01M80.7 400.3h.01M152.1 414.6h.01M157.5 395.7h.01M117.6 408.6h.01M81.6 404.0h.01M83.8 398.4h.01M127.2 438.9h.01M90.2 419.0h.01M112.9 418.2h.01M144.2 433.9h.01M159.6 435.2h.01M175.8 409.7h.01M163.2 409.5h.01M82.9 423.8h.01M143.8 382.0h.01M174.7 405.5h.01M103.5 400.4h.01M107.8 381.3h.01M142.3 413.3h.01M153.2 434.7h.01M173.7 405.5h.01M104.3 393.5h.01M102.2 402.5h.01M120.8 430.7h.01M139.5 429.5h.01M161.5 432.5h.01M81.5 400.1h.01M137.5 428.5h.01M95.2 417.5h.01M124.0 436.8h.01M156.9 427.9h.01M97.0 432.4h.01M125.3 434.4h.01M129.5 436.2h.01M163.6 407.5h.01M125.8 384.3h.01M121.8 378.4h.01M90.6 407.0h.01M133.3 449.6h.01M98.0 405.6h.01M135.8 445.4h.01M144.1 446.3h.01M106.0 398.5h.01M149.1 420.3h.01M100.7 408.9h.01M119.7 433.7h.01M135.9 443.9h.01M156.2 411.2h.01M118.6 390.8h.01M104.4 389.0h.01M150.3 413.2h.01M173.2 405.1h.01M91.1 398.8h.01M142.3 397.6h.01M87.2 398.2h.01M158.3 434.8h.01M143.3 431.8h.01M143.7 416.7h.01M129.5 407.5h.01M101.1 429.3h.01M134.0 402.2h.01M164.1 410.0h.01M157.0 411.5h.01M111.8 410.2h.01M95.8 425.1h.01M84.7 397.5h.01M117.2 421.9h.01M134.0 395.6h.01M119.2 383.2h.01M136.9 408.2h.01M128.8 439.7h.01M96.9 390.2h.01M82.1 407.6h.01M146.3 406.2h.01M122.0 409.2h.01M169.0 417.0h.01M114.5 399.7h.01M123.1 444.8h.01M144.0 435.2h.01M137.4 434.9h.01M128.9 407.9h.01M150.7 419.8h.01M156.8 413.6h.01M140.3 427.3h.01M150.0 391.5h.01M122.6 402.7h.01M110.9 424.6h.01M93.2 390.8h.01M89.0 400.3h.01M141.8 401.3h.01M126.8 393.1h.01M171.7 424.6h.01M147.1 394.5h.01M122.6 393.5h.01M112.8 436.2h.01M157.3 408.3h.01M165.4 405.6h.01M129.0 384.5h.01M133.7 398.8h.01M140.5 386.5h.01M163.7 409.3h.01M173.6 421.1h.01M158.1 418.8h.01M157.4 418.3h.01M150.1 383.1h.01M90.0 410.0h.01M104.3 425.8h.01M160.1 435.0h.01M151.2 439.9h.01M116.4 380.8h.01M128.7 424.2h.01M161.0 425.6h.01M138.6 430.7h.01M177.5 415.3h.01M141.9 439.0h.01M124.0 433.7h.01M158.0 399.7h.01M132.1 383.7h.01M143.3 385.1h.01M143.0 415.7h.01M104.9 393.3h.01M105.1 419.6h.01M128.0 413.9h.01M104.8 394.1h.01M114.1 424.2h.01M143.1 388.5h.01M165.6 405.5h.01M144.3 420.4h.01M92.0 405.3h.01M155.8 416.8h.01M115.2 383.9h.01M137.8 405.7h.01M94.9 422.0h.01M145.7 431.5h.01M129.4 404.9h.01M86.5 422.2h.01M87.2 419.8h.01M105.4 402.9h.01M86.7 399.2h.01M151.3 439.8h.01M111.4 430.8h.01M110.1 433.6h.01M147.3 391.8h.01M86.2 419.4h.01M163.2 400.1h.01M139.8 431.4h.01M139.9 417.1h.01M128.8 383.0h.01M165.1 408.4h.01M155.6 408.4h.01M105.1 406.7h.01M159.1 417.5h.01M126.8 414.1h.01M157.8 416.2h.01M88.7 422.2h.01M129.1 447.9h.01M152.7 389.9h.01M114.3 409.8h.01M142.8 446.5h.01M110.1 424.4h.01M104.6 404.4h.01M121.4 438.0h.01M104.3 389.4h.01M123.3 395.4h.01M139.4 435.3h.01M84.4 414.7h.01M103.4 426.4h.01M134.4 445.4h.01M122.3 428.5h.01M141.7 440.5h.01M143.3 445.4h.01M167.4 416.7h.01M113.0 424.0h.01M119.8 410.4h.01M96.8 403.1h.01M144.8 378.9h.01M142.9 420.5h.01M97.0 431.6h.01M161.0 396.3h.01M79.8 407.9h.01M141.4 433.5h.01M161.0 400.7h.01M138.2 417.8h.01M94.6 390.7h.01M131.6 447.4h.01M147.5 415.7h.01M120.6 387.8h.01M160.6 416.2h.01M158.1 425.5h.01M169.9 409.8h.01M171.0 415.7h.01M88.9 420.4h.01M121.9 442.8h.01M105.3 426.5h.01M143.9 434.5h.01M141.7 438.2h.01M153.5 427.8h.01M143.0 444.5h.01M145.2 403.8h.01M140.3 430.8h.01M140.6 391.5h.01M142.9 437.3h.01M147.7 389.6h.01M137.4 431.8h.01M176.3 413.7h.01M171.9 425.6h.01M143.4 437.2h.01M115.8 427.9h.01M153.2 434.4h.01M132.7 433.9h.01M105.6 402.3h.01M155.1 428.0h.01M92.7 417.6h.01M153.7 387.0h.01M136.0 406.5h.01M158.5 393.2h.01M91.2 393.1h.01M173.7 421.3h.01M158.2 409.4h.01M105.8 430.1h.01M100.3 408.1h.01M134.8 419.5h.01M131.1 393.8h.01M134.4 385.9h.01M143.9 422.3h.01M135.6 414.2h.01M131.6 401.7h.01M177.7 413.9h.01M108.9 380.9h.01M158.2 417.1h.01M152.5 395.9h.01M113.0 389.1h.01M108.0 382.8h.01M169.4 428.1h.01M79.6 409.9h.01M134.7 399.9h.01M143.9 401.1h.01M140.6 439.2h.01M132.3 432.3h.01M138.4 427.4h.01M149.5 440.9h.01M107.8 410.2h.01M107.6 433.7h.01M150.9 440.8h.01M163.4 420.5h.01M134.5 385.2h.01M100.6 419.1h.01M151.6 396.9h.01M108.7 410.6h.01M138.1 406.3h.01M142.3 397.0h.01M106.5 421.5h.01M133.8 386.8h.01M128.9 448.3h.01M79.4 413.3h.01M142.6 400.9h.01M97.5 409.9h.01M172.1 404.3h.01M96.8 391.4h.01M86.2 407.5h.01M148.9 414.4h.01M84.5 409.3h.01M165.2 429.0h.01M141.6 387.0h.01M105.7 419.6h.01M111.3 393.2h.01M140.6 401.1h.01M154.7 396.8h.01M148.4 413.2h.01M124.5 409.2h.01M166.8 397.6h.01M155.5 436.7h.01M126.3 393.4h.01M139.5 429.6h.01M126.5 398.6h.01M157.2 412.0h.01M135.8 380.3h.01M151.6 416.1h.01M125.8 418.5h.01M108.3 429.7h.01M84.8 416.9h.01M128.7 407.2h.01M135.7 445.1h.01M164.6 396.3h.01M99.8 421.1h.01M139.9 433.5h.01M106.6 382.3h.01M123.8 404.5h.01M122.9 402.2h.01M101.5 417.8h.01M107.0 411.3h.01M89.2 421.0h.01M121.7 403.9h.01M103.0 411.4h.01M152.4 416.8h.01M169.6 405.5h.01M129.0 444.1h.01M134.5 435.6h.01M157.1 396.9h.01M159.3 432.2h.01M154.0 405.2h.01M126.8 424.4h.01M137.0 432.8h.01M96.2 394.6h.01M96.9 421.6h.01M161.1 399.0h.01M115.6 425.2h.01M100.6 429.8h.01M101.7 406.5h.01M108.0 391.8h.01M120.8 393.7h.01M114.8 380.6h.01M169.7 403.6h.01M114.2 429.2h.01M133.7 435.4h.01M81.8 413.5h.01M143.4 447.8h.01M134.2 401.7h.01M110.8 424.7h.01M114.1 427.3h.01M84.5 411.4h.01M90.1 403.6h.01M123.5 404.1h.01M146.0 387.6h.01M162.0 400.4h.01M146.7 436.6h.01M86.3 420.3h.01M125.1 418.2h.01M153.6 438.7h.01M144.0 380.2h.01M144.8 439.1h.01M111.6 379.0h.01M132.8 420.5h.01M130.5 435.6h.01M79.7 403.5h.01M153.2 386.0h.01M144.9 413.6h.01M131.3 441.3h.01M112.8 432.3h.01M135.7 413.4h.01M146.0 434.8h.01M148.7 426.0h.01M143.1 415.3h.01M168.8 428.8h.01M152.5 427.3h.01M168.7 412.2h.01M126.8 435.8h.01M137.9 406.4h.01M138.9 441.3h.01M145.9 393.3h.01M88.5 396.5h.01M81.3 416.3h.01M113.5 392.0h.01M175.1 412.3h.01M115.9 408.1h.01M105.3 426.6h.01M130.0 383.1h.01M151.9 439.9h.01M106.5 412.5h.01M105.1 418.5h.01M101.8 407.9h.01M130.9 444.6h.01M84.4 418.0h.01M104.1 415.3h.01M122.7 384.3h.01M130.9 429.6h.01M159.3 436.5h.01M98.7 391.1h.01M166.9 401.9h.01M161.3 412.6h.01M104.6 426.7h.01M120.3 386.7h.01M163.2 416.4h.01M90.7 423.1h.01M105.8 426.7h.01M145.5 439.6h.01M132.1 431.5h.01M85.9 397.8h.01M120.1 387.0h.01M155.8 413.6h.01M99.5 391.8h.01M120.7 436.6h.01M133.9 433.5h.01M142.3 383.0h.01M160.1 410.5h.01M98.8 423.9h.01M123.0 394.7h.01M138.2 427.3h.01M130.2 448.7h.01M79.7 414.2h.01M93.8 395.6h.01M115.2 406.0h.01M165.3 403.0h.01M167.5 417.0h.01M154.4 408.5h.01M123.2 395.6h.01M129.1 420.7h.01M166.2 417.5h.01M172.3 403.1h.01M95.8 431.7h.01M171.0 407.1h.01M104.0 403.5h.01M169.9 423.9h.01M101.4 426.3h.01M145.5 415.1h.01M102.4 402.1h.01M131.1 385.0h.01M161.0 411.2h.01M95.3 398.5h.01M97.3 414.1h.01M126.3 421.4h.01M99.6 423.9h.01M112.2 421.3h.01M142.2 396.4h.01M124.9 381.5h.01M145.0 411.9h.01M163.4 428.5h.01M104.0 418.9h.01M123.1 427.7h.01M89.8 403.1h.01M116.8 378.3h.01M172.7 412.3h.01M124.2 381.6h.01M138.4 423.0h.01M88.3 397.5h.01M143.3 378.4h.01M148.8 399.4h.01M153.7 438.0h.01M110.0 412.8h.01M137.5 398.6h.01M127.9 403.2h.01M147.9 405.2h.01M112.1 410.1h.01M89.9 426.2h.01M129.6 442.7h.01M138.0 378.0h.01M118.2 392.0h.01M102.5 401.5h.01M116.9 440.9h.01M139.0 417.1h.01M173.7 421.4h.01M134.2 417.0h.01M147.1 436.7h.01M132.9 416.0h.01M125.1 399.8h.01M126.2 430.6h.01M92.1 408.4h.01M119.0 427.0h.01M135.7 441.1h.01M127.5 414.4h.01M100.9 432.2h.01M149.0 436.8h.01M123.3 399.1h.01M84.7 399.3h.01M143.4 388.3h.01M125.8 399.7h.01M147.9 397.0h.01M156.7 408.4h.01M143.0 447.9h.01M105.6 419.5h.01M127.0 438.5h.01M137.4 407.7h.01M109.1 424.3h.01M132.2 397.0h.01M134.6 405.9h.01M102.5 404.3h.01M142.1 421.1h.01M121.3 391.5h.01M126.6 435.8h.01M134.7 410.0h.01M141.4 380.6h.01M130.1 383.2h.01M161.4 434.4h.01M127.0 390.8h.01M146.8 378.8h.01M137.9 406.7h.01M150.9 383.5h.01M148.4 416.1h.01M157.5 409.0h.01M95.8 397.1h.01M148.0 424.6h.01M127.1 429.2h.01M174.9 405.0h.01M128.4 421.9h.01M86.2 398.4h.01M158.7 436.9h.01M109.8 414.1h.01M140.0 385.1h.01M165.7 419.4h.01M136.7 395.9h.01M88.2 409.9h.01M90.4 399.0h.01M121.7 391.8h.01M163.1 426.8h.01M81.7 409.4h.01M109.3 386.9h.01M125.2 386.1h.01M117.4 387.6h.01M142.7 423.1h.01M144.8 401.4h.01M118.6 386.9h.01M157.3 393.9h.01M93.3 391.6h.01M143.5 413.7h.01M111.4 409.6h.01M126.5 399.8h.01M121.6 428.2h.01M113.3 424.3h.01M127.7 422.2h.01M142.4 396.2h.01M155.7 411.0h.01M117.0 427.1h.01M112.6 432.6h.01M159.9 396.7h.01M96.6 395.6h.01M136.3 389.8h.01M102.8 417.3h.01M96.3 396.3h.01M147.1 381.4h.01M150.5 416.5h.01M171.5 422.1h.01M150.2 400.9h.01M113.5 383.7h.01M81.1 410.0h.01M165.0 402.8h.01M149.5 427.0h.01M142.6 413.7h.01M175.8 415.7h.01M98.7 421.3h.01M137.2 405.3h.01M98.5 394.8h.01M95.6 422.1h.01M146.4 403.7h.01M85.9 420.9h.01M92.6 417.4h.01M143.9 384.8h.01M129.5 422.4h.01M118.0 425.5h.01M103.4 416.4h.01M153.8 434.3h.01M156.7 415.9h.01M142.1 448.7h.01M140.8 443.1h.01M159.0 427.9h.01M168.7 428.6h.01M79.3 403.4h.01M133.4 412.3h.01M120.1 442.9h.01M139.5 417.3h.01M142.5 439.6h.01M143.7 446.9h.01M144.6 384.9h.01M80.6 400.2h.01M143.4 395.6h.01M116.2 391.8h.01M149.2 425.0h.01M135.4 416.0h.01M152.5 438.3h.01M97.9 401.1h.01M154.2 435.8h.01M144.2 447.2h.01M80.2 404.3h.01M94.8 426.5h.01M169.0 399.7h.01M93.9 394.9h.01M119.2 425.4h.01M164.5 433.0h.01M144.9 414.6h.01M138.9 388.7h.01M106.2 403.8h.01M145.6 436.5h.01M160.7 394.7h.01M134.3 390.8h.01M88.7 419.6h.01M98.1 394.3h.01M96.9 394.7h.01M136.4 383.9h.01M139.2 411.7h.01M132.0 439.3h.01M106.5 426.7h.01M136.5 431.2h.01M130.9 442.2h.01M174.7 414.7h.01M171.0 427.7h.01M157.1 424.1h.01M133.8 388.7h.01M133.6 402.0h.01M153.4 412.7h.01M138.1 411.7h.01M140.0 396.9h.01M150.3 396.2h.01M109.0 381.2h.01M151.7 396.3h.01M131.5 413.2h.01M96.6 430.9h.01M144.5 414.4h.01M140.8 399.0h.01M90.2 425.4h.01M89.5 405.2h.01M115.9 440.0h.01M137.4 429.9h.01M150.3 440.0h.01M152.2 438.0h.01M150.4 389.7h.01M107.1 435.1h.01M154.6 405.7h.01M112.1 436.6h.01M150.3 402.2h.01M147.6 395.5h.01M157.2 414.9h.01M132.1 415.4h.01M115.8 408.3h.01M170.7 408.3h.01M88.9 395.2h.01M82.9 419.7h.01M90.1 420.7h.01M111.2 436.0h.01M171.5 414.4h.01M148.8 380.6h.01M135.1 392.2h.01M88.7 403.4h.01M122.3 425.0h.01M103.7 405.8h.01M146.5 427.8h.01M88.6 408.2h.01M138.4 426.5h.01M104.2 403.0h.01M151.9 438.8h.01M123.0 424.9h.01M88.6 407.9h.01M148.0 438.4h.01M140.9 446.3h.01M90.3 406.7h.01M137.7 433.7h.01M124.8 404.4h.01M154.4 435.7h.01M138.9 406.5h.01M138.6 426.1h.01M80.7 408.3h.01M97.4 417.4h.01M93.5 408.1h.01M136.8 423.2h.01M92.2 410.5h.01M98.2 423.0h.01M134.9 442.4h.01M85.5 422.0h.01M137.4 407.5h.01M167.9 404.9h.01M82.7 418.5h.01M111.3 407.6h.01M114.5 425.4h.01M144.8 425.8h.01M110.3 400.4h.01M112.4 437.0h.01M144.5 419.1h.01M159.3 426.7h.01M106.1 426.1h.01M175.1 413.2h.01M121.8 434.6h.01M131.8 433.0h.01M143.2 394.9h.01M151.5 388.1h.01M151.8 438.8h.01M153.7 411.6h.01M138.2 429.3h.01M113.3 426.3h.01M154.1 387.9h.01M120.7 388.0h.01M128.5 398.6h.01M107.2 418.3h.01M131.5 442.9h.01M92.9 409.9h.01M115.7 378.2h.01M140.0 436.5h.01M149.8 419.9h.01M121.5 415.0h.01M127.5 423.9h.01M135.1 443.0h.01M147.6 394.4h.01M141.5 431.8h.01M146.7 406.2h.01M136.4 397.0h.01M100.6 400.4h.01M89.9 419.9h.01M164.1 430.6h.01M132.0 417.1h.01M146.5 444.8h.01M171.5 415.0h.01M83.4 404.0h.01M173.9 411.6h.01M146.2 438.0h.01M165.2 395.5h.01M161.6 428.8h.01M80.6 412.9h.01M121.6 427.5h.01M146.6 422.5h.01M118.0 383.9h.01M131.7 433.6h.01M171.3 413.1h.01M104.0 425.2h.01M150.3 413.9h.01M158.5 412.6h.01M91.1 412.7h.01M134.8 388.3h.01M154.2 429.6h.01M148.4 424.0h.01M83.7 410.2h.01M175.3 410.4h.01M150.4 382.1h.01M151.8 384.9h.01M139.8 409.3h.01M146.3 445.7h.01M131.8 410.5h.01M141.3 410.4h.01M133.3 440.7h.01M108.2 411.8h.01M114.9 420.1h.01M174.6 415.2h.01M137.5 402.1h.01M140.7 416.1h.01M135.9 403.9h.01M105.8 426.5h.01M137.8 445.0h.01M127.4 449.7h.01M164.2 418.0h.01M100.9 431.2h.01M116.8 419.2h.01M97.1 397.5h.01M142.7 421.9h.01M107.8 392.3h.01M148.1 397.6h.01M131.2 439.6h.01M154.4 390.5h.01M175.5 422.3h.01M147.4 405.5h.01M89.1 405.9h.01M132.9 396.4h.01M120.7 382.8h.01M137.8 449.0h.01M150.0 412.3h.01M128.7 385.4h.01M123.6 411.4h.01M149.7 395.9h.01M168.8 402.3h.01M115.0 398.3h.01M117.2 408.8h.01M134.0 416.3h.01M159.4 429.3h.01M130.4 400.6h.01M94.5 391.2h.01M90.6 409.2h.01M166.3 406.3h.01M174.5 412.7h.01M135.2 422.6h.01M133.4 446.3h.01M145.1 435.4h.01M102.9 423.9h.01M127.3 445.8h.01M112.4 391.5h.01M109.1 399.2h.01M144.4 392.4h.01M122.6 393.1h.01M107.6 417.4h.01M140.8 405.3h.01M107.0 402.1h.01M119.7 437.5h.01M93.4 417.0h.01M162.8 428.5h.01M115.6 411.5h.01M112.2 417.7h.01M80.7 418.5h.01M133.1 382.4h.01M137.3 401.7h.01M86.8 404.0h.01M86.0 404.0h.01M137.2 388.3h.01M132.5 440.4h.01M115.9 385.5h.01M119.9 423.3h.01M105.8 403.0h.01M145.3 409.2h.01M150.9 419.6h.01M155.4 391.4h.01M106.3 427.5h.01M120.6 432.8h.01M141.8 430.4h.01M111.0 426.7h.01M86.3 410.5h.01M115.8 408.9h.01M141.8 384.3h.01M167.4 399.1h.01M81.7 407.9h.01M132.9 383.8h.01M123.6 400.1h.01M143.0 425.0h.01M157.0 427.3h.01M132.8 415.1h.01M89.3 412.1h.01M79.3 413.1h.01M161.0 428.4h.01M152.1 413.7h.01M121.7 391.1h.01M86.7 427.7h.01M145.8 439.8h.01M113.9 418.2h.01M98.5 396.2h.01M115.2 386.3h.01M108.9 396.8h.01M108.6 414.7h.01M150.5 431.0h.01M99.6 421.9h.01M134.0 413.2h.01M164.6 408.0h.01M112.0 422.4h.01M137.3 420.9h.01M89.9 396.1h.01M164.6 405.4h.01M137.1 450.5h.01M162.1 417.4h.01M155.2 416.0h.01M103.1 430.8h.01M150.1 420.3h.01M88.6 421.1h.01M132.2 404.9h.01M146.6 388.3h.01M81.1 414.3h.01M140.4 381.9h.01M165.3 395.1h.01M126.8 399.3h.01M121.2 444.9h.01M124.6 403.0h.01M169.7 427.0h.01M105.7 419.5h.01M125.9 431.0h.01M116.2 425.1h.01M124.2 411.0h.01M148.6 414.4h.01M102.9 416.1h.01M125.3 433.6h.01M149.3 429.2h.01M115.8 385.7h.01M146.6 411.5h.01M119.4 390.5h.01M153.8 421.7h.01M148.6 394.9h.01M96.4 420.7h.01M92.9 395.1h.01M89.6 422.8h.01M101.0 426.8h.01M85.4 416.5h.01M162.0 402.3h.01M129.9 436.9h.01M169.8 417.5h.01M126.9 448.9h.01M144.7 413.6h.01M114.9 398.8h.01M124.3 397.2h.01M106.8 420.4h.01M163.0 425.9h.01M107.7 411.3h.01M115.3 398.0h.01M131.0 441.2h.01M154.7 405.9h.01M126.8 445.8h.01M95.9 405.8h.01M115.7 381.4h.01M80.1 411.2h.01M156.0 392.1h.01M119.5 421.0h.01M170.9 414.2h.01M114.0 438.9h.01M135.9 438.2h.01M106.0 393.0h.01M91.6 408.9h.01M149.0 438.0h.01M107.1 387.7h.01M99.2 409.9h.01M168.4 403.2h.01M110.7 383.8h.01M98.0 405.7h.01M114.9 419.5h.01M89.9 409.4h.01M135.1 440.6h.01M144.7 384.4h.01M139.9 432.3h.01M111.4 414.6h.01M109.5 432.5h.01M155.8 438.5h.01M126.7 424.9h.01M87.8 405.9h.01M123.6 444.7h.01M147.6 426.9h.01M137.8 432.2h.01M138.3 393.5h.01M126.4 399.6h.01M103.4 409.0h.01M119.2 427.5h.01M153.1 395.7h.01M149.0 437.4h.01M130.8 430.2h.01M136.8 411.1h.01M141.8 432.6h.01M131.7 450.0h.01M127.0 385.4h.01M122.9 393.4h.01M91.7 398.3h.01M142.8 391.9h.01M89.6 406.0h.01M152.2 412.7h.01M132.8 383.7h.01M115.6 381.4h.01M138.0 405.9h.01M93.3 408.6h.01M117.7 424.3h.01M146.1 380.1h.01M151.4 412.8h.01M169.0 404.1h.01M170.7 404.6h.01M104.6 389.6h.01M131.6 420.2h.01M122.0 385.8h.01M89.1 421.9h.01M144.2 421.3h.01M109.4 391.4h.01M150.7 388.3h.01M87.3 408.0h.01M112.4 420.8h.01M150.2 418.6h.01M126.0 404.3h.01M125.3 382.2h.01M109.1 399.2h.01M125.1 419.8h.01M107.6 435.1h.01M169.6 397.2h.01M111.6 385.9h.01M125.7 399.1h.01M148.1 413.1h.01M103.9 406.8h.01M113.4 399.9h.01M113.0 426.2h.01M135.8 397.6h.01M143.3 432.8h.01M107.9 411.0h.01M144.5 436.9h.01M117.5 424.5h.01M119.4 379.1h.01M166.1 404.6h.01M139.9 442.0h.01M141.8 388.3h.01M99.3 432.1h.01M150.7 419.2h.01M134.5 441.4h.01M91.1 395.5h.01M157.3 407.5h.01M156.2 424.4h.01M143.6 397.2h.01M146.1 435.6h.01M106.6 414.7h.01M142.1 447.7h.01M142.6 397.4h.01M141.4 432.1h.01M109.3 424.5h.01M98.4 409.9h.01M133.2 411.6h.01M156.8 415.0h.01M133.0 450.4h.01M107.8 397.4h.01M122.3 432.3h.01M138.3 422.9h.01M116.9 384.5h.01M150.5 403.8h.01M165.8 408.1h.01M137.5 434.0h.01M93.8 425.9h.01M125.7 408.2h.01M125.1 422.1h.01M144.0 401.6h.01M136.3 431.8h.01M133.7 406.3h.01M153.6 411.9h.01M141.1 438.4h.01M111.2 399.9h.01M113.5 437.7h.01M133.4 445.3h.01M108.7 381.1h.01M144.5 438.9h.01M143.5 427.0h.01M128.1 423.0h.01M108.7 429.5h.01M87.1 410.9h.01M85.0 426.8h.01M102.2 416.7h.01M150.7 390.7h.01M167.8 402.5h.01M131.7 387.2h.01M139.8 437.6h.01M120.2 434.6h.01M177.1 414.8h.01M129.4 439.6h.01M89.8 420.3h.01M142.4 441.1h.01M104.0 408.4h.01M113.2 433.1h.01M136.9 445.3h.01M121.7 427.4h.01M106.6 420.6h.01M86.9 407.3h.01M82.6 423.8h.01M150.9 441.8h.01M134.7 448.2h.01M99.7 430.1h.01M93.7 421.3h.01M125.9 445.7h.01M98.6 430.1h.01M127.0 433.4h.01M150.8 388.7h.01M154.2 389.3h.01M116.8 391.2h.01M111.2 434.1h.01M155.1 414.9h.01M144.5 424.4h.01M125.7 401.6h.01M105.4 393.1h.01M83.9 397.9h.01M97.8 429.2h.01M104.6 430.7h.01M145.8 400.7h.01M115.0 379.2h.01M136.4 403.4h.01M168.4 416.5h.01M85.7 397.3h.01M141.2 414.1h.01M82.6 406.6h.01M108.6 410.5h.01M164.3 408.2h.01M127.1 419.2h.01M117.4 409.3h.01M156.9 418.2h.01M132.1 433.7h.01M134.4 443.7h.01M115.1 433.3h.01M108.1 397.8h.01M106.0 430.5h.01M82.7 401.0h.01M138.6 405.3h.01M96.5 428.3h.01M132.7 414.7h.01M109.6 420.7h.01M84.0 414.2h.01M149.0 427.7h.01M147.3 437.6h.01M166.1 417.1h.01M131.6 410.7h.01M96.1 421.3h.01M139.5 431.0h.01M158.6 436.8h.01M120.8 407.9h.01M151.4 427.4h.01M154.4 407.1h.01M105.7 401.8h.01M124.9 380.5h.01M168.7 406.5h.01M162.4 429.1h.01M130.2 438.2h.01M158.6 396.8h.01M167.8 429.0h.01M141.0 439.1h.01M171.9 421.5h.01M93.5 421.5h.01M160.2 427.1h.01M129.4 438.6h.01M149.1 402.3h.01M139.2 447.0h.01M166.1 404.4h.01M130.7 420.3h.01M143.3 378.4h.01M117.1 408.6h.01M175.8 413.3h.01M87.9 419.0h.01M110.0 416.0h.01M115.0 406.1h.01M172.3 409.2h.01M142.8 395.4h.01M110.2 433.7h.01M134.0 387.2h.01M105.9 393.1h.01M126.7 420.8h.01M84.8 403.3h.01M110.2 425.2h.01M109.5 398.4h.01M86.8 397.6h.01M135.6 433.9h.01M114.1 427.5h.01M150.0 429.2h.01M112.4 388.9h.01M170.8 427.1h.01M149.1 428.6h.01M120.8 433.3h.01M140.0 430.7h.01M127.0 435.0h.01M143.8 433.8h.01M114.6 407.9h.01M163.6 415.8h.01M101.8 429.7h.01M152.0 441.2h.01M122.0 427.6h.01M136.8 449.4h.01M173.5 402.1h.01M120.5 393.4h.01M159.6 417.1h.01M92.4 429.9h.01M133.1 381.6h.01M95.2 396.2h.01M146.0 430.3h.01M137.8 411.7h.01M133.6 399.2h.01M129.0 421.7h.01M115.8 409.1h.01M82.4 399.2h.01M145.2 425.1h.01M153.0 417.8h.01M156.0 432.6h.01M115.6 383.1h.01M162.8 402.2h.01M147.2 381.4h.01M117.5 392.1h.01M90.0 418.1h.01M114.9 382.1h.01M112.0 421.4h.01M130.5 421.3h.01M135.6 409.8h.01M156.7 418.6h.01M137.9 450.6h.01M152.9 413.1h.01M153.1 419.0h.01M142.0 399.6h.01M136.2 397.9h.01M105.7 387.5h.01M133.3 433.1h.01M143.2 398.2h.01M117.1 424.8h.01M105.6 419.0h.01M122.2 406.8h.01M178.6 416.3h.01M139.1 450.6h.01M88.6 412.2h.01M107.4 417.3h.01M152.6 395.5h.01M93.0 396.9h.01M145.7 412.2h.01M90.6 406.2h.01M162.7 428.3h.01M136.0 413.2h.01M108.0 398.2h.01M121.0 400.7h.01M147.6 430.2h.01M93.0 408.2h.01M80.1 409.7h.01M137.0 441.1h.01M143.9 418.8h.01M103.0 400.9h.01M141.6 437.9h.01M102.7 398.0h.01M141.8 414.8h.01M124.9 385.1h.01M116.9 380.6h.01M133.9 399.5h.01M124.0 417.0h.01M108.6 392.4h.01M141.4 414.8h.01M168.5 399.3h.01M124.8 397.7h.01M108.9 403.7h.01M137.9 419.7h.01M174.0 414.3h.01M163.0 404.0h.01M81.9 402.6h.01M160.7 405.8h.01M163.0 425.6h.01M162.1 401.5h.01M84.6 400.4h.01M123.1 405.1h.01M151.2 437.3h.01M140.5 401.2h.01M153.3 418.9h.01M146.1 418.4h.01M146.9 410.3h.01M160.4 429.1h.01M139.4 403.9h.01M149.8 391.0h.01M149.4 428.3h.01M83.4 411.4h.01M176.1 416.0h.01M139.4 428.7h.01M134.0 434.2h.01M107.9 425.6h.01M174.0 405.4h.01M91.5 408.5h.01M167.0 424.7h.01M144.2 380.6h.01M107.6 416.9h.01M125.6 390.4h.01M139.5 391.1h.01M155.8 424.5h.01M145.0 421.0h.01M107.0 390.1h.01M142.3 384.5h.01M129.7 413.1h.01M111.6 431.9h.01M86.7 427.5h.01M118.1 377.8h.01M146.3 398.8h.01M104.2 408.4h.01M139.9 427.5h.01M125.6 448.0h.01M144.3 412.8h.01M143.7 381.8h.01M142.9 402.1h.01M164.8 408.7h.01M109.3 400.0h.01M135.5 432.1h.01M104.8 405.3h.01M133.3 388.7h.01M151.3 420.3h.01M156.8 427.2h.01M96.2 396.9h.01M90.0 423.1h.01M109.6 391.8h.01M144.2 447.0h.01M136.1 404.2h.01M82.1 403.8h.01M112.8 436.7h.01M176.8 411.5h.01M137.0 406.3h.01M101.7 398.5h.01M84.3 403.7h.01M97.1 406.9h.01M119.7 440.6h.01M170.0 397.7h.01M175.6 406.7h.01M144.8 437.8h.01M113.6 383.9h.01M114.6 399.2h.01M146.5 436.6h.01M155.7 408.2h.01M124.0 445.7h.01M136.8 405.7h.01M171.9 426.0h.01M88.6 399.7h.01M105.0 387.0h.01M154.8 405.7h.01M155.3 423.7h.01M131.8 383.9h.01M99.4 431.9h.01M121.8 427.6h.01M138.6 446.5h.01M88.6 423.8h.01M154.1 435.8h.01M118.7 382.7h.01M158.2 409.6h.01M80.4 417.7h.01M96.6 422.4h.01M132.6 386.2h.01M146.3 426.9h.01M138.5 403.9h.01M152.9 437.7h.01M153.4 434.7h.01M113.7 389.3h.01M138.8 431.6h.01M89.7 409.5h.01M122.8 394.2h.01M124.2 428.8h.01M122.1 394.6h.01M145.4 424.9h.01M104.5 393.0h.01M138.7 431.6h.01M154.5 399.1h.01M137.0 380.8h.01M98.7 400.0h.01M121.5 446.3h.01M137.6 448.0h.01M147.7 425.2h.01M116.7 392.4h.01M126.1 437.6h.01M112.5 387.2h.01M95.6 392.1h.01M148.2 440.1h.01M129.8 423.5h.01M140.3 390.2h.01M136.8 441.4h.01M148.0 425.3h.01M143.1 427.1h.01M158.1 391.9h.01M82.4 409.9h.01M128.3 384.9h.01M138.7 448.8h.01M135.3 401.7h.01M158.0 397.8h.01M88.3 398.2h.01M159.6 427.7h.01M136.8 380.4h.01M127.5 414.6h.01M115.6 423.3h.01M113.3 420.2h.01M138.2 379.9h.01M101.0 399.2h.01M112.3 427.5h.01M95.5 410.6h.01M126.2 437.3h.01M114.5 409.4h.01M148.6 380.2h.01M85.6 414.5h.01M88.9 396.6h.01M155.5 415.8h.01M106.9 418.5h.01M81.0 409.1h.01M144.4 431.3h.01M177.6 415.4h.01M125.8 380.4h.01M124.5 384.1h.01M168.6 400.3h.01M148.8 394.8h.01M126.1 435.6h.01M133.0 383.0h.01M95.0 428.8h.01M134.5 434.3h.01M88.1 419.5h.01M147.7 410.9h.01M109.4 425.8h.01M134.2 436.2h.01M131.6 424.2h.01M140.1 417.9h.01M114.2 429.9h.01M109.2 436.3h.01M133.3 382.4h.01M87.2 406.2h.01M100.9 394.6h.01M125.3 393.7h.01M130.5 435.8h.01M112.6 378.4h.01M134.8 446.8h.01M89.5 393.9h.01M84.3 403.8h.01M161.0 430.1h.01M155.2 412.2h.01M136.9 429.6h.01M143.7 379.2h.01M102.7 400.2h.01M123.2 411.2h.01M139.9 385.2h.01M158.2 408.0h.01M116.1 438.5h.01M92.2 392.0h.01M108.6 434.5h.01M130.8 419.9h.01M80.1 408.3h.01M98.7 419.1h.01M82.3 417.1h.01M97.0 421.9h.01M171.5 422.2h.01M97.6 396.6h.01M143.2 434.9h.01M163.5 428.7h.01M137.7 391.4h.01M135.0 403.0h.01M115.8 433.2h.01M103.2 407.0h.01M97.3 394.1h.01M154.5 423.5h.01M137.9 400.6h.01M137.5 408.6h.01M78.6 407.3h.01M111.7 387.3h.01M164.6 417.3h.01M149.6 413.1h.01M164.4 404.9h.01M92.7 425.3h.01M161.9 400.2h.01M97.1 404.4h.01M116.7 396.8h.01M144.1 425.6h.01M143.5 416.6h.01M132.4 441.5h.01M87.6 402.8h.01M131.4 441.5h.01M158.9 394.0h.01M143.0 439.0h.01M111.6 389.5h.01M130.9 392.4h.01M98.9 409.1h.01M142.7 440.5h.01M91.4 396.5h.01M125.5 381.5h.01M155.8 417.4h.01M85.1 404.3h.01M142.7 415.1h.01M159.2 425.6h.01M173.0 401.9h.01M169.4 424.8h.01M142.6 387.6h.01M138.0 429.3h.01M134.3 449.6h.01M129.6 393.2h.01M113.4 409.2h.01M150.6 435.3h.01M169.2 396.0h.01M149.4 402.1h.01M145.2 420.1h.01M146.4 402.3h.01M156.0 423.9h.01M121.0 387.9h.01M169.9 400.6h.01M143.8 447.0h.01M130.9 414.9h.01M85.2 412.1h.01M153.9 410.4h.01M140.9 381.3h.01M158.2 412.6h.01M85.1 404.6h.01M112.7 418.0h.01M71.7 395.5h.01M80.0 420.0h.01M83.0 428.0h.01M176.0 393.0h.01M172.0 391.0h.01M90.0 390.0h.01" stroke="#f8766d" stroke-width="1.75" stroke-linecap="round" fill="none"/>
<path opacity="0.0" d="M96.2,469.5 L99.5,467.6 L104,466.8 L108,466.6 L111.5,467.6 L113,469 L116,469.8 L121,469.6 L126.5,469.4 L128,467.8 L129.8,470 L133.1,472.4 L133,474.3 L127,474.6 L121,475.4 L115,474.8 L111,476 L105,476.6 L100.5,475.6 L97.5,473 Z" fill="#b79f00"/>
<path d="M95.8 467.8h.01M99.0 466.5h.01M104.0 466.0h.01M110.5 466.3h.01M113.0 467.8h.01M118.0 468.8h.01M124.0 469.0h.01M128.5 467.5h.01M131.0 471.0h.01M101.0 477.0h.01M108.0 477.0h.01" stroke="#b79f00" stroke-width="1.6" stroke-linecap="round" fill="none"/>
<path d="M122.5,353.5 C124,352.3 128,352.3 129.5,353.5 C130.2,354.5 129.3,355.5 128.3,356.3 C130,356 132,357 131.2,358.5 C129.5,360 127,360 126,358.8 C125.5,357.5 126.5,356.5 127,355.9 C125,355.7 122.5,355.6 122.3,354.6 Z" fill="#00ba38"/>
<ellipse cx="177.9" cy="378.5" rx="1.3" ry="1" fill="#f564e3"/>
<ellipse cx="201" cy="412.1" rx="1.4" ry="1.8" fill="#619cff"/>
<circle cx="116.6" cy="489.6" r="2" fill="#00bfc4"/>
<g font-family='"Liberation Sans", sans-serif' font-size="9.2">
<text x="71.6" y="364.8" fill="#00ba38">Endothelium</text>
<text x="133.1" y="373.5" fill="#f564e3">Oligodendrocytes</text>
<text x="113.7" y="463.7" fill="#b79f00">Mural cells</text>
<text x="119.9" y="492.2" fill="#00bfc4">Neurons</text>
<text transform="translate(59.4,418.6) rotate(45)" fill="#f8766d">Astrocytes</text>
<text transform="translate(175.9,447.2) rotate(-43)" fill="#619cff">Microglia</text>
</g>
</svg>
</body></html>
